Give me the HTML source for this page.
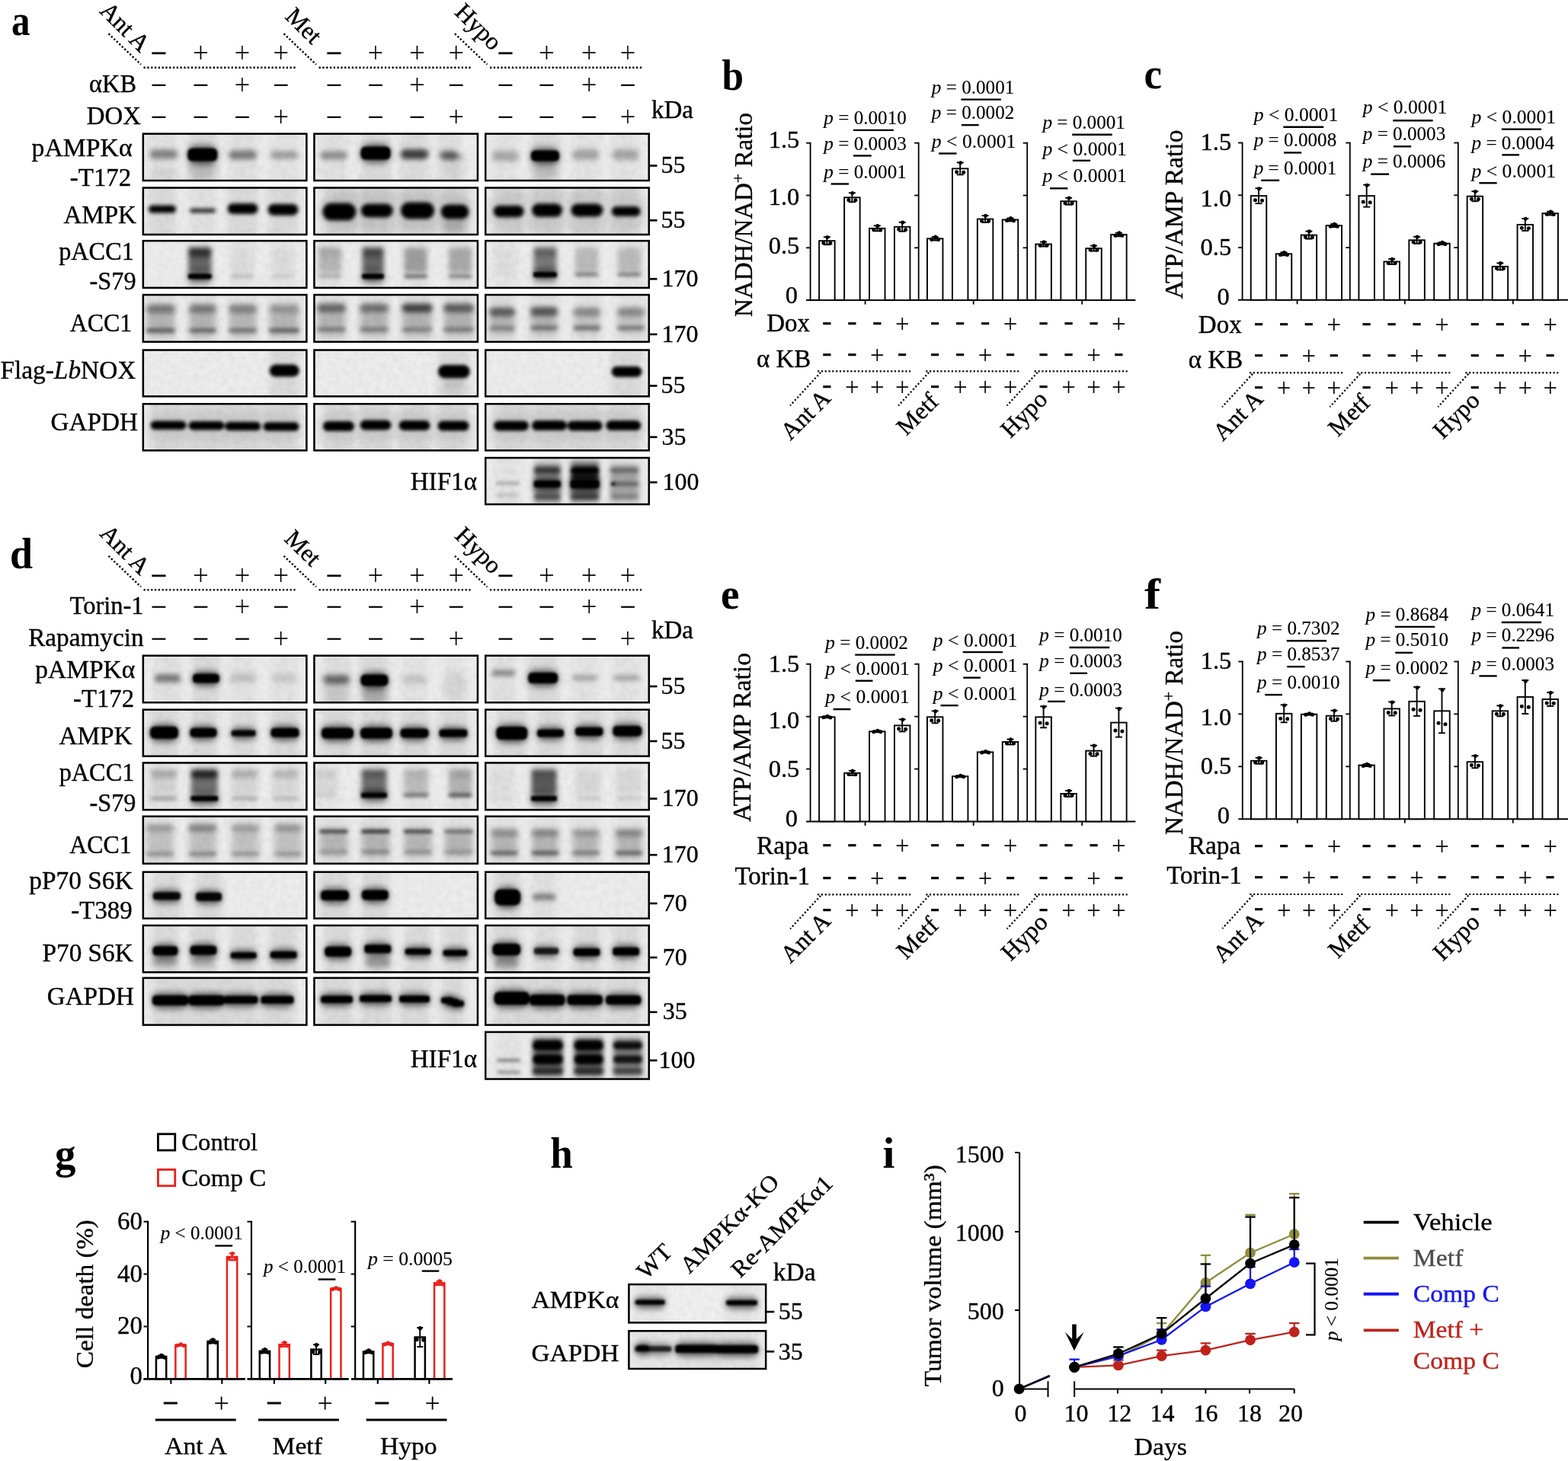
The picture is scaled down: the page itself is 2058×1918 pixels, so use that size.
<!DOCTYPE html>
<html lang="en"><head><meta charset="utf-8"><title>Figure</title>
<style>html,body{margin:0;padding:0;background:#fff}svg{display:block}text{font-family:'Liberation Serif','DejaVu Serif',serif}</style>
</head><body>
<svg width="2058" height="1918" viewBox="0 0 2058 1918">
<defs><clipPath id="c1"><rect x="186.6" y="174.4" width="217" height="63.9"/></clipPath><filter id="c1b5" filterUnits="userSpaceOnUse" x="166.6" y="154.4" width="257" height="103.9"><feGaussianBlur stdDeviation="5"/></filter><filter id="c1b4" filterUnits="userSpaceOnUse" x="166.6" y="154.4" width="257" height="103.9"><feGaussianBlur stdDeviation="4"/></filter><filter id="c1b3_2" filterUnits="userSpaceOnUse" x="166.6" y="154.4" width="257" height="103.9"><feGaussianBlur stdDeviation="3.2"/></filter><filter id="c1b1_7" filterUnits="userSpaceOnUse" x="166.6" y="154.4" width="257" height="103.9"><feGaussianBlur stdDeviation="1.7"/></filter><clipPath id="c2"><rect x="411.2" y="174.4" width="217" height="63.9"/></clipPath><filter id="c2b5" filterUnits="userSpaceOnUse" x="391.2" y="154.4" width="257" height="103.9"><feGaussianBlur stdDeviation="5"/></filter><filter id="c2b4" filterUnits="userSpaceOnUse" x="391.2" y="154.4" width="257" height="103.9"><feGaussianBlur stdDeviation="4"/></filter><filter id="c2b3_5" filterUnits="userSpaceOnUse" x="391.2" y="154.4" width="257" height="103.9"><feGaussianBlur stdDeviation="3.5"/></filter><filter id="c2b3_2" filterUnits="userSpaceOnUse" x="391.2" y="154.4" width="257" height="103.9"><feGaussianBlur stdDeviation="3.2"/></filter><filter id="c2b3" filterUnits="userSpaceOnUse" x="391.2" y="154.4" width="257" height="103.9"><feGaussianBlur stdDeviation="3"/></filter><filter id="c2b1_7" filterUnits="userSpaceOnUse" x="391.2" y="154.4" width="257" height="103.9"><feGaussianBlur stdDeviation="1.7"/></filter><clipPath id="c3"><rect x="636" y="174.4" width="217" height="63.9"/></clipPath><filter id="c3b5" filterUnits="userSpaceOnUse" x="616" y="154.4" width="257" height="103.9"><feGaussianBlur stdDeviation="5"/></filter><filter id="c3b4" filterUnits="userSpaceOnUse" x="616" y="154.4" width="257" height="103.9"><feGaussianBlur stdDeviation="4"/></filter><filter id="c3b3_5" filterUnits="userSpaceOnUse" x="616" y="154.4" width="257" height="103.9"><feGaussianBlur stdDeviation="3.5"/></filter><filter id="c3b1_7" filterUnits="userSpaceOnUse" x="616" y="154.4" width="257" height="103.9"><feGaussianBlur stdDeviation="1.7"/></filter><clipPath id="c4"><rect x="186.6" y="245.3" width="217" height="63.9"/></clipPath><filter id="c4b5" filterUnits="userSpaceOnUse" x="166.6" y="225.3" width="257" height="103.9"><feGaussianBlur stdDeviation="5"/></filter><filter id="c4b2_5" filterUnits="userSpaceOnUse" x="166.6" y="225.3" width="257" height="103.9"><feGaussianBlur stdDeviation="2.5"/></filter><clipPath id="c5"><rect x="411.2" y="245.3" width="217" height="63.9"/></clipPath><filter id="c5b6" filterUnits="userSpaceOnUse" x="391.2" y="225.3" width="257" height="103.9"><feGaussianBlur stdDeviation="6"/></filter><filter id="c5b5" filterUnits="userSpaceOnUse" x="391.2" y="225.3" width="257" height="103.9"><feGaussianBlur stdDeviation="5"/></filter><filter id="c5b2_5" filterUnits="userSpaceOnUse" x="391.2" y="225.3" width="257" height="103.9"><feGaussianBlur stdDeviation="2.5"/></filter><clipPath id="c6"><rect x="636" y="245.3" width="217" height="63.9"/></clipPath><filter id="c6b6" filterUnits="userSpaceOnUse" x="616" y="225.3" width="257" height="103.9"><feGaussianBlur stdDeviation="6"/></filter><filter id="c6b5" filterUnits="userSpaceOnUse" x="616" y="225.3" width="257" height="103.9"><feGaussianBlur stdDeviation="5"/></filter><filter id="c6b2_5" filterUnits="userSpaceOnUse" x="616" y="225.3" width="257" height="103.9"><feGaussianBlur stdDeviation="2.5"/></filter><clipPath id="c7"><rect x="186.6" y="314.9" width="217" height="64.2"/></clipPath><filter id="c7b5" filterUnits="userSpaceOnUse" x="166.6" y="294.9" width="257" height="104.2"><feGaussianBlur stdDeviation="5"/></filter><filter id="c7b4" filterUnits="userSpaceOnUse" x="166.6" y="294.9" width="257" height="104.2"><feGaussianBlur stdDeviation="4"/></filter><filter id="c7b3" filterUnits="userSpaceOnUse" x="166.6" y="294.9" width="257" height="104.2"><feGaussianBlur stdDeviation="3"/></filter><filter id="c7b2_4" filterUnits="userSpaceOnUse" x="166.6" y="294.9" width="257" height="104.2"><feGaussianBlur stdDeviation="2.4"/></filter><filter id="c7b1_7" filterUnits="userSpaceOnUse" x="166.6" y="294.9" width="257" height="104.2"><feGaussianBlur stdDeviation="1.7"/></filter><clipPath id="c8"><rect x="411.2" y="314.9" width="217" height="64.2"/></clipPath><filter id="c8b5" filterUnits="userSpaceOnUse" x="391.2" y="294.9" width="257" height="104.2"><feGaussianBlur stdDeviation="5"/></filter><filter id="c8b4" filterUnits="userSpaceOnUse" x="391.2" y="294.9" width="257" height="104.2"><feGaussianBlur stdDeviation="4"/></filter><filter id="c8b3" filterUnits="userSpaceOnUse" x="391.2" y="294.9" width="257" height="104.2"><feGaussianBlur stdDeviation="3"/></filter><filter id="c8b2_4" filterUnits="userSpaceOnUse" x="391.2" y="294.9" width="257" height="104.2"><feGaussianBlur stdDeviation="2.4"/></filter><filter id="c8b1_7" filterUnits="userSpaceOnUse" x="391.2" y="294.9" width="257" height="104.2"><feGaussianBlur stdDeviation="1.7"/></filter><clipPath id="c9"><rect x="636" y="314.9" width="217" height="64.2"/></clipPath><filter id="c9b5" filterUnits="userSpaceOnUse" x="616" y="294.9" width="257" height="104.2"><feGaussianBlur stdDeviation="5"/></filter><filter id="c9b4" filterUnits="userSpaceOnUse" x="616" y="294.9" width="257" height="104.2"><feGaussianBlur stdDeviation="4"/></filter><filter id="c9b3" filterUnits="userSpaceOnUse" x="616" y="294.9" width="257" height="104.2"><feGaussianBlur stdDeviation="3"/></filter><filter id="c9b2_4" filterUnits="userSpaceOnUse" x="616" y="294.9" width="257" height="104.2"><feGaussianBlur stdDeviation="2.4"/></filter><filter id="c9b1_7" filterUnits="userSpaceOnUse" x="616" y="294.9" width="257" height="104.2"><feGaussianBlur stdDeviation="1.7"/></filter><clipPath id="c10"><rect x="186.6" y="385.8" width="217" height="64.2"/></clipPath><filter id="c10b5" filterUnits="userSpaceOnUse" x="166.6" y="365.8" width="257" height="104.2"><feGaussianBlur stdDeviation="5"/></filter><filter id="c10b4" filterUnits="userSpaceOnUse" x="166.6" y="365.8" width="257" height="104.2"><feGaussianBlur stdDeviation="4"/></filter><filter id="c10b3_2" filterUnits="userSpaceOnUse" x="166.6" y="365.8" width="257" height="104.2"><feGaussianBlur stdDeviation="3.2"/></filter><filter id="c10b2_6" filterUnits="userSpaceOnUse" x="166.6" y="365.8" width="257" height="104.2"><feGaussianBlur stdDeviation="2.6"/></filter><clipPath id="c11"><rect x="411.2" y="385.8" width="217" height="64.2"/></clipPath><filter id="c11b5" filterUnits="userSpaceOnUse" x="391.2" y="365.8" width="257" height="104.2"><feGaussianBlur stdDeviation="5"/></filter><filter id="c11b4" filterUnits="userSpaceOnUse" x="391.2" y="365.8" width="257" height="104.2"><feGaussianBlur stdDeviation="4"/></filter><filter id="c11b3_2" filterUnits="userSpaceOnUse" x="391.2" y="365.8" width="257" height="104.2"><feGaussianBlur stdDeviation="3.2"/></filter><filter id="c11b2_6" filterUnits="userSpaceOnUse" x="391.2" y="365.8" width="257" height="104.2"><feGaussianBlur stdDeviation="2.6"/></filter><clipPath id="c12"><rect x="636" y="385.8" width="217" height="64.2"/></clipPath><filter id="c12b5" filterUnits="userSpaceOnUse" x="616" y="365.8" width="257" height="104.2"><feGaussianBlur stdDeviation="5"/></filter><filter id="c12b4" filterUnits="userSpaceOnUse" x="616" y="365.8" width="257" height="104.2"><feGaussianBlur stdDeviation="4"/></filter><filter id="c12b3_2" filterUnits="userSpaceOnUse" x="616" y="365.8" width="257" height="104.2"><feGaussianBlur stdDeviation="3.2"/></filter><filter id="c12b2_6" filterUnits="userSpaceOnUse" x="616" y="365.8" width="257" height="104.2"><feGaussianBlur stdDeviation="2.6"/></filter><clipPath id="c13"><rect x="186.6" y="458.3" width="217" height="63.3"/></clipPath><filter id="c13b5" filterUnits="userSpaceOnUse" x="166.6" y="438.3" width="257" height="103.3"><feGaussianBlur stdDeviation="5"/></filter><filter id="c13b2_2" filterUnits="userSpaceOnUse" x="166.6" y="438.3" width="257" height="103.3"><feGaussianBlur stdDeviation="2.2"/></filter><clipPath id="c14"><rect x="411.2" y="458.3" width="217" height="63.3"/></clipPath><filter id="c14b5" filterUnits="userSpaceOnUse" x="391.2" y="438.3" width="257" height="103.3"><feGaussianBlur stdDeviation="5"/></filter><filter id="c14b2_2" filterUnits="userSpaceOnUse" x="391.2" y="438.3" width="257" height="103.3"><feGaussianBlur stdDeviation="2.2"/></filter><clipPath id="c15"><rect x="636" y="458.3" width="217" height="63.3"/></clipPath><filter id="c15b5" filterUnits="userSpaceOnUse" x="616" y="438.3" width="257" height="103.3"><feGaussianBlur stdDeviation="5"/></filter><filter id="c15b2_2" filterUnits="userSpaceOnUse" x="616" y="438.3" width="257" height="103.3"><feGaussianBlur stdDeviation="2.2"/></filter><clipPath id="c16"><rect x="186.6" y="529" width="217" height="63.6"/></clipPath><filter id="c16b6" filterUnits="userSpaceOnUse" x="166.6" y="509" width="257" height="103.6"><feGaussianBlur stdDeviation="6"/></filter><filter id="c16b5" filterUnits="userSpaceOnUse" x="166.6" y="509" width="257" height="103.6"><feGaussianBlur stdDeviation="5"/></filter><filter id="c16b2_3" filterUnits="userSpaceOnUse" x="166.6" y="509" width="257" height="103.6"><feGaussianBlur stdDeviation="2.3"/></filter><clipPath id="c17"><rect x="411.2" y="529" width="217" height="63.6"/></clipPath><filter id="c17b6" filterUnits="userSpaceOnUse" x="391.2" y="509" width="257" height="103.6"><feGaussianBlur stdDeviation="6"/></filter><filter id="c17b5" filterUnits="userSpaceOnUse" x="391.2" y="509" width="257" height="103.6"><feGaussianBlur stdDeviation="5"/></filter><filter id="c17b2_3" filterUnits="userSpaceOnUse" x="391.2" y="509" width="257" height="103.6"><feGaussianBlur stdDeviation="2.3"/></filter><clipPath id="c18"><rect x="636" y="529" width="217" height="63.6"/></clipPath><filter id="c18b6" filterUnits="userSpaceOnUse" x="616" y="509" width="257" height="103.6"><feGaussianBlur stdDeviation="6"/></filter><filter id="c18b5" filterUnits="userSpaceOnUse" x="616" y="509" width="257" height="103.6"><feGaussianBlur stdDeviation="5"/></filter><filter id="c18b2_3" filterUnits="userSpaceOnUse" x="616" y="509" width="257" height="103.6"><feGaussianBlur stdDeviation="2.3"/></filter><clipPath id="c19"><rect x="636" y="599.8" width="217" height="63.5"/></clipPath><filter id="c19b5" filterUnits="userSpaceOnUse" x="616" y="579.8" width="257" height="103.5"><feGaussianBlur stdDeviation="5"/></filter><filter id="c19b4" filterUnits="userSpaceOnUse" x="616" y="579.8" width="257" height="103.5"><feGaussianBlur stdDeviation="4"/></filter><filter id="c19b3" filterUnits="userSpaceOnUse" x="616" y="579.8" width="257" height="103.5"><feGaussianBlur stdDeviation="3"/></filter><filter id="c19b2_8" filterUnits="userSpaceOnUse" x="616" y="579.8" width="257" height="103.5"><feGaussianBlur stdDeviation="2.8"/></filter><filter id="c19b2_5" filterUnits="userSpaceOnUse" x="616" y="579.8" width="257" height="103.5"><feGaussianBlur stdDeviation="2.5"/></filter><filter id="c19b2_2" filterUnits="userSpaceOnUse" x="616" y="579.8" width="257" height="103.5"><feGaussianBlur stdDeviation="2.2"/></filter><filter id="c19b1_8" filterUnits="userSpaceOnUse" x="616" y="579.8" width="257" height="103.5"><feGaussianBlur stdDeviation="1.8"/></filter><filter id="c19b1_7" filterUnits="userSpaceOnUse" x="616" y="579.8" width="257" height="103.5"><feGaussianBlur stdDeviation="1.7"/></filter><clipPath id="c20"><rect x="186.6" y="859.5" width="217" height="64"/></clipPath><filter id="c20b5" filterUnits="userSpaceOnUse" x="166.6" y="839.5" width="257" height="104"><feGaussianBlur stdDeviation="5"/></filter><filter id="c20b4" filterUnits="userSpaceOnUse" x="166.6" y="839.5" width="257" height="104"><feGaussianBlur stdDeviation="4"/></filter><filter id="c20b3_5" filterUnits="userSpaceOnUse" x="166.6" y="839.5" width="257" height="104"><feGaussianBlur stdDeviation="3.5"/></filter><filter id="c20b3_3" filterUnits="userSpaceOnUse" x="166.6" y="839.5" width="257" height="104"><feGaussianBlur stdDeviation="3.3"/></filter><filter id="c20b1_7" filterUnits="userSpaceOnUse" x="166.6" y="839.5" width="257" height="104"><feGaussianBlur stdDeviation="1.7"/></filter><clipPath id="c21"><rect x="411.2" y="859.5" width="217" height="64"/></clipPath><filter id="c21b5" filterUnits="userSpaceOnUse" x="391.2" y="839.5" width="257" height="104"><feGaussianBlur stdDeviation="5"/></filter><filter id="c21b4" filterUnits="userSpaceOnUse" x="391.2" y="839.5" width="257" height="104"><feGaussianBlur stdDeviation="4"/></filter><filter id="c21b3_5" filterUnits="userSpaceOnUse" x="391.2" y="839.5" width="257" height="104"><feGaussianBlur stdDeviation="3.5"/></filter><filter id="c21b1_7" filterUnits="userSpaceOnUse" x="391.2" y="839.5" width="257" height="104"><feGaussianBlur stdDeviation="1.7"/></filter><clipPath id="c22"><rect x="636" y="859.5" width="217" height="64"/></clipPath><filter id="c22b5" filterUnits="userSpaceOnUse" x="616" y="839.5" width="257" height="104"><feGaussianBlur stdDeviation="5"/></filter><filter id="c22b4" filterUnits="userSpaceOnUse" x="616" y="839.5" width="257" height="104"><feGaussianBlur stdDeviation="4"/></filter><filter id="c22b3" filterUnits="userSpaceOnUse" x="616" y="839.5" width="257" height="104"><feGaussianBlur stdDeviation="3"/></filter><filter id="c22b1_7" filterUnits="userSpaceOnUse" x="616" y="839.5" width="257" height="104"><feGaussianBlur stdDeviation="1.7"/></filter><clipPath id="c23"><rect x="186.6" y="930.4" width="217" height="63.6"/></clipPath><filter id="c23b5" filterUnits="userSpaceOnUse" x="166.6" y="910.4" width="257" height="103.6"><feGaussianBlur stdDeviation="5"/></filter><filter id="c23b4" filterUnits="userSpaceOnUse" x="166.6" y="910.4" width="257" height="103.6"><feGaussianBlur stdDeviation="4"/></filter><filter id="c23b1_7" filterUnits="userSpaceOnUse" x="166.6" y="910.4" width="257" height="103.6"><feGaussianBlur stdDeviation="1.7"/></filter><clipPath id="c24"><rect x="411.2" y="930.4" width="217" height="63.6"/></clipPath><filter id="c24b5" filterUnits="userSpaceOnUse" x="391.2" y="910.4" width="257" height="103.6"><feGaussianBlur stdDeviation="5"/></filter><filter id="c24b4" filterUnits="userSpaceOnUse" x="391.2" y="910.4" width="257" height="103.6"><feGaussianBlur stdDeviation="4"/></filter><filter id="c24b1_7" filterUnits="userSpaceOnUse" x="391.2" y="910.4" width="257" height="103.6"><feGaussianBlur stdDeviation="1.7"/></filter><clipPath id="c25"><rect x="636" y="930.4" width="217" height="63.6"/></clipPath><filter id="c25b5" filterUnits="userSpaceOnUse" x="616" y="910.4" width="257" height="103.6"><feGaussianBlur stdDeviation="5"/></filter><filter id="c25b4" filterUnits="userSpaceOnUse" x="616" y="910.4" width="257" height="103.6"><feGaussianBlur stdDeviation="4"/></filter><filter id="c25b1_7" filterUnits="userSpaceOnUse" x="616" y="910.4" width="257" height="103.6"><feGaussianBlur stdDeviation="1.7"/></filter><clipPath id="c26"><rect x="186.6" y="1000.2" width="217" height="64.2"/></clipPath><filter id="c26b5" filterUnits="userSpaceOnUse" x="166.6" y="980.2" width="257" height="104.2"><feGaussianBlur stdDeviation="5"/></filter><filter id="c26b4" filterUnits="userSpaceOnUse" x="166.6" y="980.2" width="257" height="104.2"><feGaussianBlur stdDeviation="4"/></filter><filter id="c26b3" filterUnits="userSpaceOnUse" x="166.6" y="980.2" width="257" height="104.2"><feGaussianBlur stdDeviation="3"/></filter><filter id="c26b2_4" filterUnits="userSpaceOnUse" x="166.6" y="980.2" width="257" height="104.2"><feGaussianBlur stdDeviation="2.4"/></filter><filter id="c26b1_7" filterUnits="userSpaceOnUse" x="166.6" y="980.2" width="257" height="104.2"><feGaussianBlur stdDeviation="1.7"/></filter><clipPath id="c27"><rect x="411.2" y="1000.2" width="217" height="64.2"/></clipPath><filter id="c27b5" filterUnits="userSpaceOnUse" x="391.2" y="980.2" width="257" height="104.2"><feGaussianBlur stdDeviation="5"/></filter><filter id="c27b4" filterUnits="userSpaceOnUse" x="391.2" y="980.2" width="257" height="104.2"><feGaussianBlur stdDeviation="4"/></filter><filter id="c27b3" filterUnits="userSpaceOnUse" x="391.2" y="980.2" width="257" height="104.2"><feGaussianBlur stdDeviation="3"/></filter><filter id="c27b2_4" filterUnits="userSpaceOnUse" x="391.2" y="980.2" width="257" height="104.2"><feGaussianBlur stdDeviation="2.4"/></filter><filter id="c27b1_7" filterUnits="userSpaceOnUse" x="391.2" y="980.2" width="257" height="104.2"><feGaussianBlur stdDeviation="1.7"/></filter><clipPath id="c28"><rect x="636" y="1000.2" width="217" height="64.2"/></clipPath><filter id="c28b5" filterUnits="userSpaceOnUse" x="616" y="980.2" width="257" height="104.2"><feGaussianBlur stdDeviation="5"/></filter><filter id="c28b4" filterUnits="userSpaceOnUse" x="616" y="980.2" width="257" height="104.2"><feGaussianBlur stdDeviation="4"/></filter><filter id="c28b3" filterUnits="userSpaceOnUse" x="616" y="980.2" width="257" height="104.2"><feGaussianBlur stdDeviation="3"/></filter><filter id="c28b2_4" filterUnits="userSpaceOnUse" x="616" y="980.2" width="257" height="104.2"><feGaussianBlur stdDeviation="2.4"/></filter><filter id="c28b1_7" filterUnits="userSpaceOnUse" x="616" y="980.2" width="257" height="104.2"><feGaussianBlur stdDeviation="1.7"/></filter><clipPath id="c29"><rect x="186.6" y="1070.5" width="217" height="64.5"/></clipPath><filter id="c29b5" filterUnits="userSpaceOnUse" x="166.6" y="1050.5" width="257" height="104.5"><feGaussianBlur stdDeviation="5"/></filter><filter id="c29b4" filterUnits="userSpaceOnUse" x="166.6" y="1050.5" width="257" height="104.5"><feGaussianBlur stdDeviation="4"/></filter><filter id="c29b3" filterUnits="userSpaceOnUse" x="166.6" y="1050.5" width="257" height="104.5"><feGaussianBlur stdDeviation="3"/></filter><filter id="c29b2_5" filterUnits="userSpaceOnUse" x="166.6" y="1050.5" width="257" height="104.5"><feGaussianBlur stdDeviation="2.5"/></filter><clipPath id="c30"><rect x="411.2" y="1070.5" width="217" height="64.5"/></clipPath><filter id="c30b5" filterUnits="userSpaceOnUse" x="391.2" y="1050.5" width="257" height="104.5"><feGaussianBlur stdDeviation="5"/></filter><filter id="c30b4" filterUnits="userSpaceOnUse" x="391.2" y="1050.5" width="257" height="104.5"><feGaussianBlur stdDeviation="4"/></filter><filter id="c30b2_5" filterUnits="userSpaceOnUse" x="391.2" y="1050.5" width="257" height="104.5"><feGaussianBlur stdDeviation="2.5"/></filter><filter id="c30b2_2" filterUnits="userSpaceOnUse" x="391.2" y="1050.5" width="257" height="104.5"><feGaussianBlur stdDeviation="2.2"/></filter><clipPath id="c31"><rect x="636" y="1070.5" width="217" height="64.5"/></clipPath><filter id="c31b5" filterUnits="userSpaceOnUse" x="616" y="1050.5" width="257" height="104.5"><feGaussianBlur stdDeviation="5"/></filter><filter id="c31b4" filterUnits="userSpaceOnUse" x="616" y="1050.5" width="257" height="104.5"><feGaussianBlur stdDeviation="4"/></filter><filter id="c31b3" filterUnits="userSpaceOnUse" x="616" y="1050.5" width="257" height="104.5"><feGaussianBlur stdDeviation="3"/></filter><filter id="c31b2_5" filterUnits="userSpaceOnUse" x="616" y="1050.5" width="257" height="104.5"><feGaussianBlur stdDeviation="2.5"/></filter><clipPath id="c32"><rect x="186.6" y="1143.5" width="217" height="63.5"/></clipPath><filter id="c32b5" filterUnits="userSpaceOnUse" x="166.6" y="1123.5" width="257" height="103.5"><feGaussianBlur stdDeviation="5"/></filter><filter id="c32b4" filterUnits="userSpaceOnUse" x="166.6" y="1123.5" width="257" height="103.5"><feGaussianBlur stdDeviation="4"/></filter><filter id="c32b1_7" filterUnits="userSpaceOnUse" x="166.6" y="1123.5" width="257" height="103.5"><feGaussianBlur stdDeviation="1.7"/></filter><clipPath id="c33"><rect x="411.2" y="1143.5" width="217" height="63.5"/></clipPath><filter id="c33b5" filterUnits="userSpaceOnUse" x="391.2" y="1123.5" width="257" height="103.5"><feGaussianBlur stdDeviation="5"/></filter><filter id="c33b4" filterUnits="userSpaceOnUse" x="391.2" y="1123.5" width="257" height="103.5"><feGaussianBlur stdDeviation="4"/></filter><filter id="c33b1_7" filterUnits="userSpaceOnUse" x="391.2" y="1123.5" width="257" height="103.5"><feGaussianBlur stdDeviation="1.7"/></filter><clipPath id="c34"><rect x="636" y="1143.5" width="217" height="63.5"/></clipPath><filter id="c34b5" filterUnits="userSpaceOnUse" x="616" y="1123.5" width="257" height="103.5"><feGaussianBlur stdDeviation="5"/></filter><filter id="c34b4" filterUnits="userSpaceOnUse" x="616" y="1123.5" width="257" height="103.5"><feGaussianBlur stdDeviation="4"/></filter><filter id="c34b3" filterUnits="userSpaceOnUse" x="616" y="1123.5" width="257" height="103.5"><feGaussianBlur stdDeviation="3"/></filter><filter id="c34b1_7" filterUnits="userSpaceOnUse" x="616" y="1123.5" width="257" height="103.5"><feGaussianBlur stdDeviation="1.7"/></filter><clipPath id="c35"><rect x="186.6" y="1213.7" width="217" height="63.9"/></clipPath><filter id="c35b5" filterUnits="userSpaceOnUse" x="166.6" y="1193.7" width="257" height="103.9"><feGaussianBlur stdDeviation="5"/></filter><filter id="c35b4" filterUnits="userSpaceOnUse" x="166.6" y="1193.7" width="257" height="103.9"><feGaussianBlur stdDeviation="4"/></filter><filter id="c35b3_5" filterUnits="userSpaceOnUse" x="166.6" y="1193.7" width="257" height="103.9"><feGaussianBlur stdDeviation="3.5"/></filter><filter id="c35b1_7" filterUnits="userSpaceOnUse" x="166.6" y="1193.7" width="257" height="103.9"><feGaussianBlur stdDeviation="1.7"/></filter><clipPath id="c36"><rect x="411.2" y="1213.7" width="217" height="63.9"/></clipPath><filter id="c36b5" filterUnits="userSpaceOnUse" x="391.2" y="1193.7" width="257" height="103.9"><feGaussianBlur stdDeviation="5"/></filter><filter id="c36b4" filterUnits="userSpaceOnUse" x="391.2" y="1193.7" width="257" height="103.9"><feGaussianBlur stdDeviation="4"/></filter><filter id="c36b3_5" filterUnits="userSpaceOnUse" x="391.2" y="1193.7" width="257" height="103.9"><feGaussianBlur stdDeviation="3.5"/></filter><filter id="c36b1_7" filterUnits="userSpaceOnUse" x="391.2" y="1193.7" width="257" height="103.9"><feGaussianBlur stdDeviation="1.7"/></filter><clipPath id="c37"><rect x="636" y="1213.7" width="217" height="63.9"/></clipPath><filter id="c37b5" filterUnits="userSpaceOnUse" x="616" y="1193.7" width="257" height="103.9"><feGaussianBlur stdDeviation="5"/></filter><filter id="c37b4" filterUnits="userSpaceOnUse" x="616" y="1193.7" width="257" height="103.9"><feGaussianBlur stdDeviation="4"/></filter><filter id="c37b3_5" filterUnits="userSpaceOnUse" x="616" y="1193.7" width="257" height="103.9"><feGaussianBlur stdDeviation="3.5"/></filter><filter id="c37b1_7" filterUnits="userSpaceOnUse" x="616" y="1193.7" width="257" height="103.9"><feGaussianBlur stdDeviation="1.7"/></filter><clipPath id="c38"><rect x="186.6" y="1282.6" width="217" height="64.2"/></clipPath><filter id="c38b5" filterUnits="userSpaceOnUse" x="166.6" y="1262.6" width="257" height="104.2"><feGaussianBlur stdDeviation="5"/></filter><filter id="c38b4" filterUnits="userSpaceOnUse" x="166.6" y="1262.6" width="257" height="104.2"><feGaussianBlur stdDeviation="4"/></filter><filter id="c38b1_7" filterUnits="userSpaceOnUse" x="166.6" y="1262.6" width="257" height="104.2"><feGaussianBlur stdDeviation="1.7"/></filter><clipPath id="c39"><rect x="411.2" y="1282.6" width="217" height="64.2"/></clipPath><filter id="c39b5" filterUnits="userSpaceOnUse" x="391.2" y="1262.6" width="257" height="104.2"><feGaussianBlur stdDeviation="5"/></filter><filter id="c39b4" filterUnits="userSpaceOnUse" x="391.2" y="1262.6" width="257" height="104.2"><feGaussianBlur stdDeviation="4"/></filter><filter id="c39b1_7" filterUnits="userSpaceOnUse" x="391.2" y="1262.6" width="257" height="104.2"><feGaussianBlur stdDeviation="1.7"/></filter><clipPath id="c40"><rect x="636" y="1282.6" width="217" height="64.2"/></clipPath><filter id="c40b5" filterUnits="userSpaceOnUse" x="616" y="1262.6" width="257" height="104.2"><feGaussianBlur stdDeviation="5"/></filter><filter id="c40b4" filterUnits="userSpaceOnUse" x="616" y="1262.6" width="257" height="104.2"><feGaussianBlur stdDeviation="4"/></filter><filter id="c40b1_7" filterUnits="userSpaceOnUse" x="616" y="1262.6" width="257" height="104.2"><feGaussianBlur stdDeviation="1.7"/></filter><clipPath id="c41"><rect x="636" y="1353.6" width="217" height="64.2"/></clipPath><filter id="c41b5" filterUnits="userSpaceOnUse" x="616" y="1333.6" width="257" height="104.2"><feGaussianBlur stdDeviation="5"/></filter><filter id="c41b3" filterUnits="userSpaceOnUse" x="616" y="1333.6" width="257" height="104.2"><feGaussianBlur stdDeviation="3"/></filter><filter id="c41b2_5" filterUnits="userSpaceOnUse" x="616" y="1333.6" width="257" height="104.2"><feGaussianBlur stdDeviation="2.5"/></filter><filter id="c41b2" filterUnits="userSpaceOnUse" x="616" y="1333.6" width="257" height="104.2"><feGaussianBlur stdDeviation="2"/></filter><clipPath id="c42"><rect x="824.16" y="1684.91" width="182.26" height="52.7"/></clipPath><filter id="c42b5" filterUnits="userSpaceOnUse" x="804.16" y="1664.91" width="222.26" height="92.7"><feGaussianBlur stdDeviation="5"/></filter><filter id="c42b4" filterUnits="userSpaceOnUse" x="804.16" y="1664.91" width="222.26" height="92.7"><feGaussianBlur stdDeviation="4"/></filter><filter id="c42b1_7" filterUnits="userSpaceOnUse" x="804.16" y="1664.91" width="222.26" height="92.7"><feGaussianBlur stdDeviation="1.7"/></filter><clipPath id="c43"><rect x="824.16" y="1746.03" width="182.26" height="52.15"/></clipPath><filter id="c43b5" filterUnits="userSpaceOnUse" x="804.16" y="1726.03" width="222.26" height="92.15"><feGaussianBlur stdDeviation="5"/></filter><filter id="c43b4" filterUnits="userSpaceOnUse" x="804.16" y="1726.03" width="222.26" height="92.15"><feGaussianBlur stdDeviation="4"/></filter><filter id="c43b1_7" filterUnits="userSpaceOnUse" x="804.16" y="1726.03" width="222.26" height="92.15"><feGaussianBlur stdDeviation="1.7"/></filter><filter id="nz" x="0" y="0" width="100%" height="100%"><feTurbulence type="fractalNoise" baseFrequency="0.13" numOctaves="2" seed="3"/><feColorMatrix type="matrix" values="0 0 0 0 0  0 0 0 0 0  0 0 0 0 0  0.07 0 0 0 -0.02"/></filter></defs>
<rect width="2058" height="1918" fill="#fff"/>
<text x="15" y="45.5" font-size="57" font-weight="bold" textLength="24.5" lengthAdjust="spacingAndGlyphs">a</text>
<text x="208.5" y="82.1" font-size="37" text-anchor="middle" stroke="#000" stroke-width="0.9">−</text>
<text x="263.4" y="82.1" font-size="37" text-anchor="middle" stroke="#fff" stroke-width="0.15">+</text>
<text x="318" y="82.1" font-size="37" text-anchor="middle" stroke="#fff" stroke-width="0.15">+</text>
<text x="368.7" y="82.1" font-size="37" text-anchor="middle" stroke="#fff" stroke-width="0.15">+</text>
<text x="208.5" y="124.4" font-size="37" text-anchor="middle" stroke="#000" stroke-width="0.5">−</text>
<text x="263.4" y="124.4" font-size="37" text-anchor="middle" stroke="#000" stroke-width="0.5">−</text>
<text x="318" y="124.4" font-size="37" text-anchor="middle" stroke="#fff" stroke-width="0.15">+</text>
<text x="368.7" y="124.4" font-size="37" text-anchor="middle" stroke="#000" stroke-width="0.5">−</text>
<text x="208.5" y="166" font-size="37" text-anchor="middle" stroke="#000" stroke-width="0.5">−</text>
<text x="263.4" y="166" font-size="37" text-anchor="middle" stroke="#000" stroke-width="0.5">−</text>
<text x="318" y="166" font-size="37" text-anchor="middle" stroke="#000" stroke-width="0.5">−</text>
<text x="368.7" y="166" font-size="37" text-anchor="middle" stroke="#fff" stroke-width="0.15">+</text>
<text x="438.4" y="82.1" font-size="37" text-anchor="middle" stroke="#000" stroke-width="0.9">−</text>
<text x="493" y="82.1" font-size="37" text-anchor="middle" stroke="#fff" stroke-width="0.15">+</text>
<text x="547.5" y="82.1" font-size="37" text-anchor="middle" stroke="#fff" stroke-width="0.15">+</text>
<text x="598.6" y="82.1" font-size="37" text-anchor="middle" stroke="#fff" stroke-width="0.15">+</text>
<text x="438.4" y="124.4" font-size="37" text-anchor="middle" stroke="#000" stroke-width="0.5">−</text>
<text x="493" y="124.4" font-size="37" text-anchor="middle" stroke="#000" stroke-width="0.5">−</text>
<text x="547.5" y="124.4" font-size="37" text-anchor="middle" stroke="#fff" stroke-width="0.15">+</text>
<text x="598.6" y="124.4" font-size="37" text-anchor="middle" stroke="#000" stroke-width="0.5">−</text>
<text x="438.4" y="166" font-size="37" text-anchor="middle" stroke="#000" stroke-width="0.5">−</text>
<text x="493" y="166" font-size="37" text-anchor="middle" stroke="#000" stroke-width="0.5">−</text>
<text x="547.5" y="166" font-size="37" text-anchor="middle" stroke="#000" stroke-width="0.5">−</text>
<text x="598.6" y="166" font-size="37" text-anchor="middle" stroke="#fff" stroke-width="0.15">+</text>
<text x="663.4" y="82.1" font-size="37" text-anchor="middle" stroke="#000" stroke-width="0.9">−</text>
<text x="717.5" y="82.1" font-size="37" text-anchor="middle" stroke="#fff" stroke-width="0.15">+</text>
<text x="773.2" y="82.1" font-size="37" text-anchor="middle" stroke="#fff" stroke-width="0.15">+</text>
<text x="824" y="82.1" font-size="37" text-anchor="middle" stroke="#fff" stroke-width="0.15">+</text>
<text x="663.4" y="124.4" font-size="37" text-anchor="middle" stroke="#000" stroke-width="0.5">−</text>
<text x="717.5" y="124.4" font-size="37" text-anchor="middle" stroke="#000" stroke-width="0.5">−</text>
<text x="773.2" y="124.4" font-size="37" text-anchor="middle" stroke="#fff" stroke-width="0.15">+</text>
<text x="824" y="124.4" font-size="37" text-anchor="middle" stroke="#000" stroke-width="0.5">−</text>
<text x="663.4" y="166" font-size="37" text-anchor="middle" stroke="#000" stroke-width="0.5">−</text>
<text x="717.5" y="166" font-size="37" text-anchor="middle" stroke="#000" stroke-width="0.5">−</text>
<text x="773.2" y="166" font-size="37" text-anchor="middle" stroke="#000" stroke-width="0.5">−</text>
<text x="824" y="166" font-size="37" text-anchor="middle" stroke="#fff" stroke-width="0.15">+</text>
<line x1="188.5" y1="88.7" x2="389.5" y2="88.7" stroke="#000" stroke-width="2.4" stroke-dasharray="2.3 2.5"/>
<line x1="142.5" y1="44.2" x2="185" y2="84.7" stroke="#000" stroke-width="2.4" stroke-dasharray="2.3 2.5"/>
<line x1="418.5" y1="88.7" x2="619.5" y2="88.7" stroke="#000" stroke-width="2.4" stroke-dasharray="2.3 2.5"/>
<line x1="372.5" y1="44.2" x2="415" y2="84.7" stroke="#000" stroke-width="2.4" stroke-dasharray="2.3 2.5"/>
<line x1="643" y1="88.7" x2="844" y2="88.7" stroke="#000" stroke-width="2.4" stroke-dasharray="2.3 2.5"/>
<line x1="597" y1="44.2" x2="639.5" y2="84.7" stroke="#000" stroke-width="2.4" stroke-dasharray="2.3 2.5"/>
<text x="129.5" y="15.5" font-size="32" stroke="#000" stroke-width="0.35" transform="rotate(45 129.5 15.5)">Ant A</text>
<text x="373" y="23" font-size="32" stroke="#000" stroke-width="0.35" transform="rotate(45 373 23)">Met</text>
<text x="595.5" y="17.5" font-size="32" stroke="#000" stroke-width="0.35" transform="rotate(45 595.5 17.5)">Hypo</text>
<text x="179" y="120.9" font-size="33" stroke="#000" stroke-width="0.35" text-anchor="end" textLength="62" lengthAdjust="spacingAndGlyphs">αKB</text>
<text x="185" y="163.2" font-size="33" stroke="#000" stroke-width="0.35" text-anchor="end" textLength="71.2" lengthAdjust="spacingAndGlyphs">DOX</text>
<text x="855" y="154.8" font-size="33" stroke="#000" stroke-width="0.35">kDa</text>
<g clip-path="url(#c1)">
<rect x="186.6" y="174.4" width="217" height="63.9" fill="#ededed"/>
<rect x="186.6" y="174.4" width="217" height="63.9" filter="url(#nz)"/>
<g filter="url(#c1b5)">
<rect x="196.3" y="164.4" width="37" height="83.9" rx="4" fill="#000" fill-opacity="0.05"/>
<rect x="246.3" y="164.4" width="39" height="83.9" rx="4" fill="#000" fill-opacity="0.08"/>
<rect x="300.2" y="164.4" width="37" height="83.9" rx="4" fill="#000" fill-opacity="0.05"/>
<rect x="354.5" y="164.4" width="37" height="83.9" rx="4" fill="#000" fill-opacity="0.04"/>
<rect x="247.8" y="207" width="36" height="30" rx="15" fill="#000" fill-opacity="0.14"/>
</g>
<g filter="url(#c1b4)">
<rect x="245.8" y="191" width="40" height="25" rx="12.5" fill="#000" fill-opacity="0.6"/>
<rect x="197" y="221" width="34" height="14" rx="7" fill="#000" fill-opacity="0.06"/>
</g>
<g filter="url(#c1b3_2)">
<rect x="196.3" y="196.5" width="37" height="12" rx="6" fill="#000" fill-opacity="0.42"/>
<rect x="300.2" y="197.5" width="37" height="12" rx="6" fill="#000" fill-opacity="0.45"/>
<rect x="354.5" y="198" width="37" height="11" rx="5.5" fill="#000" fill-opacity="0.3"/>
</g>
<g filter="url(#c1b1_7)">
<rect x="246.3" y="194.5" width="39" height="17" rx="6.3" fill="#000" fill-opacity="1"/>
</g>
</g>
<rect x="187.85" y="175.65" width="214.5" height="61.4" fill="none" stroke="#000" stroke-width="2.5"/>
<g clip-path="url(#c2)">
<rect x="411.2" y="174.4" width="217" height="63.9" fill="#ededed"/>
<rect x="411.2" y="174.4" width="217" height="63.9" filter="url(#nz)"/>
<g filter="url(#c2b5)">
<rect x="420" y="164.4" width="36" height="83.9" rx="4" fill="#000" fill-opacity="0.05"/>
<rect x="473.5" y="164.4" width="39" height="83.9" rx="4" fill="#000" fill-opacity="0.08"/>
<rect x="525.5" y="164.4" width="37" height="83.9" rx="4" fill="#000" fill-opacity="0.07"/>
<rect x="574" y="164.4" width="30" height="83.9" rx="4" fill="#000" fill-opacity="0.06"/>
<rect x="583" y="208" width="30" height="28" rx="14" fill="#000" fill-opacity="0.06"/>
</g>
<g filter="url(#c2b4)">
<rect x="473" y="189" width="40" height="25" rx="12.5" fill="#000" fill-opacity="0.6"/>
</g>
<g filter="url(#c2b3_5)">
<rect x="577" y="198.5" width="24" height="11" rx="5.5" fill="#000" fill-opacity="0.6"/>
<rect x="584" y="202" width="26" height="8" rx="4" fill="#000" fill-opacity="0.2"/>
</g>
<g filter="url(#c2b3_2)">
<rect x="420" y="198.5" width="36" height="11" rx="5.5" fill="#000" fill-opacity="0.36"/>
</g>
<g filter="url(#c2b3)">
<rect x="525.5" y="196" width="37" height="13" rx="6.5" fill="#000" fill-opacity="0.72"/>
</g>
<g filter="url(#c2b1_7)">
<rect x="473.5" y="192.5" width="39" height="17" rx="6.3" fill="#000" fill-opacity="1"/>
</g>
</g>
<rect x="412.45" y="175.65" width="214.5" height="61.4" fill="none" stroke="#000" stroke-width="2.5"/>
<g clip-path="url(#c3)">
<rect x="636" y="174.4" width="217" height="63.9" fill="#ededed"/>
<rect x="636" y="174.4" width="217" height="63.9" filter="url(#nz)"/>
<g filter="url(#c3b5)">
<rect x="645.9" y="164.4" width="35" height="83.9" rx="4" fill="#000" fill-opacity="0.04"/>
<rect x="697" y="164.4" width="37" height="83.9" rx="4" fill="#000" fill-opacity="0.08"/>
<rect x="751" y="164.4" width="36" height="83.9" rx="4" fill="#000" fill-opacity="0.04"/>
<rect x="803" y="164.4" width="36" height="83.9" rx="4" fill="#000" fill-opacity="0.04"/>
<rect x="698.5" y="208" width="34" height="28" rx="14" fill="#000" fill-opacity="0.14"/>
</g>
<g filter="url(#c3b4)">
<rect x="696.5" y="193.9" width="38" height="22" rx="11" fill="#000" fill-opacity="0.6"/>
</g>
<g filter="url(#c3b3_5)">
<rect x="645.9" y="198.3" width="35" height="13" rx="6.5" fill="#000" fill-opacity="0.28"/>
<rect x="751" y="196" width="36" height="14" rx="7" fill="#000" fill-opacity="0.28"/>
<rect x="803" y="196" width="36" height="14" rx="7" fill="#000" fill-opacity="0.28"/>
</g>
<g filter="url(#c3b1_7)">
<rect x="697" y="197.4" width="37" height="14" rx="5.19" fill="#000" fill-opacity="1"/>
</g>
</g>
<rect x="637.25" y="175.65" width="214.5" height="61.4" fill="none" stroke="#000" stroke-width="2.5"/>
<g clip-path="url(#c4)">
<rect x="186.6" y="245.3" width="217" height="63.9" fill="#ededed"/>
<rect x="186.6" y="245.3" width="217" height="63.9" filter="url(#nz)"/>
<g filter="url(#c4b5)">
<rect x="195" y="235.3" width="36" height="83.9" rx="4" fill="#000" fill-opacity="0.08"/>
<rect x="249" y="235.3" width="34" height="83.9" rx="4" fill="#000" fill-opacity="0.05"/>
<rect x="298.6" y="235.3" width="40" height="83.9" rx="4" fill="#000" fill-opacity="0.08"/>
<rect x="351.5" y="235.3" width="40" height="83.9" rx="4" fill="#000" fill-opacity="0.08"/>
</g>
<g filter="url(#c4b2_5)">
<rect x="195" y="269.6" width="36" height="10" rx="5" fill="#000" fill-opacity="1"/>
<rect x="249" y="273.6" width="34" height="6" rx="3" fill="#000" fill-opacity="0.8"/>
<rect x="298.6" y="267" width="40" height="14" rx="7" fill="#000" fill-opacity="1"/>
<rect x="351.5" y="267.8" width="40" height="15" rx="7.5" fill="#000" fill-opacity="1"/>
</g>
</g>
<rect x="187.85" y="246.55" width="214.5" height="61.4" fill="none" stroke="#000" stroke-width="2.5"/>
<g clip-path="url(#c5)">
<rect x="411.2" y="245.3" width="217" height="63.9" fill="#ededed"/>
<rect x="411.2" y="245.3" width="217" height="63.9" filter="url(#nz)"/>
<g filter="url(#c5b6)">
<rect x="420" y="249.5" width="200" height="55" rx="27.5" fill="#000" fill-opacity="0.1"/>
</g>
<g filter="url(#c5b5)">
<rect x="423.4" y="235.3" width="44" height="83.9" rx="4" fill="#000" fill-opacity="0.08"/>
<rect x="473.7" y="235.3" width="42" height="83.9" rx="4" fill="#000" fill-opacity="0.08"/>
<rect x="526" y="235.3" width="44" height="83.9" rx="4" fill="#000" fill-opacity="0.08"/>
<rect x="578.5" y="235.3" width="37" height="83.9" rx="4" fill="#000" fill-opacity="0.08"/>
<rect x="582" y="286" width="30" height="20" rx="10" fill="#000" fill-opacity="0.15"/>
</g>
<g filter="url(#c5b2_5)">
<rect x="423.4" y="266.5" width="44" height="23" rx="11.5" fill="#000" fill-opacity="1"/>
<rect x="473.7" y="267.4" width="42" height="18" rx="9" fill="#000" fill-opacity="1"/>
<rect x="526" y="265.4" width="44" height="22" rx="11" fill="#000" fill-opacity="1"/>
<rect x="578.5" y="268.5" width="37" height="19" rx="9.5" fill="#000" fill-opacity="1"/>
</g>
</g>
<rect x="412.45" y="246.55" width="214.5" height="61.4" fill="none" stroke="#000" stroke-width="2.5"/>
<g clip-path="url(#c6)">
<rect x="636" y="245.3" width="217" height="63.9" fill="#ededed"/>
<rect x="636" y="245.3" width="217" height="63.9" filter="url(#nz)"/>
<g filter="url(#c6b6)">
<rect x="640" y="249.5" width="210" height="55" rx="27.5" fill="#000" fill-opacity="0.08"/>
</g>
<g filter="url(#c6b5)">
<rect x="647.6" y="235.3" width="40" height="83.9" rx="4" fill="#000" fill-opacity="0.08"/>
<rect x="698" y="235.3" width="40" height="83.9" rx="4" fill="#000" fill-opacity="0.08"/>
<rect x="749.4" y="235.3" width="42" height="83.9" rx="4" fill="#000" fill-opacity="0.08"/>
<rect x="802.7" y="235.3" width="38" height="83.9" rx="4" fill="#000" fill-opacity="0.08"/>
</g>
<g filter="url(#c6b2_5)">
<rect x="647.6" y="269.75" width="40" height="15.5" rx="7.75" fill="#000" fill-opacity="1"/>
<rect x="698" y="267.25" width="40" height="17.5" rx="8.75" fill="#000" fill-opacity="1"/>
<rect x="749.4" y="267.5" width="42" height="17" rx="8.5" fill="#000" fill-opacity="1"/>
<rect x="802.7" y="271" width="38" height="13" rx="6.5" fill="#000" fill-opacity="1"/>
</g>
</g>
<rect x="637.25" y="246.55" width="214.5" height="61.4" fill="none" stroke="#000" stroke-width="2.5"/>
<g clip-path="url(#c7)">
<rect x="186.6" y="314.9" width="217" height="64.2" fill="#ededed"/>
<rect x="186.6" y="314.9" width="217" height="64.2" filter="url(#nz)"/>
<g filter="url(#c7b5)">
<rect x="246.8" y="304.9" width="31" height="84.2" rx="4" fill="#000" fill-opacity="0.06"/>
<rect x="302.5" y="304.9" width="31" height="84.2" rx="4" fill="#000" fill-opacity="0.03"/>
<rect x="355.5" y="304.9" width="31" height="84.2" rx="4" fill="#000" fill-opacity="0.03"/>
</g>
<g filter="url(#c7b4)">
<rect x="246.3" y="355.7" width="32" height="15" rx="7.5" fill="#000" fill-opacity="0.6"/>
</g>
<g filter="url(#c7b3)">
<rect x="247.3" y="325" width="30" height="33" rx="3" fill="#000" fill-opacity="0.55"/>
<rect x="247.3" y="325" width="30" height="12" rx="3" fill="#000" fill-opacity="0.55"/>
<rect x="303" y="325" width="30" height="33" rx="3" fill="#000" fill-opacity="0.04"/>
<rect x="356" y="325" width="30" height="33" rx="3" fill="#000" fill-opacity="0.04"/>
</g>
<g filter="url(#c7b2_4)">
<rect x="302.5" y="360.2" width="31" height="5" rx="2.5" fill="#000" fill-opacity="0.18"/>
<rect x="355.5" y="360.2" width="31" height="5" rx="2.5" fill="#000" fill-opacity="0.13"/>
</g>
<g filter="url(#c7b1_7)">
<rect x="246.8" y="359.2" width="31" height="7" rx="2.59" fill="#000" fill-opacity="1"/>
</g>
</g>
<rect x="187.85" y="316.15" width="214.5" height="61.7" fill="none" stroke="#000" stroke-width="2.5"/>
<g clip-path="url(#c8)">
<rect x="411.2" y="314.9" width="217" height="64.2" fill="#ededed"/>
<rect x="411.2" y="314.9" width="217" height="64.2" filter="url(#nz)"/>
<g filter="url(#c8b5)">
<rect x="417.5" y="304.9" width="31" height="84.2" rx="4" fill="#000" fill-opacity="0.04"/>
<rect x="475" y="304.9" width="29" height="84.2" rx="4" fill="#000" fill-opacity="0.06"/>
<rect x="530" y="304.9" width="31" height="84.2" rx="4" fill="#000" fill-opacity="0.04"/>
<rect x="588.5" y="304.9" width="31" height="84.2" rx="4" fill="#000" fill-opacity="0.04"/>
</g>
<g filter="url(#c8b4)">
<rect x="474.5" y="355.7" width="30" height="15" rx="7.5" fill="#000" fill-opacity="0.6"/>
</g>
<g filter="url(#c8b3)">
<rect x="418" y="325" width="30" height="33" rx="3" fill="#000" fill-opacity="0.2"/>
<rect x="418" y="325" width="30" height="12" rx="3" fill="#000" fill-opacity="0.08"/>
<rect x="475.5" y="325" width="28" height="33" rx="3" fill="#000" fill-opacity="0.55"/>
<rect x="475.5" y="325" width="28" height="12" rx="3" fill="#000" fill-opacity="0.3"/>
<rect x="530.5" y="325" width="30" height="33" rx="3" fill="#000" fill-opacity="0.3"/>
<rect x="589" y="325" width="30" height="33" rx="3" fill="#000" fill-opacity="0.26"/>
</g>
<g filter="url(#c8b2_4)">
<rect x="417.5" y="360.2" width="31" height="5" rx="2.5" fill="#000" fill-opacity="0.25"/>
<rect x="530" y="360.2" width="31" height="5" rx="2.5" fill="#000" fill-opacity="0.55"/>
<rect x="588.5" y="360.2" width="31" height="5" rx="2.5" fill="#000" fill-opacity="0.45"/>
</g>
<g filter="url(#c8b1_7)">
<rect x="475" y="359.2" width="29" height="7" rx="2.59" fill="#000" fill-opacity="1"/>
</g>
</g>
<rect x="412.45" y="316.15" width="214.5" height="61.7" fill="none" stroke="#000" stroke-width="2.5"/>
<g clip-path="url(#c9)">
<rect x="636" y="314.9" width="217" height="64.2" fill="#ededed"/>
<rect x="636" y="314.9" width="217" height="64.2" filter="url(#nz)"/>
<g filter="url(#c9b5)">
<rect x="647.5" y="304.9" width="31" height="84.2" rx="4" fill="#000" fill-opacity="0.03"/>
<rect x="700" y="304.9" width="31" height="84.2" rx="4" fill="#000" fill-opacity="0.06"/>
<rect x="754.5" y="304.9" width="31" height="84.2" rx="4" fill="#000" fill-opacity="0.04"/>
<rect x="810.5" y="304.9" width="31" height="84.2" rx="4" fill="#000" fill-opacity="0.04"/>
</g>
<g filter="url(#c9b4)">
<rect x="699.5" y="353.6" width="32" height="15" rx="7.5" fill="#000" fill-opacity="0.6"/>
</g>
<g filter="url(#c9b3)">
<rect x="648" y="325" width="30" height="33" rx="3" fill="#000" fill-opacity="0.03"/>
<rect x="700.5" y="325" width="30" height="33" rx="3" fill="#000" fill-opacity="0.45"/>
<rect x="700.5" y="325" width="30" height="12" rx="3" fill="#000" fill-opacity="0.2"/>
<rect x="755" y="325" width="30" height="33" rx="3" fill="#000" fill-opacity="0.18"/>
<rect x="811" y="325" width="30" height="33" rx="3" fill="#000" fill-opacity="0.18"/>
</g>
<g filter="url(#c9b2_4)">
<rect x="647.5" y="358.1" width="31" height="5" rx="2.5" fill="#000" fill-opacity="0.04"/>
<rect x="754.5" y="358.1" width="31" height="5" rx="2.5" fill="#000" fill-opacity="0.45"/>
<rect x="810.5" y="358.1" width="31" height="5" rx="2.5" fill="#000" fill-opacity="0.45"/>
</g>
<g filter="url(#c9b1_7)">
<rect x="700" y="357.1" width="31" height="7" rx="2.59" fill="#000" fill-opacity="1"/>
</g>
</g>
<rect x="637.25" y="316.15" width="214.5" height="61.7" fill="none" stroke="#000" stroke-width="2.5"/>
<g clip-path="url(#c10)">
<rect x="186.6" y="385.8" width="217" height="64.2" fill="#ededed"/>
<rect x="186.6" y="385.8" width="217" height="64.2" filter="url(#nz)"/>
<g filter="url(#c10b5)">
<rect x="192" y="375.8" width="38" height="84.2" rx="4" fill="#000" fill-opacity="0.05"/>
<rect x="248" y="375.8" width="36" height="84.2" rx="4" fill="#000" fill-opacity="0.05"/>
<rect x="300.2" y="375.8" width="37" height="84.2" rx="4" fill="#000" fill-opacity="0.04"/>
<rect x="353" y="375.8" width="40" height="84.2" rx="4" fill="#000" fill-opacity="0.04"/>
</g>
<g filter="url(#c10b4)">
<rect x="193" y="399.6" width="36" height="42.2" rx="3" fill="#000" fill-opacity="0.2"/>
<rect x="249" y="399.6" width="34" height="42.2" rx="3" fill="#000" fill-opacity="0.2"/>
<rect x="301.2" y="399.6" width="35" height="42.2" rx="3" fill="#000" fill-opacity="0.2"/>
<rect x="354" y="399.6" width="38" height="42.2" rx="3" fill="#000" fill-opacity="0.2"/>
</g>
<g filter="url(#c10b3_2)">
<rect x="192" y="400.1" width="38" height="11" rx="5.5" fill="#000" fill-opacity="0.35"/>
<rect x="248" y="400.1" width="36" height="11" rx="5.5" fill="#000" fill-opacity="0.35"/>
<rect x="300.2" y="400.1" width="37" height="11" rx="5.5" fill="#000" fill-opacity="0.3"/>
<rect x="353" y="400.1" width="40" height="11" rx="5.5" fill="#000" fill-opacity="0.2"/>
</g>
<g filter="url(#c10b2_6)">
<rect x="192" y="431.05" width="38" height="5.5" rx="2.75" fill="#000" fill-opacity="0.5"/>
<rect x="248" y="431.05" width="36" height="5.5" rx="2.75" fill="#000" fill-opacity="0.45"/>
<rect x="300.2" y="431.05" width="37" height="5.5" rx="2.75" fill="#000" fill-opacity="0.4"/>
<rect x="353" y="431.05" width="40" height="5.5" rx="2.75" fill="#000" fill-opacity="0.5"/>
</g>
</g>
<rect x="187.85" y="387.05" width="214.5" height="61.7" fill="none" stroke="#000" stroke-width="2.5"/>
<g clip-path="url(#c11)">
<rect x="411.2" y="385.8" width="217" height="64.2" fill="#ededed"/>
<rect x="411.2" y="385.8" width="217" height="64.2" filter="url(#nz)"/>
<g filter="url(#c11b5)">
<rect x="416" y="375.8" width="38" height="84.2" rx="4" fill="#000" fill-opacity="0.05"/>
<rect x="472" y="375.8" width="38" height="84.2" rx="4" fill="#000" fill-opacity="0.05"/>
<rect x="527.5" y="375.8" width="40" height="84.2" rx="4" fill="#000" fill-opacity="0.06"/>
<rect x="582" y="375.8" width="40" height="84.2" rx="4" fill="#000" fill-opacity="0.06"/>
</g>
<g filter="url(#c11b4)">
<rect x="417" y="398.5" width="36" height="42" rx="3" fill="#000" fill-opacity="0.2"/>
<rect x="473" y="398.5" width="36" height="42" rx="3" fill="#000" fill-opacity="0.2"/>
<rect x="528.5" y="398.5" width="38" height="42" rx="3" fill="#000" fill-opacity="0.2"/>
<rect x="583" y="398.5" width="38" height="42" rx="3" fill="#000" fill-opacity="0.2"/>
</g>
<g filter="url(#c11b3_2)">
<rect x="416" y="399" width="38" height="11" rx="5.5" fill="#000" fill-opacity="0.45"/>
<rect x="472" y="399" width="38" height="11" rx="5.5" fill="#000" fill-opacity="0.4"/>
<rect x="527.5" y="399" width="40" height="11" rx="5.5" fill="#000" fill-opacity="0.65"/>
<rect x="582" y="399" width="40" height="11" rx="5.5" fill="#000" fill-opacity="0.5"/>
</g>
<g filter="url(#c11b2_6)">
<rect x="416" y="429.75" width="38" height="5.5" rx="2.75" fill="#000" fill-opacity="0.35"/>
<rect x="472" y="429.75" width="38" height="5.5" rx="2.75" fill="#000" fill-opacity="0.35"/>
<rect x="527.5" y="429.75" width="40" height="5.5" rx="2.75" fill="#000" fill-opacity="0.3"/>
<rect x="582" y="429.75" width="40" height="5.5" rx="2.75" fill="#000" fill-opacity="0.35"/>
</g>
</g>
<rect x="412.45" y="387.05" width="214.5" height="61.7" fill="none" stroke="#000" stroke-width="2.5"/>
<g clip-path="url(#c12)">
<rect x="636" y="385.8" width="217" height="64.2" fill="#ededed"/>
<rect x="636" y="385.8" width="217" height="64.2" filter="url(#nz)"/>
<g filter="url(#c12b5)">
<rect x="642" y="375.8" width="34" height="84.2" rx="4" fill="#000" fill-opacity="0.06"/>
<rect x="696" y="375.8" width="36" height="84.2" rx="4" fill="#000" fill-opacity="0.06"/>
<rect x="752.4" y="375.8" width="36" height="84.2" rx="4" fill="#000" fill-opacity="0.04"/>
<rect x="810" y="375.8" width="36" height="84.2" rx="4" fill="#000" fill-opacity="0.04"/>
</g>
<g filter="url(#c12b4)">
<rect x="643" y="403.5" width="32" height="35.5" rx="3" fill="#000" fill-opacity="0.2"/>
<rect x="697" y="403" width="34" height="35.6" rx="3" fill="#000" fill-opacity="0.2"/>
<rect x="753.4" y="403.5" width="34" height="35.1" rx="3" fill="#000" fill-opacity="0.15"/>
<rect x="811" y="403.5" width="34" height="35.1" rx="3" fill="#000" fill-opacity="0.15"/>
</g>
<g filter="url(#c12b3_2)">
<rect x="642" y="404" width="34" height="11" rx="5.5" fill="#000" fill-opacity="0.5"/>
<rect x="696" y="403.5" width="36" height="11" rx="5.5" fill="#000" fill-opacity="0.55"/>
<rect x="752.4" y="404" width="36" height="11" rx="5.5" fill="#000" fill-opacity="0.3"/>
<rect x="810" y="404" width="36" height="11" rx="5.5" fill="#000" fill-opacity="0.3"/>
</g>
<g filter="url(#c12b2_6)">
<rect x="642" y="428.25" width="34" height="5.5" rx="2.75" fill="#000" fill-opacity="0.3"/>
<rect x="696" y="427.85" width="36" height="5.5" rx="2.75" fill="#000" fill-opacity="0.4"/>
<rect x="752.4" y="427.85" width="36" height="5.5" rx="2.75" fill="#000" fill-opacity="0.45"/>
<rect x="810" y="427.85" width="36" height="5.5" rx="2.75" fill="#000" fill-opacity="0.4"/>
</g>
</g>
<rect x="637.25" y="387.05" width="214.5" height="61.7" fill="none" stroke="#000" stroke-width="2.5"/>
<g clip-path="url(#c13)">
<rect x="186.6" y="458.3" width="217" height="63.3" fill="#ededed"/>
<rect x="186.6" y="458.3" width="217" height="63.3" filter="url(#nz)"/>
<g filter="url(#c13b5)">
<rect x="353.7" y="448.3" width="39" height="83.3" rx="4" fill="#000" fill-opacity="0.08"/>
</g>
<g filter="url(#c13b2_2)">
<rect x="353.7" y="478.6" width="39" height="16" rx="8" fill="#000" fill-opacity="1"/>
</g>
</g>
<rect x="187.85" y="459.55" width="214.5" height="60.8" fill="none" stroke="#000" stroke-width="2.5"/>
<g clip-path="url(#c14)">
<rect x="411.2" y="458.3" width="217" height="63.3" fill="#ededed"/>
<rect x="411.2" y="458.3" width="217" height="63.3" filter="url(#nz)"/>
<g filter="url(#c14b5)">
<rect x="574.8" y="448.3" width="42" height="83.3" rx="4" fill="#000" fill-opacity="0.08"/>
<rect x="581" y="494" width="28" height="22" rx="11" fill="#000" fill-opacity="0.1"/>
</g>
<g filter="url(#c14b2_2)">
<rect x="574.8" y="478.95" width="42" height="17.5" rx="8.75" fill="#000" fill-opacity="1"/>
</g>
</g>
<rect x="412.45" y="459.55" width="214.5" height="60.8" fill="none" stroke="#000" stroke-width="2.5"/>
<g clip-path="url(#c15)">
<rect x="636" y="458.3" width="217" height="63.3" fill="#ededed"/>
<rect x="636" y="458.3" width="217" height="63.3" filter="url(#nz)"/>
<g filter="url(#c15b5)">
<rect x="802.5" y="448.3" width="40" height="83.3" rx="4" fill="#000" fill-opacity="0.08"/>
</g>
<g filter="url(#c15b2_2)">
<rect x="802.5" y="480.9" width="40" height="14" rx="7" fill="#000" fill-opacity="1"/>
</g>
</g>
<rect x="637.25" y="459.55" width="214.5" height="60.8" fill="none" stroke="#000" stroke-width="2.5"/>
<g clip-path="url(#c16)">
<rect x="186.6" y="529" width="217" height="63.6" fill="#ededed"/>
<rect x="186.6" y="529" width="217" height="63.6" filter="url(#nz)"/>
<g filter="url(#c16b6)">
<rect x="192.6" y="540" width="205" height="40" rx="20" fill="#000" fill-opacity="0.07"/>
</g>
<g filter="url(#c16b5)">
<rect x="197.5" y="519" width="47" height="83.6" rx="4" fill="#000" fill-opacity="0.08"/>
<rect x="247.5" y="519" width="47" height="83.6" rx="4" fill="#000" fill-opacity="0.08"/>
<rect x="295.2" y="519" width="47" height="83.6" rx="4" fill="#000" fill-opacity="0.08"/>
<rect x="345.5" y="519" width="47" height="83.6" rx="4" fill="#000" fill-opacity="0.08"/>
</g>
<g filter="url(#c16b2_3)">
<rect x="197.5" y="552.55" width="47" height="11.5" rx="5.75" fill="#000" fill-opacity="1"/>
<rect x="247.5" y="553.05" width="47" height="11.5" rx="5.75" fill="#000" fill-opacity="1"/>
<rect x="295.2" y="553.85" width="47" height="11.5" rx="5.75" fill="#000" fill-opacity="1"/>
<rect x="345.5" y="554.35" width="47" height="11.5" rx="5.75" fill="#000" fill-opacity="1"/>
</g>
</g>
<rect x="187.85" y="530.25" width="214.5" height="61.1" fill="none" stroke="#000" stroke-width="2.5"/>
<g clip-path="url(#c17)">
<rect x="411.2" y="529" width="217" height="63.6" fill="#ededed"/>
<rect x="411.2" y="529" width="217" height="63.6" filter="url(#nz)"/>
<g filter="url(#c17b6)">
<rect x="417.2" y="540" width="205" height="40" rx="20" fill="#000" fill-opacity="0.07"/>
</g>
<g filter="url(#c17b5)">
<rect x="423.9" y="519" width="41" height="83.6" rx="4" fill="#000" fill-opacity="0.08"/>
<rect x="472.5" y="519" width="41" height="83.6" rx="4" fill="#000" fill-opacity="0.08"/>
<rect x="523.5" y="519" width="41" height="83.6" rx="4" fill="#000" fill-opacity="0.08"/>
<rect x="574.5" y="519" width="41" height="83.6" rx="4" fill="#000" fill-opacity="0.08"/>
</g>
<g filter="url(#c17b2_3)">
<rect x="423.9" y="553.1" width="41" height="13" rx="6.5" fill="#000" fill-opacity="1"/>
<rect x="472.5" y="551.5" width="41" height="13" rx="6.5" fill="#000" fill-opacity="1"/>
<rect x="523.5" y="552" width="41" height="13" rx="6.5" fill="#000" fill-opacity="1"/>
<rect x="574.5" y="552.6" width="41" height="13" rx="6.5" fill="#000" fill-opacity="1"/>
</g>
</g>
<rect x="412.45" y="530.25" width="214.5" height="61.1" fill="none" stroke="#000" stroke-width="2.5"/>
<g clip-path="url(#c18)">
<rect x="636" y="529" width="217" height="63.6" fill="#ededed"/>
<rect x="636" y="529" width="217" height="63.6" filter="url(#nz)"/>
<g filter="url(#c18b6)">
<rect x="642" y="540" width="205" height="40" rx="20" fill="#000" fill-opacity="0.07"/>
</g>
<g filter="url(#c18b5)">
<rect x="648" y="519" width="46" height="83.6" rx="4" fill="#000" fill-opacity="0.08"/>
<rect x="698" y="519" width="46" height="83.6" rx="4" fill="#000" fill-opacity="0.08"/>
<rect x="744.6" y="519" width="46" height="83.6" rx="4" fill="#000" fill-opacity="0.08"/>
<rect x="795.3" y="519" width="46" height="83.6" rx="4" fill="#000" fill-opacity="0.08"/>
</g>
<g filter="url(#c18b2_3)">
<rect x="648" y="552.4" width="46" height="13" rx="6.5" fill="#000" fill-opacity="1"/>
<rect x="698" y="552.1" width="46" height="13" rx="6.5" fill="#000" fill-opacity="1"/>
<rect x="744.6" y="552.4" width="46" height="13" rx="6.5" fill="#000" fill-opacity="1"/>
<rect x="795.3" y="552.1" width="46" height="13" rx="6.5" fill="#000" fill-opacity="1"/>
</g>
</g>
<rect x="637.25" y="530.25" width="214.5" height="61.1" fill="none" stroke="#000" stroke-width="2.5"/>
<g clip-path="url(#c19)">
<rect x="636" y="599.8" width="217" height="63.5" fill="#ededed"/>
<rect x="636" y="599.8" width="217" height="63.5" filter="url(#nz)"/>
<g filter="url(#c19b5)">
<rect x="650.5" y="589.8" width="31" height="83.5" rx="4" fill="#000" fill-opacity="0.04"/>
<rect x="700.8" y="589.8" width="35" height="83.5" rx="4" fill="#000" fill-opacity="0.08"/>
<rect x="748.6" y="589.8" width="38" height="83.5" rx="4" fill="#000" fill-opacity="0.08"/>
<rect x="800.7" y="589.8" width="38" height="83.5" rx="4" fill="#000" fill-opacity="0.04"/>
<rect x="802" y="589.8" width="6" height="83.5" rx="4" fill="#000" fill-opacity="0.04"/>
</g>
<g filter="url(#c19b4)">
<rect x="700.3" y="627.4" width="36" height="17" rx="8.5" fill="#000" fill-opacity="0.6"/>
<rect x="748.1" y="626.6" width="39" height="19" rx="9.5" fill="#000" fill-opacity="0.6"/>
</g>
<g filter="url(#c19b3)">
<rect x="700.8" y="609" width="35" height="50" rx="3" fill="#000" fill-opacity="0.4"/>
<rect x="748.6" y="606" width="38" height="52" rx="3" fill="#000" fill-opacity="0.5"/>
<rect x="800.7" y="610" width="38" height="48" rx="3" fill="#000" fill-opacity="0.28"/>
</g>
<g filter="url(#c19b2_8)">
<rect x="701.3" y="648.5" width="34" height="7" rx="3.5" fill="#000" fill-opacity="0.4"/>
<rect x="749.6" y="648.5" width="36" height="7" rx="3.5" fill="#000" fill-opacity="0.45"/>
<rect x="801.7" y="649" width="36" height="6" rx="3" fill="#000" fill-opacity="0.2"/>
</g>
<g filter="url(#c19b2_5)">
<rect x="650.5" y="647.5" width="31" height="5" rx="2.5" fill="#000" fill-opacity="0.16"/>
<rect x="701.3" y="613.5" width="34" height="8" rx="4" fill="#000" fill-opacity="0.6"/>
<rect x="749.6" y="622" width="36" height="10" rx="5" fill="#000" fill-opacity="0.8"/>
<rect x="801.2" y="614.5" width="37" height="6" rx="3" fill="#000" fill-opacity="0.4"/>
<rect x="801.2" y="632.7" width="37" height="5" rx="2.5" fill="#000" fill-opacity="0.45"/>
</g>
<g filter="url(#c19b2_2)">
<rect x="650.5" y="632.4" width="31" height="4" rx="2" fill="#000" fill-opacity="0.28"/>
<rect x="749.1" y="612.5" width="37" height="11" rx="5.5" fill="#000" fill-opacity="1"/>
</g>
<g filter="url(#c19b1_8)">
<rect x="802" y="632.7" width="6" height="5" rx="2.5" fill="#000" fill-opacity="0.6"/>
</g>
<g filter="url(#c19b1_7)">
<rect x="700.8" y="630.9" width="35" height="9" rx="3.33" fill="#000" fill-opacity="1"/>
<rect x="748.6" y="630.1" width="38" height="11" rx="4.07" fill="#000" fill-opacity="1"/>
</g>
</g>
<rect x="637.25" y="601.05" width="214.5" height="61" fill="none" stroke="#000" stroke-width="2.5"/>
<text x="173.6" y="205" font-size="33" stroke="#000" stroke-width="0.35" text-anchor="end" textLength="132" lengthAdjust="spacingAndGlyphs">pAMPKα</text>
<text x="172.3" y="244" font-size="33" stroke="#000" stroke-width="0.35" text-anchor="end" textLength="80.5" lengthAdjust="spacingAndGlyphs">-T172</text>
<text x="179" y="292.8" font-size="33" stroke="#000" stroke-width="0.35" text-anchor="end" textLength="95.6" lengthAdjust="spacingAndGlyphs">AMPK</text>
<text x="175.8" y="341" font-size="33" stroke="#000" stroke-width="0.35" text-anchor="end" textLength="98.6" lengthAdjust="spacingAndGlyphs">pACC1</text>
<text x="178.6" y="380.4" font-size="33" stroke="#000" stroke-width="0.35" text-anchor="end" textLength="61" lengthAdjust="spacingAndGlyphs">-S79</text>
<text x="173.3" y="435" font-size="33" stroke="#000" stroke-width="0.35" text-anchor="end" textLength="81.5" lengthAdjust="spacingAndGlyphs">ACC1</text>
<text x="181" y="565.3" font-size="33" stroke="#000" stroke-width="0.35" text-anchor="end" textLength="114.5" lengthAdjust="spacingAndGlyphs">GAPDH</text>
<text x="178.4" y="497.3" font-size="33" stroke="#000" stroke-width="0.35" text-anchor="end" textLength="178" lengthAdjust="spacingAndGlyphs">Flag-<tspan font-style="italic">Lb</tspan>NOX</text>
<text x="626" y="643" font-size="33" stroke="#000" stroke-width="0.35" text-anchor="end" textLength="87.3" lengthAdjust="spacingAndGlyphs">HIF1α</text>
<line x1="852.5" y1="217.5" x2="862.5" y2="217.5" stroke="#000" stroke-width="2.6"/>
<text x="867.5" y="227.2" font-size="32" stroke="#000" stroke-width="0.35">55</text>
<line x1="852.5" y1="289.3" x2="862.5" y2="289.3" stroke="#000" stroke-width="2.6"/>
<text x="867.5" y="299" font-size="32" stroke="#000" stroke-width="0.35">55</text>
<line x1="852.5" y1="366.2" x2="862.5" y2="366.2" stroke="#000" stroke-width="2.6"/>
<text x="868.5" y="375.9" font-size="32" stroke="#000" stroke-width="0.35">170</text>
<line x1="852.5" y1="438.9" x2="862.5" y2="438.9" stroke="#000" stroke-width="2.6"/>
<text x="868.5" y="448.6" font-size="32" stroke="#000" stroke-width="0.35">170</text>
<line x1="852.5" y1="506.5" x2="862.5" y2="506.5" stroke="#000" stroke-width="2.6"/>
<text x="867.5" y="516.2" font-size="32" stroke="#000" stroke-width="0.35">55</text>
<line x1="852.5" y1="573.8" x2="862.5" y2="573.8" stroke="#000" stroke-width="2.6"/>
<text x="868.5" y="583.5" font-size="32" stroke="#000" stroke-width="0.35">35</text>
<line x1="852.5" y1="633.2" x2="862.5" y2="633.2" stroke="#000" stroke-width="2.6"/>
<text x="869.5" y="642.9" font-size="32" stroke="#000" stroke-width="0.35">100</text>
<text x="13" y="745.5" font-size="57" font-weight="bold" textLength="30" lengthAdjust="spacingAndGlyphs">d</text>
<text x="208.5" y="767.8" font-size="37" text-anchor="middle" stroke="#000" stroke-width="0.9">−</text>
<text x="263.4" y="767.8" font-size="37" text-anchor="middle" stroke="#fff" stroke-width="0.15">+</text>
<text x="318" y="767.8" font-size="37" text-anchor="middle" stroke="#fff" stroke-width="0.15">+</text>
<text x="368.7" y="767.8" font-size="37" text-anchor="middle" stroke="#fff" stroke-width="0.15">+</text>
<text x="208.5" y="808.9" font-size="37" text-anchor="middle" stroke="#000" stroke-width="0.5">−</text>
<text x="263.4" y="808.9" font-size="37" text-anchor="middle" stroke="#000" stroke-width="0.5">−</text>
<text x="318" y="808.9" font-size="37" text-anchor="middle" stroke="#fff" stroke-width="0.15">+</text>
<text x="368.7" y="808.9" font-size="37" text-anchor="middle" stroke="#000" stroke-width="0.5">−</text>
<text x="208.5" y="850.9" font-size="37" text-anchor="middle" stroke="#000" stroke-width="0.5">−</text>
<text x="263.4" y="850.9" font-size="37" text-anchor="middle" stroke="#000" stroke-width="0.5">−</text>
<text x="318" y="850.9" font-size="37" text-anchor="middle" stroke="#000" stroke-width="0.5">−</text>
<text x="368.7" y="850.9" font-size="37" text-anchor="middle" stroke="#fff" stroke-width="0.15">+</text>
<text x="438.4" y="767.8" font-size="37" text-anchor="middle" stroke="#000" stroke-width="0.9">−</text>
<text x="493" y="767.8" font-size="37" text-anchor="middle" stroke="#fff" stroke-width="0.15">+</text>
<text x="547.5" y="767.8" font-size="37" text-anchor="middle" stroke="#fff" stroke-width="0.15">+</text>
<text x="598.6" y="767.8" font-size="37" text-anchor="middle" stroke="#fff" stroke-width="0.15">+</text>
<text x="438.4" y="808.9" font-size="37" text-anchor="middle" stroke="#000" stroke-width="0.5">−</text>
<text x="493" y="808.9" font-size="37" text-anchor="middle" stroke="#000" stroke-width="0.5">−</text>
<text x="547.5" y="808.9" font-size="37" text-anchor="middle" stroke="#fff" stroke-width="0.15">+</text>
<text x="598.6" y="808.9" font-size="37" text-anchor="middle" stroke="#000" stroke-width="0.5">−</text>
<text x="438.4" y="850.9" font-size="37" text-anchor="middle" stroke="#000" stroke-width="0.5">−</text>
<text x="493" y="850.9" font-size="37" text-anchor="middle" stroke="#000" stroke-width="0.5">−</text>
<text x="547.5" y="850.9" font-size="37" text-anchor="middle" stroke="#000" stroke-width="0.5">−</text>
<text x="598.6" y="850.9" font-size="37" text-anchor="middle" stroke="#fff" stroke-width="0.15">+</text>
<text x="663.4" y="767.8" font-size="37" text-anchor="middle" stroke="#000" stroke-width="0.9">−</text>
<text x="717.5" y="767.8" font-size="37" text-anchor="middle" stroke="#fff" stroke-width="0.15">+</text>
<text x="773.2" y="767.8" font-size="37" text-anchor="middle" stroke="#fff" stroke-width="0.15">+</text>
<text x="824" y="767.8" font-size="37" text-anchor="middle" stroke="#fff" stroke-width="0.15">+</text>
<text x="663.4" y="808.9" font-size="37" text-anchor="middle" stroke="#000" stroke-width="0.5">−</text>
<text x="717.5" y="808.9" font-size="37" text-anchor="middle" stroke="#000" stroke-width="0.5">−</text>
<text x="773.2" y="808.9" font-size="37" text-anchor="middle" stroke="#fff" stroke-width="0.15">+</text>
<text x="824" y="808.9" font-size="37" text-anchor="middle" stroke="#000" stroke-width="0.5">−</text>
<text x="663.4" y="850.9" font-size="37" text-anchor="middle" stroke="#000" stroke-width="0.5">−</text>
<text x="717.5" y="850.9" font-size="37" text-anchor="middle" stroke="#000" stroke-width="0.5">−</text>
<text x="773.2" y="850.9" font-size="37" text-anchor="middle" stroke="#000" stroke-width="0.5">−</text>
<text x="824" y="850.9" font-size="37" text-anchor="middle" stroke="#fff" stroke-width="0.15">+</text>
<line x1="188.5" y1="774.4" x2="389.5" y2="774.4" stroke="#000" stroke-width="2.4" stroke-dasharray="2.3 2.5"/>
<line x1="142.5" y1="729.9" x2="185" y2="770.4" stroke="#000" stroke-width="2.4" stroke-dasharray="2.3 2.5"/>
<line x1="418.5" y1="774.4" x2="619.5" y2="774.4" stroke="#000" stroke-width="2.4" stroke-dasharray="2.3 2.5"/>
<line x1="372.5" y1="729.9" x2="415" y2="770.4" stroke="#000" stroke-width="2.4" stroke-dasharray="2.3 2.5"/>
<line x1="643" y1="774.4" x2="844" y2="774.4" stroke="#000" stroke-width="2.4" stroke-dasharray="2.3 2.5"/>
<line x1="597" y1="729.9" x2="639.5" y2="770.4" stroke="#000" stroke-width="2.4" stroke-dasharray="2.3 2.5"/>
<text x="129.5" y="701.7" font-size="32" stroke="#000" stroke-width="0.35" transform="rotate(45 129.5 701.7)">Ant A</text>
<text x="372" y="708.7" font-size="32" stroke="#000" stroke-width="0.35" transform="rotate(45 372 708.7)">Met</text>
<text x="595.5" y="704.7" font-size="32" stroke="#000" stroke-width="0.35" transform="rotate(45 595.5 704.7)">Hypo</text>
<text x="188.6" y="805.7" font-size="33" stroke="#000" stroke-width="0.35" text-anchor="end" textLength="97" lengthAdjust="spacingAndGlyphs">Torin-1</text>
<text x="188.6" y="848" font-size="33" stroke="#000" stroke-width="0.35" text-anchor="end" textLength="151.4" lengthAdjust="spacingAndGlyphs">Rapamycin</text>
<text x="855" y="838.2" font-size="33" stroke="#000" stroke-width="0.35">kDa</text>
<g clip-path="url(#c20)">
<rect x="186.6" y="859.5" width="217" height="64" fill="#ededed"/>
<rect x="186.6" y="859.5" width="217" height="64" filter="url(#nz)"/>
<g filter="url(#c20b5)">
<rect x="202.5" y="849.5" width="35" height="84" rx="4" fill="#000" fill-opacity="0.05"/>
<rect x="252.9" y="849.5" width="35" height="84" rx="4" fill="#000" fill-opacity="0.08"/>
<rect x="301.7" y="849.5" width="34" height="84" rx="4" fill="#000" fill-opacity="0.04"/>
<rect x="356" y="849.5" width="34" height="84" rx="4" fill="#000" fill-opacity="0.04"/>
</g>
<g filter="url(#c20b4)">
<rect x="252.4" y="881.1" width="36" height="20" rx="10" fill="#000" fill-opacity="0.6"/>
</g>
<g filter="url(#c20b3_5)">
<rect x="301.7" y="884.5" width="34" height="11" rx="5.5" fill="#000" fill-opacity="0.17"/>
<rect x="356" y="884.5" width="34" height="11" rx="5.5" fill="#000" fill-opacity="0.13"/>
</g>
<g filter="url(#c20b3_3)">
<rect x="202.5" y="885.1" width="35" height="11" rx="5.5" fill="#000" fill-opacity="0.45"/>
</g>
<g filter="url(#c20b1_7)">
<rect x="252.9" y="884.6" width="35" height="12" rx="4.44" fill="#000" fill-opacity="1"/>
</g>
</g>
<rect x="187.85" y="860.75" width="214.5" height="61.5" fill="none" stroke="#000" stroke-width="2.5"/>
<g clip-path="url(#c21)">
<rect x="411.2" y="859.5" width="217" height="64" fill="#ededed"/>
<rect x="411.2" y="859.5" width="217" height="64" filter="url(#nz)"/>
<g filter="url(#c21b5)">
<rect x="423.7" y="849.5" width="36" height="84" rx="4" fill="#000" fill-opacity="0.06"/>
<rect x="473.5" y="849.5" width="36" height="84" rx="4" fill="#000" fill-opacity="0.08"/>
<rect x="527.5" y="849.5" width="33" height="84" rx="4" fill="#000" fill-opacity="0.04"/>
<rect x="582" y="849.5" width="30" height="84" rx="4" fill="#000" fill-opacity="0.03"/>
</g>
<g filter="url(#c21b4)">
<rect x="473" y="882" width="37" height="23" rx="11.5" fill="#000" fill-opacity="0.6"/>
<rect x="582" y="880" width="30" height="40" rx="15" fill="#000" fill-opacity="0.07"/>
<rect x="424.7" y="895" width="34" height="30" rx="15" fill="#000" fill-opacity="0.1"/>
<rect x="474.5" y="899" width="34" height="26" rx="13" fill="#000" fill-opacity="0.22"/>
</g>
<g filter="url(#c21b3_5)">
<rect x="423.7" y="886" width="36" height="12" rx="6" fill="#000" fill-opacity="0.55"/>
<rect x="527.5" y="886.5" width="33" height="11" rx="5.5" fill="#000" fill-opacity="0.15"/>
</g>
<g filter="url(#c21b1_7)">
<rect x="473.5" y="885.5" width="36" height="15" rx="5.56" fill="#000" fill-opacity="1"/>
</g>
</g>
<rect x="412.45" y="860.75" width="214.5" height="61.5" fill="none" stroke="#000" stroke-width="2.5"/>
<g clip-path="url(#c22)">
<rect x="636" y="859.5" width="217" height="64" fill="#ededed"/>
<rect x="636" y="859.5" width="217" height="64" filter="url(#nz)"/>
<g filter="url(#c22b5)">
<rect x="645.1" y="849.5" width="31" height="84" rx="4" fill="#000" fill-opacity="0.05"/>
<rect x="693.2" y="849.5" width="39" height="84" rx="4" fill="#000" fill-opacity="0.08"/>
<rect x="751.1" y="849.5" width="33" height="84" rx="4" fill="#000" fill-opacity="0.04"/>
<rect x="805" y="849.5" width="35" height="84" rx="4" fill="#000" fill-opacity="0.04"/>
</g>
<g filter="url(#c22b4)">
<rect x="692.7" y="879.4" width="40" height="22" rx="11" fill="#000" fill-opacity="0.6"/>
</g>
<g filter="url(#c22b3)">
<rect x="645.1" y="879.9" width="31" height="7" rx="3.5" fill="#000" fill-opacity="0.45"/>
<rect x="751.1" y="886.5" width="33" height="7" rx="3.5" fill="#000" fill-opacity="0.3"/>
<rect x="805" y="886.5" width="35" height="7" rx="3.5" fill="#000" fill-opacity="0.3"/>
</g>
<g filter="url(#c22b1_7)">
<rect x="693.2" y="882.9" width="39" height="14" rx="5.19" fill="#000" fill-opacity="1"/>
</g>
</g>
<rect x="637.25" y="860.75" width="214.5" height="61.5" fill="none" stroke="#000" stroke-width="2.5"/>
<g clip-path="url(#c23)">
<rect x="186.6" y="930.4" width="217" height="63.6" fill="#ededed"/>
<rect x="186.6" y="930.4" width="217" height="63.6" filter="url(#nz)"/>
<g filter="url(#c23b5)">
<rect x="197" y="920.4" width="37" height="83.6" rx="4" fill="#000" fill-opacity="0.08"/>
<rect x="249.5" y="920.4" width="35" height="83.6" rx="4" fill="#000" fill-opacity="0.08"/>
<rect x="303.7" y="920.4" width="32" height="83.6" rx="4" fill="#000" fill-opacity="0.07"/>
<rect x="355.5" y="920.4" width="37" height="83.6" rx="4" fill="#000" fill-opacity="0.08"/>
</g>
<g filter="url(#c23b4)">
<rect x="196.5" y="950.2" width="38" height="24" rx="12" fill="#000" fill-opacity="0.6"/>
<rect x="249" y="952.2" width="36" height="20" rx="10" fill="#000" fill-opacity="0.6"/>
<rect x="303.2" y="955" width="33" height="16" rx="8" fill="#000" fill-opacity="0.57"/>
<rect x="355" y="952.2" width="38" height="20" rx="10" fill="#000" fill-opacity="0.6"/>
</g>
<g filter="url(#c23b1_7)">
<rect x="197" y="953.7" width="37" height="16" rx="5.93" fill="#000" fill-opacity="1"/>
<rect x="249.5" y="955.7" width="35" height="12" rx="4.44" fill="#000" fill-opacity="1"/>
<rect x="303.7" y="958.5" width="32" height="8" rx="2.96" fill="#000" fill-opacity="0.95"/>
<rect x="355.5" y="955.7" width="37" height="12" rx="4.44" fill="#000" fill-opacity="1"/>
</g>
</g>
<rect x="187.85" y="931.65" width="214.5" height="61.1" fill="none" stroke="#000" stroke-width="2.5"/>
<g clip-path="url(#c24)">
<rect x="411.2" y="930.4" width="217" height="63.6" fill="#ededed"/>
<rect x="411.2" y="930.4" width="217" height="63.6" filter="url(#nz)"/>
<g filter="url(#c24b5)">
<rect x="422" y="920.4" width="42" height="83.6" rx="4" fill="#000" fill-opacity="0.08"/>
<rect x="473" y="920.4" width="42" height="83.6" rx="4" fill="#000" fill-opacity="0.08"/>
<rect x="525.5" y="920.4" width="37" height="83.6" rx="4" fill="#000" fill-opacity="0.08"/>
<rect x="576.5" y="920.4" width="37" height="83.6" rx="4" fill="#000" fill-opacity="0.08"/>
</g>
<g filter="url(#c24b4)">
<rect x="421.5" y="951.9" width="43" height="22" rx="11" fill="#000" fill-opacity="0.6"/>
<rect x="472.5" y="951.9" width="43" height="22" rx="11" fill="#000" fill-opacity="0.6"/>
<rect x="525" y="952.9" width="38" height="20" rx="10" fill="#000" fill-opacity="0.6"/>
<rect x="576" y="953.9" width="38" height="18" rx="9" fill="#000" fill-opacity="0.6"/>
</g>
<g filter="url(#c24b1_7)">
<rect x="422" y="955.4" width="42" height="14" rx="5.19" fill="#000" fill-opacity="1"/>
<rect x="473" y="955.4" width="42" height="14" rx="5.19" fill="#000" fill-opacity="1"/>
<rect x="525.5" y="956.4" width="37" height="12" rx="4.44" fill="#000" fill-opacity="1"/>
<rect x="576.5" y="957.4" width="37" height="10" rx="3.7" fill="#000" fill-opacity="1"/>
</g>
</g>
<rect x="412.45" y="931.65" width="214.5" height="61.1" fill="none" stroke="#000" stroke-width="2.5"/>
<g clip-path="url(#c25)">
<rect x="636" y="930.4" width="217" height="63.6" fill="#ededed"/>
<rect x="636" y="930.4" width="217" height="63.6" filter="url(#nz)"/>
<g filter="url(#c25b5)">
<rect x="651.3" y="920.4" width="41" height="83.6" rx="4" fill="#000" fill-opacity="0.08"/>
<rect x="705" y="920.4" width="35" height="83.6" rx="4" fill="#000" fill-opacity="0.08"/>
<rect x="754.9" y="920.4" width="36.6" height="83.6" rx="4" fill="#000" fill-opacity="0.08"/>
<rect x="804.4" y="920.4" width="38" height="83.6" rx="4" fill="#000" fill-opacity="0.08"/>
</g>
<g filter="url(#c25b4)">
<rect x="650.8" y="950.5" width="42" height="25" rx="12.5" fill="#000" fill-opacity="0.6"/>
<rect x="704.5" y="954" width="36" height="18" rx="9" fill="#000" fill-opacity="0.6"/>
<rect x="754.4" y="951.15" width="37.6" height="19.3" rx="9.65" fill="#000" fill-opacity="0.6"/>
<rect x="803.9" y="949.45" width="39" height="21.5" rx="10.75" fill="#000" fill-opacity="0.6"/>
</g>
<g filter="url(#c25b1_7)">
<rect x="651.3" y="954" width="41" height="17" rx="6.3" fill="#000" fill-opacity="1"/>
<rect x="705" y="957.5" width="35" height="10" rx="3.7" fill="#000" fill-opacity="1"/>
<rect x="754.9" y="954.65" width="36.6" height="11.3" rx="4.19" fill="#000" fill-opacity="1"/>
<rect x="804.4" y="952.95" width="38" height="13.5" rx="5" fill="#000" fill-opacity="1"/>
</g>
</g>
<rect x="637.25" y="931.65" width="214.5" height="61.1" fill="none" stroke="#000" stroke-width="2.5"/>
<g clip-path="url(#c26)">
<rect x="186.6" y="1000.2" width="217" height="64.2" fill="#ededed"/>
<rect x="186.6" y="1000.2" width="217" height="64.2" filter="url(#nz)"/>
<g filter="url(#c26b5)">
<rect x="197.3" y="990.2" width="35" height="84.2" rx="4" fill="#000" fill-opacity="0.04"/>
<rect x="250.3" y="990.2" width="36" height="84.2" rx="4" fill="#000" fill-opacity="0.06"/>
<rect x="303.5" y="990.2" width="35" height="84.2" rx="4" fill="#000" fill-opacity="0.04"/>
<rect x="357.5" y="990.2" width="35" height="84.2" rx="4" fill="#000" fill-opacity="0.04"/>
</g>
<g filter="url(#c26b4)">
<rect x="249.8" y="1041.3" width="37" height="15" rx="7.5" fill="#000" fill-opacity="0.6"/>
</g>
<g filter="url(#c26b3)">
<rect x="197.8" y="1010" width="34" height="33" rx="3" fill="#000" fill-opacity="0.07"/>
<rect x="197.8" y="1010.5" width="34" height="11" rx="3" fill="#000" fill-opacity="0.2"/>
<rect x="250.8" y="1010" width="35" height="33" rx="3" fill="#000" fill-opacity="0.5"/>
<rect x="250.8" y="1010.5" width="35" height="11" rx="3" fill="#000" fill-opacity="0.7"/>
<rect x="304" y="1010" width="34" height="33" rx="3" fill="#000" fill-opacity="0.06"/>
<rect x="304" y="1010.5" width="34" height="11" rx="3" fill="#000" fill-opacity="0.18"/>
<rect x="358" y="1010" width="34" height="33" rx="3" fill="#000" fill-opacity="0.05"/>
<rect x="358" y="1010.5" width="34" height="11" rx="3" fill="#000" fill-opacity="0.15"/>
</g>
<g filter="url(#c26b2_4)">
<rect x="197.3" y="1045.8" width="35" height="5" rx="2.5" fill="#000" fill-opacity="0.32"/>
<rect x="303.5" y="1045.8" width="35" height="5" rx="2.5" fill="#000" fill-opacity="0.25"/>
<rect x="357.5" y="1045.8" width="35" height="5" rx="2.5" fill="#000" fill-opacity="0.2"/>
</g>
<g filter="url(#c26b1_7)">
<rect x="250.3" y="1044.8" width="36" height="7" rx="2.59" fill="#000" fill-opacity="1"/>
</g>
</g>
<rect x="187.85" y="1001.45" width="214.5" height="61.7" fill="none" stroke="#000" stroke-width="2.5"/>
<g clip-path="url(#c27)">
<rect x="411.2" y="1000.2" width="217" height="64.2" fill="#ededed"/>
<rect x="411.2" y="1000.2" width="217" height="64.2" filter="url(#nz)"/>
<g filter="url(#c27b5)">
<rect x="412.5" y="990.2" width="31" height="84.2" rx="4" fill="#000" fill-opacity="0.03"/>
<rect x="474" y="990.2" width="34" height="84.2" rx="4" fill="#000" fill-opacity="0.06"/>
<rect x="529.5" y="990.2" width="33" height="84.2" rx="4" fill="#000" fill-opacity="0.04"/>
<rect x="588.5" y="990.2" width="31" height="84.2" rx="4" fill="#000" fill-opacity="0.05"/>
</g>
<g filter="url(#c27b4)">
<rect x="473.5" y="1037" width="35" height="15" rx="7.5" fill="#000" fill-opacity="0.6"/>
</g>
<g filter="url(#c27b3)">
<rect x="413" y="1010" width="30" height="33" rx="3" fill="#000" fill-opacity="0.05"/>
<rect x="413" y="1010.5" width="30" height="11" rx="3" fill="#000" fill-opacity="0.05"/>
<rect x="474.5" y="1010" width="33" height="33" rx="3" fill="#000" fill-opacity="0.5"/>
<rect x="474.5" y="1010.5" width="33" height="11" rx="3" fill="#000" fill-opacity="0.2"/>
<rect x="530" y="1010" width="32" height="33" rx="3" fill="#000" fill-opacity="0.17"/>
<rect x="530" y="1010.5" width="32" height="11" rx="3" fill="#000" fill-opacity="0.06"/>
<rect x="589" y="1010" width="30" height="33" rx="3" fill="#000" fill-opacity="0.2"/>
<rect x="589" y="1010.5" width="30" height="11" rx="3" fill="#000" fill-opacity="0.1"/>
</g>
<g filter="url(#c27b2_4)">
<rect x="412.5" y="1041.5" width="31" height="5" rx="2.5" fill="#000" fill-opacity="0.1"/>
<rect x="529.5" y="1041.5" width="33" height="5" rx="2.5" fill="#000" fill-opacity="0.5"/>
<rect x="588.5" y="1041.5" width="31" height="5" rx="2.5" fill="#000" fill-opacity="0.65"/>
</g>
<g filter="url(#c27b1_7)">
<rect x="474" y="1040.5" width="34" height="7" rx="2.59" fill="#000" fill-opacity="1"/>
</g>
</g>
<rect x="412.45" y="1001.45" width="214.5" height="61.7" fill="none" stroke="#000" stroke-width="2.5"/>
<g clip-path="url(#c28)">
<rect x="636" y="1000.2" width="217" height="64.2" fill="#ededed"/>
<rect x="636" y="1000.2" width="217" height="64.2" filter="url(#nz)"/>
<g filter="url(#c28b5)">
<rect x="643.5" y="990.2" width="31" height="84.2" rx="4" fill="#000" fill-opacity="0.03"/>
<rect x="697" y="990.2" width="34" height="84.2" rx="4" fill="#000" fill-opacity="0.06"/>
<rect x="755.5" y="990.2" width="33" height="84.2" rx="4" fill="#000" fill-opacity="0.03"/>
<rect x="808.5" y="990.2" width="33" height="84.2" rx="4" fill="#000" fill-opacity="0.03"/>
</g>
<g filter="url(#c28b4)">
<rect x="696.5" y="1041.3" width="35" height="15" rx="7.5" fill="#000" fill-opacity="0.6"/>
</g>
<g filter="url(#c28b3)">
<rect x="644" y="1010" width="30" height="33" rx="3" fill="#000" fill-opacity="0.03"/>
<rect x="697.5" y="1010" width="33" height="33" rx="3" fill="#000" fill-opacity="0.6"/>
<rect x="697.5" y="1010.5" width="33" height="11" rx="3" fill="#000" fill-opacity="0.1"/>
<rect x="756" y="1010" width="32" height="33" rx="3" fill="#000" fill-opacity="0.06"/>
<rect x="809" y="1010" width="32" height="33" rx="3" fill="#000" fill-opacity="0.06"/>
</g>
<g filter="url(#c28b2_4)">
<rect x="643.5" y="1045.8" width="31" height="5" rx="2.5" fill="#000" fill-opacity="0.05"/>
<rect x="755.5" y="1045.8" width="33" height="5" rx="2.5" fill="#000" fill-opacity="0.13"/>
<rect x="808.5" y="1045.8" width="33" height="5" rx="2.5" fill="#000" fill-opacity="0.13"/>
</g>
<g filter="url(#c28b1_7)">
<rect x="697" y="1044.8" width="34" height="7" rx="2.59" fill="#000" fill-opacity="1"/>
</g>
</g>
<rect x="637.25" y="1001.45" width="214.5" height="61.7" fill="none" stroke="#000" stroke-width="2.5"/>
<g clip-path="url(#c29)">
<rect x="186.6" y="1070.5" width="217" height="64.5" fill="#ededed"/>
<rect x="186.6" y="1070.5" width="217" height="64.5" filter="url(#nz)"/>
<g filter="url(#c29b5)">
<rect x="191.5" y="1060.5" width="37" height="84.5" rx="4" fill="#000" fill-opacity="0.04"/>
<rect x="247.5" y="1060.5" width="37" height="84.5" rx="4" fill="#000" fill-opacity="0.05"/>
<rect x="303.5" y="1060.5" width="37" height="84.5" rx="4" fill="#000" fill-opacity="0.04"/>
<rect x="359.5" y="1060.5" width="37" height="84.5" rx="4" fill="#000" fill-opacity="0.04"/>
</g>
<g filter="url(#c29b4)">
<rect x="192.5" y="1082" width="35" height="46" rx="3" fill="#000" fill-opacity="0.15"/>
<rect x="248.5" y="1082" width="35" height="46" rx="3" fill="#000" fill-opacity="0.15"/>
<rect x="304.5" y="1082" width="35" height="46" rx="3" fill="#000" fill-opacity="0.15"/>
<rect x="360.5" y="1082" width="35" height="46" rx="3" fill="#000" fill-opacity="0.15"/>
</g>
<g filter="url(#c29b3)">
<rect x="191.5" y="1082.5" width="37" height="9" rx="4.5" fill="#000" fill-opacity="0.22"/>
<rect x="247.5" y="1082.5" width="37" height="9" rx="4.5" fill="#000" fill-opacity="0.35"/>
<rect x="303.5" y="1082.5" width="37" height="9" rx="4.5" fill="#000" fill-opacity="0.22"/>
<rect x="359.5" y="1082.5" width="37" height="9" rx="4.5" fill="#000" fill-opacity="0.25"/>
</g>
<g filter="url(#c29b2_5)">
<rect x="191.5" y="1118.5" width="37" height="5" rx="2.5" fill="#000" fill-opacity="0.28"/>
<rect x="247.5" y="1118.5" width="37" height="5" rx="2.5" fill="#000" fill-opacity="0.32"/>
<rect x="303.5" y="1118.5" width="37" height="5" rx="2.5" fill="#000" fill-opacity="0.25"/>
<rect x="359.5" y="1118.5" width="37" height="5" rx="2.5" fill="#000" fill-opacity="0.25"/>
</g>
</g>
<rect x="187.85" y="1071.75" width="214.5" height="62" fill="none" stroke="#000" stroke-width="2.5"/>
<g clip-path="url(#c30)">
<rect x="411.2" y="1070.5" width="217" height="64.5" fill="#ededed"/>
<rect x="411.2" y="1070.5" width="217" height="64.5" filter="url(#nz)"/>
<g filter="url(#c30b5)">
<rect x="419" y="1060.5" width="38" height="84.5" rx="4" fill="#000" fill-opacity="0.04"/>
<rect x="474" y="1060.5" width="38" height="84.5" rx="4" fill="#000" fill-opacity="0.05"/>
<rect x="529.6" y="1060.5" width="38" height="84.5" rx="4" fill="#000" fill-opacity="0.04"/>
<rect x="583" y="1060.5" width="38" height="84.5" rx="4" fill="#000" fill-opacity="0.04"/>
</g>
<g filter="url(#c30b4)">
<rect x="420" y="1086.6" width="36" height="38.8" rx="3" fill="#000" fill-opacity="0.2"/>
<rect x="475" y="1086.6" width="36" height="38.8" rx="3" fill="#000" fill-opacity="0.2"/>
<rect x="530.6" y="1086.6" width="36" height="38.8" rx="3" fill="#000" fill-opacity="0.2"/>
<rect x="584" y="1086.6" width="36" height="38.8" rx="3" fill="#000" fill-opacity="0.2"/>
</g>
<g filter="url(#c30b2_5)">
<rect x="419" y="1115.9" width="38" height="5" rx="2.5" fill="#000" fill-opacity="0.2"/>
<rect x="474" y="1115.9" width="38" height="5" rx="2.5" fill="#000" fill-opacity="0.28"/>
<rect x="529.6" y="1115.9" width="38" height="5" rx="2.5" fill="#000" fill-opacity="0.22"/>
<rect x="583" y="1115.9" width="38" height="5" rx="2.5" fill="#000" fill-opacity="0.22"/>
</g>
<g filter="url(#c30b2_2)">
<rect x="419" y="1089.1" width="38" height="5" rx="2.5" fill="#000" fill-opacity="0.6"/>
<rect x="474" y="1089.1" width="38" height="5" rx="2.5" fill="#000" fill-opacity="0.7"/>
<rect x="529.6" y="1089.1" width="38" height="5" rx="2.5" fill="#000" fill-opacity="0.6"/>
<rect x="583" y="1089.1" width="38" height="5" rx="2.5" fill="#000" fill-opacity="0.4"/>
</g>
</g>
<rect x="412.45" y="1071.75" width="214.5" height="62" fill="none" stroke="#000" stroke-width="2.5"/>
<g clip-path="url(#c31)">
<rect x="636" y="1070.5" width="217" height="64.5" fill="#ededed"/>
<rect x="636" y="1070.5" width="217" height="64.5" filter="url(#nz)"/>
<g filter="url(#c31b5)">
<rect x="644" y="1060.5" width="36" height="84.5" rx="4" fill="#000" fill-opacity="0.04"/>
<rect x="697.5" y="1060.5" width="36" height="84.5" rx="4" fill="#000" fill-opacity="0.04"/>
<rect x="751" y="1060.5" width="36" height="84.5" rx="4" fill="#000" fill-opacity="0.04"/>
<rect x="807.4" y="1060.5" width="36" height="84.5" rx="4" fill="#000" fill-opacity="0.04"/>
</g>
<g filter="url(#c31b4)">
<rect x="645" y="1088.5" width="34" height="38.2" rx="3" fill="#000" fill-opacity="0.2"/>
<rect x="698.5" y="1088.5" width="34" height="38.2" rx="3" fill="#000" fill-opacity="0.2"/>
<rect x="752" y="1088.5" width="34" height="38.2" rx="3" fill="#000" fill-opacity="0.2"/>
<rect x="808.4" y="1088.5" width="34" height="38.2" rx="3" fill="#000" fill-opacity="0.2"/>
</g>
<g filter="url(#c31b3)">
<rect x="644" y="1089" width="36" height="9" rx="4.5" fill="#000" fill-opacity="0.25"/>
<rect x="697.5" y="1089" width="36" height="9" rx="4.5" fill="#000" fill-opacity="0.3"/>
<rect x="751" y="1089" width="36" height="9" rx="4.5" fill="#000" fill-opacity="0.2"/>
<rect x="807.4" y="1089" width="36" height="9" rx="4.5" fill="#000" fill-opacity="0.3"/>
</g>
<g filter="url(#c31b2_5)">
<rect x="644" y="1117.2" width="36" height="5" rx="2.5" fill="#000" fill-opacity="0.5"/>
<rect x="697.5" y="1117.2" width="36" height="5" rx="2.5" fill="#000" fill-opacity="0.55"/>
<rect x="751" y="1117.2" width="36" height="5" rx="2.5" fill="#000" fill-opacity="0.35"/>
<rect x="807.4" y="1117.2" width="36" height="5" rx="2.5" fill="#000" fill-opacity="0.5"/>
</g>
</g>
<rect x="637.25" y="1071.75" width="214.5" height="62" fill="none" stroke="#000" stroke-width="2.5"/>
<g clip-path="url(#c32)">
<rect x="186.6" y="1143.5" width="217" height="63.5" fill="#ededed"/>
<rect x="186.6" y="1143.5" width="217" height="63.5" filter="url(#nz)"/>
<g filter="url(#c32b5)">
<rect x="200.8" y="1133.5" width="36" height="83.5" rx="4" fill="#000" fill-opacity="0.08"/>
<rect x="257" y="1133.5" width="34" height="83.5" rx="4" fill="#000" fill-opacity="0.08"/>
</g>
<g filter="url(#c32b4)">
<rect x="200.3" y="1167.8" width="37" height="18" rx="9" fill="#000" fill-opacity="0.57"/>
<rect x="256.5" y="1168.3" width="35" height="19" rx="9.5" fill="#000" fill-opacity="0.57"/>
</g>
<g filter="url(#c32b1_7)">
<rect x="200.8" y="1171.3" width="36" height="10" rx="3.7" fill="#000" fill-opacity="0.95"/>
<rect x="257" y="1171.8" width="34" height="11" rx="4.07" fill="#000" fill-opacity="0.95"/>
</g>
</g>
<rect x="187.85" y="1144.75" width="214.5" height="61" fill="none" stroke="#000" stroke-width="2.5"/>
<g clip-path="url(#c33)">
<rect x="411.2" y="1143.5" width="217" height="63.5" fill="#ededed"/>
<rect x="411.2" y="1143.5" width="217" height="63.5" filter="url(#nz)"/>
<g filter="url(#c33b5)">
<rect x="421" y="1133.5" width="37" height="83.5" rx="4" fill="#000" fill-opacity="0.08"/>
<rect x="474.8" y="1133.5" width="35" height="83.5" rx="4" fill="#000" fill-opacity="0.08"/>
</g>
<g filter="url(#c33b4)">
<rect x="420.5" y="1165.6" width="38" height="21" rx="10.5" fill="#000" fill-opacity="0.6"/>
<rect x="474.3" y="1164.9" width="36" height="21" rx="10.5" fill="#000" fill-opacity="0.6"/>
</g>
<g filter="url(#c33b1_7)">
<rect x="421" y="1169.1" width="37" height="13" rx="4.81" fill="#000" fill-opacity="1"/>
<rect x="474.8" y="1168.4" width="35" height="13" rx="4.81" fill="#000" fill-opacity="1"/>
</g>
</g>
<rect x="412.45" y="1144.75" width="214.5" height="61" fill="none" stroke="#000" stroke-width="2.5"/>
<g clip-path="url(#c34)">
<rect x="636" y="1143.5" width="217" height="63.5" fill="#ededed"/>
<rect x="636" y="1143.5" width="217" height="63.5" filter="url(#nz)"/>
<g filter="url(#c34b5)">
<rect x="649.2" y="1133.5" width="34" height="83.5" rx="4" fill="#000" fill-opacity="0.08"/>
<rect x="698.5" y="1133.5" width="31" height="83.5" rx="4" fill="#000" fill-opacity="0.05"/>
</g>
<g filter="url(#c34b4)">
<rect x="648.7" y="1164" width="35" height="29" rx="14.5" fill="#000" fill-opacity="0.6"/>
</g>
<g filter="url(#c34b3)">
<rect x="698.5" y="1173.25" width="31" height="8.5" rx="4.25" fill="#000" fill-opacity="0.45"/>
</g>
<g filter="url(#c34b1_7)">
<rect x="649.2" y="1167.5" width="34" height="21" rx="7.78" fill="#000" fill-opacity="1"/>
</g>
</g>
<rect x="637.25" y="1144.75" width="214.5" height="61" fill="none" stroke="#000" stroke-width="2.5"/>
<g clip-path="url(#c35)">
<rect x="186.6" y="1213.7" width="217" height="63.9" fill="#ededed"/>
<rect x="186.6" y="1213.7" width="217" height="63.9" filter="url(#nz)"/>
<g filter="url(#c35b5)">
<rect x="200.5" y="1203.7" width="33" height="83.9" rx="4" fill="#000" fill-opacity="0.08"/>
<rect x="249.5" y="1203.7" width="35" height="83.9" rx="4" fill="#000" fill-opacity="0.08"/>
<rect x="302.7" y="1203.7" width="34" height="83.9" rx="4" fill="#000" fill-opacity="0.07"/>
<rect x="354.7" y="1203.7" width="35" height="83.9" rx="4" fill="#000" fill-opacity="0.08"/>
</g>
<g filter="url(#c35b4)">
<rect x="200" y="1238.7" width="34" height="20" rx="10" fill="#000" fill-opacity="0.6"/>
<rect x="249" y="1238" width="36" height="20" rx="10" fill="#000" fill-opacity="0.6"/>
<rect x="302.2" y="1246.7" width="35" height="16" rx="8" fill="#000" fill-opacity="0.6"/>
<rect x="354.2" y="1245.5" width="36" height="17" rx="8.5" fill="#000" fill-opacity="0.6"/>
</g>
<g filter="url(#c35b3_5)">
<rect x="200" y="1255" width="33" height="14" rx="7" fill="#000" fill-opacity="0.25"/>
<rect x="250" y="1255" width="33" height="14" rx="7" fill="#000" fill-opacity="0.2"/>
</g>
<g filter="url(#c35b1_7)">
<rect x="200.5" y="1242.2" width="33" height="12" rx="4.44" fill="#000" fill-opacity="1"/>
<rect x="249.5" y="1241.5" width="35" height="12" rx="4.44" fill="#000" fill-opacity="1"/>
<rect x="302.7" y="1250.2" width="34" height="8" rx="2.96" fill="#000" fill-opacity="1"/>
<rect x="354.7" y="1249" width="35" height="9" rx="3.33" fill="#000" fill-opacity="1"/>
</g>
</g>
<rect x="187.85" y="1214.95" width="214.5" height="61.4" fill="none" stroke="#000" stroke-width="2.5"/>
<g clip-path="url(#c36)">
<rect x="411.2" y="1213.7" width="217" height="63.9" fill="#ededed"/>
<rect x="411.2" y="1213.7" width="217" height="63.9" filter="url(#nz)"/>
<g filter="url(#c36b5)">
<rect x="426.2" y="1203.7" width="35" height="83.9" rx="4" fill="#000" fill-opacity="0.08"/>
<rect x="478.3" y="1203.7" width="35" height="83.9" rx="4" fill="#000" fill-opacity="0.08"/>
<rect x="531.6" y="1203.7" width="34" height="83.9" rx="4" fill="#000" fill-opacity="0.07"/>
<rect x="581.5" y="1203.7" width="32" height="83.9" rx="4" fill="#000" fill-opacity="0.07"/>
</g>
<g filter="url(#c36b4)">
<rect x="425.7" y="1239.3" width="36" height="21" rx="10.5" fill="#000" fill-opacity="0.6"/>
<rect x="477.8" y="1236.8" width="36" height="19" rx="9.5" fill="#000" fill-opacity="0.6"/>
<rect x="531.1" y="1241.8" width="35" height="16" rx="8" fill="#000" fill-opacity="0.6"/>
<rect x="581" y="1243.5" width="33" height="16" rx="8" fill="#000" fill-opacity="0.6"/>
</g>
<g filter="url(#c36b3_5)">
<rect x="479.3" y="1256" width="33" height="14" rx="7" fill="#000" fill-opacity="0.3"/>
</g>
<g filter="url(#c36b1_7)">
<rect x="426.2" y="1242.8" width="35" height="13" rx="4.81" fill="#000" fill-opacity="1"/>
<rect x="478.3" y="1240.3" width="35" height="11" rx="4.07" fill="#000" fill-opacity="1"/>
<rect x="531.6" y="1245.3" width="34" height="8" rx="2.96" fill="#000" fill-opacity="1"/>
<rect x="581.5" y="1247" width="32" height="8" rx="2.96" fill="#000" fill-opacity="1"/>
</g>
</g>
<rect x="412.45" y="1214.95" width="214.5" height="61.4" fill="none" stroke="#000" stroke-width="2.5"/>
<g clip-path="url(#c37)">
<rect x="636" y="1213.7" width="217" height="63.9" fill="#ededed"/>
<rect x="636" y="1213.7" width="217" height="63.9" filter="url(#nz)"/>
<g filter="url(#c37b5)">
<rect x="646.5" y="1203.7" width="36.6" height="83.9" rx="4" fill="#000" fill-opacity="0.08"/>
<rect x="700.8" y="1203.7" width="32.4" height="83.9" rx="4" fill="#000" fill-opacity="0.06"/>
<rect x="752.5" y="1203.7" width="35" height="83.9" rx="4" fill="#000" fill-opacity="0.08"/>
<rect x="804.2" y="1203.7" width="35" height="83.9" rx="4" fill="#000" fill-opacity="0.08"/>
</g>
<g filter="url(#c37b4)">
<rect x="646" y="1235.25" width="37.6" height="23.5" rx="11.75" fill="#000" fill-opacity="0.6"/>
<rect x="700.3" y="1240.75" width="33.4" height="16.5" rx="8.25" fill="#000" fill-opacity="0.48"/>
<rect x="752" y="1241.4" width="36" height="18" rx="9" fill="#000" fill-opacity="0.6"/>
<rect x="803.7" y="1240.15" width="36" height="18.7" rx="9.35" fill="#000" fill-opacity="0.6"/>
</g>
<g filter="url(#c37b3_5)">
<rect x="648.3" y="1257" width="33" height="14" rx="7" fill="#000" fill-opacity="0.3"/>
</g>
<g filter="url(#c37b1_7)">
<rect x="646.5" y="1238.75" width="36.6" height="15.5" rx="5.74" fill="#000" fill-opacity="1"/>
<rect x="700.8" y="1244.25" width="32.4" height="8.5" rx="3.15" fill="#000" fill-opacity="0.8"/>
<rect x="752.5" y="1244.9" width="35" height="10" rx="3.7" fill="#000" fill-opacity="1"/>
<rect x="804.2" y="1243.65" width="35" height="10.7" rx="3.96" fill="#000" fill-opacity="1"/>
</g>
</g>
<rect x="637.25" y="1214.95" width="214.5" height="61.4" fill="none" stroke="#000" stroke-width="2.5"/>
<g clip-path="url(#c38)">
<rect x="186.6" y="1282.6" width="217" height="64.2" fill="#ededed"/>
<rect x="186.6" y="1282.6" width="217" height="64.2" filter="url(#nz)"/>
<g filter="url(#c38b5)">
<rect x="199.85" y="1272.6" width="47.5" height="84.2" rx="4" fill="#000" fill-opacity="0.08"/>
<rect x="247.25" y="1272.6" width="47.5" height="84.2" rx="4" fill="#000" fill-opacity="0.08"/>
<rect x="293.5" y="1272.6" width="45" height="84.2" rx="4" fill="#000" fill-opacity="0.08"/>
<rect x="342.5" y="1272.6" width="43" height="84.2" rx="4" fill="#000" fill-opacity="0.08"/>
</g>
<g filter="url(#c38b4)">
<rect x="199.35" y="1303.2" width="48.5" height="21" rx="10.5" fill="#000" fill-opacity="0.6"/>
<rect x="246.75" y="1303.2" width="48.5" height="21" rx="10.5" fill="#000" fill-opacity="0.6"/>
<rect x="293" y="1303.9" width="46" height="18" rx="9" fill="#000" fill-opacity="0.6"/>
<rect x="342" y="1304.1" width="44" height="18" rx="9" fill="#000" fill-opacity="0.6"/>
</g>
<g filter="url(#c38b1_7)">
<rect x="199.85" y="1306.7" width="47.5" height="13" rx="4.81" fill="#000" fill-opacity="1"/>
<rect x="247.25" y="1306.7" width="47.5" height="13" rx="4.81" fill="#000" fill-opacity="1"/>
<rect x="293.5" y="1307.4" width="45" height="10" rx="3.7" fill="#000" fill-opacity="1"/>
<rect x="342.5" y="1307.6" width="43" height="10" rx="3.7" fill="#000" fill-opacity="1"/>
</g>
</g>
<rect x="187.85" y="1283.85" width="214.5" height="61.7" fill="none" stroke="#000" stroke-width="2.5"/>
<g clip-path="url(#c39)">
<rect x="411.2" y="1282.6" width="217" height="64.2" fill="#ededed"/>
<rect x="411.2" y="1282.6" width="217" height="64.2" filter="url(#nz)"/>
<g filter="url(#c39b5)">
<rect x="421" y="1272.6" width="42" height="84.2" rx="4" fill="#000" fill-opacity="0.08"/>
<rect x="472" y="1272.6" width="42" height="84.2" rx="4" fill="#000" fill-opacity="0.08"/>
<rect x="524" y="1272.6" width="40" height="84.2" rx="4" fill="#000" fill-opacity="0.08"/>
<rect x="579" y="1272.6" width="16" height="84.2" rx="4" fill="#000" fill-opacity="0.07"/>
<rect x="593" y="1272.6" width="16" height="84.2" rx="4" fill="#000" fill-opacity="0.07"/>
</g>
<g filter="url(#c39b4)">
<rect x="420.5" y="1303.75" width="43" height="17.5" rx="8.75" fill="#000" fill-opacity="0.6"/>
<rect x="471.5" y="1303" width="43" height="17" rx="8.5" fill="#000" fill-opacity="0.6"/>
<rect x="523.5" y="1303.5" width="41" height="17" rx="8.5" fill="#000" fill-opacity="0.6"/>
<rect x="578.5" y="1305.7" width="17" height="16" rx="8" fill="#000" fill-opacity="0.6"/>
<rect x="585.5" y="1307.7" width="17" height="16" rx="8" fill="#000" fill-opacity="0.6"/>
<rect x="592.5" y="1309.9" width="17" height="16" rx="8" fill="#000" fill-opacity="0.6"/>
</g>
<g filter="url(#c39b1_7)">
<rect x="421" y="1307.25" width="42" height="9.5" rx="3.52" fill="#000" fill-opacity="1"/>
<rect x="472" y="1306.5" width="42" height="9" rx="3.33" fill="#000" fill-opacity="1"/>
<rect x="524" y="1307" width="40" height="9" rx="3.33" fill="#000" fill-opacity="1"/>
<rect x="579" y="1309.2" width="16" height="8" rx="2.96" fill="#000" fill-opacity="1"/>
<rect x="586" y="1311.2" width="16" height="8" rx="2.96" fill="#000" fill-opacity="1"/>
<rect x="593" y="1313.4" width="16" height="8" rx="2.96" fill="#000" fill-opacity="1"/>
</g>
</g>
<rect x="412.45" y="1283.85" width="214.5" height="61.7" fill="none" stroke="#000" stroke-width="2.5"/>
<g clip-path="url(#c40)">
<rect x="636" y="1282.6" width="217" height="64.2" fill="#ededed"/>
<rect x="636" y="1282.6" width="217" height="64.2" filter="url(#nz)"/>
<g filter="url(#c40b5)">
<rect x="648.55" y="1272.6" width="46.5" height="84.2" rx="4" fill="#000" fill-opacity="0.08"/>
<rect x="695.05" y="1272.6" width="46.5" height="84.2" rx="4" fill="#000" fill-opacity="0.08"/>
<rect x="744.35" y="1272.6" width="46.5" height="84.2" rx="4" fill="#000" fill-opacity="0.08"/>
<rect x="795.05" y="1272.6" width="46.5" height="84.2" rx="4" fill="#000" fill-opacity="0.08"/>
</g>
<g filter="url(#c40b4)">
<rect x="648.05" y="1298.6" width="47.5" height="25" rx="12.5" fill="#000" fill-opacity="0.6"/>
<rect x="694.55" y="1302.2" width="47.5" height="22" rx="11" fill="#000" fill-opacity="0.6"/>
<rect x="743.85" y="1302.7" width="47.5" height="21" rx="10.5" fill="#000" fill-opacity="0.6"/>
<rect x="794.55" y="1303.2" width="47.5" height="20" rx="10" fill="#000" fill-opacity="0.6"/>
</g>
<g filter="url(#c40b1_7)">
<rect x="648.55" y="1302.1" width="46.5" height="17" rx="6.3" fill="#000" fill-opacity="1"/>
<rect x="695.05" y="1305.7" width="46.5" height="14" rx="5.19" fill="#000" fill-opacity="1"/>
<rect x="744.35" y="1306.2" width="46.5" height="13" rx="4.81" fill="#000" fill-opacity="1"/>
<rect x="795.05" y="1306.7" width="46.5" height="12" rx="4.44" fill="#000" fill-opacity="1"/>
</g>
</g>
<rect x="637.25" y="1283.85" width="214.5" height="61.7" fill="none" stroke="#000" stroke-width="2.5"/>
<g clip-path="url(#c41)">
<rect x="636" y="1353.6" width="217" height="64.2" fill="#ededed"/>
<rect x="636" y="1353.6" width="217" height="64.2" filter="url(#nz)"/>
<g filter="url(#c41b5)">
<rect x="652.1" y="1343.6" width="31" height="84.2" rx="4" fill="#000" fill-opacity="0.04"/>
<rect x="699.3" y="1343.6" width="39.4" height="84.2" rx="4" fill="#000" fill-opacity="0.08"/>
<rect x="753.7" y="1343.6" width="38" height="84.2" rx="4" fill="#000" fill-opacity="0.08"/>
<rect x="805" y="1343.6" width="38" height="84.2" rx="4" fill="#000" fill-opacity="0.08"/>
</g>
<g filter="url(#c41b3)">
<rect x="699.3" y="1363" width="39.4" height="50" rx="3" fill="#000" fill-opacity="0.6"/>
<rect x="753.7" y="1363" width="38" height="50" rx="3" fill="#000" fill-opacity="0.6"/>
<rect x="805" y="1363" width="38" height="50" rx="3" fill="#000" fill-opacity="0.45"/>
</g>
<g filter="url(#c41b2_5)">
<rect x="699.3" y="1403" width="39.4" height="6" rx="3" fill="#000" fill-opacity="0.6"/>
<rect x="753.7" y="1403" width="38" height="6" rx="3" fill="#000" fill-opacity="0.6"/>
<rect x="805" y="1403" width="38" height="6" rx="3" fill="#000" fill-opacity="0.5"/>
</g>
<g filter="url(#c41b2)">
<rect x="652.1" y="1390" width="31" height="4" rx="2" fill="#000" fill-opacity="0.45"/>
<rect x="652.1" y="1405.6" width="31" height="4" rx="2" fill="#000" fill-opacity="0.35"/>
<rect x="699.3" y="1365.9" width="39.4" height="13" rx="6.5" fill="#000" fill-opacity="1"/>
<rect x="699.3" y="1384.2" width="39.4" height="13" rx="6.5" fill="#000" fill-opacity="1"/>
<rect x="753.7" y="1365.9" width="38" height="13" rx="6.5" fill="#000" fill-opacity="1"/>
<rect x="753.7" y="1384.2" width="38" height="13" rx="6.5" fill="#000" fill-opacity="1"/>
<rect x="805" y="1367.4" width="38" height="10" rx="5" fill="#000" fill-opacity="0.9"/>
<rect x="805" y="1385.7" width="38" height="10" rx="5" fill="#000" fill-opacity="0.85"/>
</g>
</g>
<rect x="637.25" y="1354.85" width="214.5" height="61.7" fill="none" stroke="#000" stroke-width="2.5"/>
<text x="177.3" y="889.6" font-size="33" stroke="#000" stroke-width="0.35" text-anchor="end" textLength="131" lengthAdjust="spacingAndGlyphs">pAMPKα</text>
<text x="176" y="928.2" font-size="33" stroke="#000" stroke-width="0.35" text-anchor="end" textLength="80" lengthAdjust="spacingAndGlyphs">-T172</text>
<text x="173.5" y="977" font-size="33" stroke="#000" stroke-width="0.35" text-anchor="end" textLength="96" lengthAdjust="spacingAndGlyphs">AMPK</text>
<text x="176.3" y="1025.2" font-size="33" stroke="#000" stroke-width="0.35" text-anchor="end" textLength="98.6" lengthAdjust="spacingAndGlyphs">pACC1</text>
<text x="178.5" y="1064.6" font-size="33" stroke="#000" stroke-width="0.35" text-anchor="end" textLength="61" lengthAdjust="spacingAndGlyphs">-S79</text>
<text x="172.7" y="1120.3" font-size="33" stroke="#000" stroke-width="0.35" text-anchor="end" textLength="81.5" lengthAdjust="spacingAndGlyphs">ACC1</text>
<text x="174.6" y="1166.6" font-size="33" stroke="#000" stroke-width="0.35" text-anchor="end" textLength="136.3" lengthAdjust="spacingAndGlyphs">pP70 S6K</text>
<text x="173.8" y="1205.9" font-size="33" stroke="#000" stroke-width="0.35" text-anchor="end" textLength="80.5" lengthAdjust="spacingAndGlyphs">-T389</text>
<text x="174.8" y="1261.8" font-size="33" stroke="#000" stroke-width="0.35" text-anchor="end" textLength="119.3" lengthAdjust="spacingAndGlyphs">P70 S6K</text>
<text x="176" y="1318.6" font-size="33" stroke="#000" stroke-width="0.35" text-anchor="end" textLength="114.3" lengthAdjust="spacingAndGlyphs">GAPDH</text>
<text x="626" y="1401" font-size="33" stroke="#000" stroke-width="0.35" text-anchor="end" textLength="87.3" lengthAdjust="spacingAndGlyphs">HIF1α</text>
<line x1="852.5" y1="901.1" x2="862.5" y2="901.1" stroke="#000" stroke-width="2.6"/>
<text x="867.5" y="910.8" font-size="32" stroke="#000" stroke-width="0.35">55</text>
<line x1="852.5" y1="973" x2="862.5" y2="973" stroke="#000" stroke-width="2.6"/>
<text x="867.5" y="982.7" font-size="32" stroke="#000" stroke-width="0.35">55</text>
<line x1="852.5" y1="1048.5" x2="862.5" y2="1048.5" stroke="#000" stroke-width="2.6"/>
<text x="868.7" y="1058.2" font-size="32" stroke="#000" stroke-width="0.35">170</text>
<line x1="852.5" y1="1122.3" x2="862.5" y2="1122.3" stroke="#000" stroke-width="2.6"/>
<text x="868.7" y="1132" font-size="32" stroke="#000" stroke-width="0.35">170</text>
<line x1="852.5" y1="1186" x2="862.5" y2="1186" stroke="#000" stroke-width="2.6"/>
<text x="869.8" y="1195.7" font-size="32" stroke="#000" stroke-width="0.35">70</text>
<line x1="852.5" y1="1257" x2="862.5" y2="1257" stroke="#000" stroke-width="2.6"/>
<text x="869.8" y="1266.7" font-size="32" stroke="#000" stroke-width="0.35">70</text>
<line x1="852.5" y1="1328.7" x2="862.5" y2="1328.7" stroke="#000" stroke-width="2.6"/>
<text x="869.8" y="1338.4" font-size="32" stroke="#000" stroke-width="0.35">35</text>
<line x1="852.5" y1="1392.1" x2="862.5" y2="1392.1" stroke="#000" stroke-width="2.6"/>
<text x="864.5" y="1401.8" font-size="32" stroke="#000" stroke-width="0.35">100</text>
<text x="947.5" y="117.5" font-size="57" font-weight="bold" textLength="28.5" lengthAdjust="spacingAndGlyphs">b</text>
<line x1="1058.1" y1="394.1" x2="1490.4" y2="394.1" stroke="#000" stroke-width="2"/>
<line x1="1063.6" y1="186.8" x2="1063.6" y2="394.1" stroke="#000" stroke-width="1.8"/>
<line x1="1058.1" y1="325.3" x2="1063.6" y2="325.3" stroke="#000" stroke-width="1.8"/>
<line x1="1058.1" y1="256.5" x2="1063.6" y2="256.5" stroke="#000" stroke-width="1.8"/>
<line x1="1058.1" y1="187.7" x2="1063.6" y2="187.7" stroke="#000" stroke-width="1.8"/>
<line x1="1135.6" y1="394.1" x2="1135.6" y2="399.6" stroke="#000" stroke-width="1.8"/>
<rect x="1075.15" y="316.16" width="20.5" height="77.94" fill="#fff" stroke="#000" stroke-width="1.9"/>
<line x1="1085.4" y1="311.16" x2="1085.4" y2="321.16" stroke="#000" stroke-width="1.9"/>
<line x1="1080.9" y1="311.16" x2="1089.9" y2="311.16" stroke="#000" stroke-width="1.9"/>
<line x1="1080.9" y1="321.16" x2="1089.9" y2="321.16" stroke="#000" stroke-width="1.9"/>
<circle cx="1080.9" cy="318.91" r="2.5" fill="#000"/>
<circle cx="1085.9" cy="311.41" r="2.5" fill="#000"/>
<circle cx="1089.9" cy="319.16" r="2.5" fill="#000"/>
<rect x="1108.15" y="259.26" width="20.5" height="134.84" fill="#fff" stroke="#000" stroke-width="1.9"/>
<line x1="1118.4" y1="253.26" x2="1118.4" y2="265.26" stroke="#000" stroke-width="1.9"/>
<line x1="1113.9" y1="253.26" x2="1122.9" y2="253.26" stroke="#000" stroke-width="1.9"/>
<line x1="1113.9" y1="265.26" x2="1122.9" y2="265.26" stroke="#000" stroke-width="1.9"/>
<circle cx="1113.9" cy="262.56" r="2.5" fill="#000"/>
<circle cx="1118.9" cy="253.56" r="2.5" fill="#000"/>
<circle cx="1122.9" cy="262.86" r="2.5" fill="#000"/>
<rect x="1141.05" y="299.82" width="20.5" height="94.28" fill="#fff" stroke="#000" stroke-width="1.9"/>
<line x1="1151.3" y1="296.32" x2="1151.3" y2="303.32" stroke="#000" stroke-width="1.9"/>
<line x1="1146.8" y1="296.32" x2="1155.8" y2="296.32" stroke="#000" stroke-width="1.9"/>
<line x1="1146.8" y1="303.32" x2="1155.8" y2="303.32" stroke="#000" stroke-width="1.9"/>
<circle cx="1146.8" cy="301.74" r="2.5" fill="#000"/>
<circle cx="1151.8" cy="296.49" r="2.5" fill="#000"/>
<circle cx="1155.8" cy="301.92" r="2.5" fill="#000"/>
<rect x="1173.95" y="297.78" width="20.5" height="96.32" fill="#fff" stroke="#000" stroke-width="1.9"/>
<line x1="1184.2" y1="291.78" x2="1184.2" y2="303.78" stroke="#000" stroke-width="1.9"/>
<line x1="1179.7" y1="291.78" x2="1188.7" y2="291.78" stroke="#000" stroke-width="1.9"/>
<line x1="1179.7" y1="303.78" x2="1188.7" y2="303.78" stroke="#000" stroke-width="1.9"/>
<circle cx="1179.7" cy="301.08" r="2.5" fill="#000"/>
<circle cx="1184.7" cy="292.08" r="2.5" fill="#000"/>
<circle cx="1188.7" cy="301.38" r="2.5" fill="#000"/>
<line x1="1205.7" y1="186.8" x2="1205.7" y2="394.1" stroke="#000" stroke-width="1.8"/>
<line x1="1200.2" y1="325.3" x2="1205.7" y2="325.3" stroke="#000" stroke-width="1.8"/>
<line x1="1200.2" y1="256.5" x2="1205.7" y2="256.5" stroke="#000" stroke-width="1.8"/>
<line x1="1200.2" y1="187.7" x2="1205.7" y2="187.7" stroke="#000" stroke-width="1.8"/>
<line x1="1277.7" y1="394.1" x2="1277.7" y2="399.6" stroke="#000" stroke-width="1.8"/>
<rect x="1216.95" y="313.24" width="20.5" height="80.86" fill="#fff" stroke="#000" stroke-width="1.9"/>
<line x1="1227.2" y1="310.94" x2="1227.2" y2="315.54" stroke="#000" stroke-width="1.9"/>
<line x1="1222.7" y1="310.94" x2="1231.7" y2="310.94" stroke="#000" stroke-width="1.9"/>
<line x1="1222.7" y1="315.54" x2="1231.7" y2="315.54" stroke="#000" stroke-width="1.9"/>
<circle cx="1222.7" cy="314.5" r="2.5" fill="#000"/>
<circle cx="1227.7" cy="311.05" r="2.5" fill="#000"/>
<circle cx="1231.7" cy="314.62" r="2.5" fill="#000"/>
<rect x="1249.95" y="221.34" width="20.5" height="172.76" fill="#fff" stroke="#000" stroke-width="1.9"/>
<line x1="1260.2" y1="213.34" x2="1260.2" y2="229.34" stroke="#000" stroke-width="1.9"/>
<line x1="1255.7" y1="213.34" x2="1264.7" y2="213.34" stroke="#000" stroke-width="1.9"/>
<line x1="1255.7" y1="229.34" x2="1264.7" y2="229.34" stroke="#000" stroke-width="1.9"/>
<circle cx="1255.7" cy="225.74" r="2.5" fill="#000"/>
<circle cx="1260.7" cy="213.74" r="2.5" fill="#000"/>
<circle cx="1264.7" cy="226.14" r="2.5" fill="#000"/>
<rect x="1282.85" y="287.56" width="20.5" height="106.54" fill="#fff" stroke="#000" stroke-width="1.9"/>
<line x1="1293.1" y1="283.06" x2="1293.1" y2="292.06" stroke="#000" stroke-width="1.9"/>
<line x1="1288.6" y1="283.06" x2="1297.6" y2="283.06" stroke="#000" stroke-width="1.9"/>
<line x1="1288.6" y1="292.06" x2="1297.6" y2="292.06" stroke="#000" stroke-width="1.9"/>
<circle cx="1288.6" cy="290.04" r="2.5" fill="#000"/>
<circle cx="1293.6" cy="283.29" r="2.5" fill="#000"/>
<circle cx="1297.6" cy="290.26" r="2.5" fill="#000"/>
<rect x="1315.75" y="288.44" width="20.5" height="105.66" fill="#fff" stroke="#000" stroke-width="1.9"/>
<line x1="1326" y1="286.44" x2="1326" y2="290.44" stroke="#000" stroke-width="1.9"/>
<line x1="1321.5" y1="286.44" x2="1330.5" y2="286.44" stroke="#000" stroke-width="1.9"/>
<line x1="1321.5" y1="290.44" x2="1330.5" y2="290.44" stroke="#000" stroke-width="1.9"/>
<circle cx="1321.5" cy="289.54" r="2.5" fill="#000"/>
<circle cx="1326.5" cy="286.54" r="2.5" fill="#000"/>
<circle cx="1330.5" cy="289.64" r="2.5" fill="#000"/>
<line x1="1348.2" y1="186.8" x2="1348.2" y2="394.1" stroke="#000" stroke-width="1.8"/>
<line x1="1342.7" y1="325.3" x2="1348.2" y2="325.3" stroke="#000" stroke-width="1.8"/>
<line x1="1342.7" y1="256.5" x2="1348.2" y2="256.5" stroke="#000" stroke-width="1.8"/>
<line x1="1342.7" y1="187.7" x2="1348.2" y2="187.7" stroke="#000" stroke-width="1.8"/>
<line x1="1420.2" y1="394.1" x2="1420.2" y2="399.6" stroke="#000" stroke-width="1.8"/>
<rect x="1359.35" y="320.53" width="20.5" height="73.57" fill="#fff" stroke="#000" stroke-width="1.9"/>
<line x1="1369.6" y1="317.53" x2="1369.6" y2="323.53" stroke="#000" stroke-width="1.9"/>
<line x1="1365.1" y1="317.53" x2="1374.1" y2="317.53" stroke="#000" stroke-width="1.9"/>
<line x1="1365.1" y1="323.53" x2="1374.1" y2="323.53" stroke="#000" stroke-width="1.9"/>
<circle cx="1365.1" cy="322.18" r="2.5" fill="#000"/>
<circle cx="1370.1" cy="317.68" r="2.5" fill="#000"/>
<circle cx="1374.1" cy="322.33" r="2.5" fill="#000"/>
<rect x="1392.35" y="264.22" width="20.5" height="129.88" fill="#fff" stroke="#000" stroke-width="1.9"/>
<line x1="1402.6" y1="259.72" x2="1402.6" y2="268.72" stroke="#000" stroke-width="1.9"/>
<line x1="1398.1" y1="259.72" x2="1407.1" y2="259.72" stroke="#000" stroke-width="1.9"/>
<line x1="1398.1" y1="268.72" x2="1407.1" y2="268.72" stroke="#000" stroke-width="1.9"/>
<circle cx="1398.1" cy="266.7" r="2.5" fill="#000"/>
<circle cx="1403.1" cy="259.95" r="2.5" fill="#000"/>
<circle cx="1407.1" cy="266.92" r="2.5" fill="#000"/>
<rect x="1425.25" y="326.08" width="20.5" height="68.02" fill="#fff" stroke="#000" stroke-width="1.9"/>
<line x1="1435.5" y1="322.58" x2="1435.5" y2="329.58" stroke="#000" stroke-width="1.9"/>
<line x1="1431" y1="322.58" x2="1440" y2="322.58" stroke="#000" stroke-width="1.9"/>
<line x1="1431" y1="329.58" x2="1440" y2="329.58" stroke="#000" stroke-width="1.9"/>
<circle cx="1431" cy="328" r="2.5" fill="#000"/>
<circle cx="1436" cy="322.75" r="2.5" fill="#000"/>
<circle cx="1440" cy="328.18" r="2.5" fill="#000"/>
<rect x="1458.15" y="307.99" width="20.5" height="86.11" fill="#fff" stroke="#000" stroke-width="1.9"/>
<line x1="1468.4" y1="305.69" x2="1468.4" y2="310.29" stroke="#000" stroke-width="1.9"/>
<line x1="1463.9" y1="305.69" x2="1472.9" y2="305.69" stroke="#000" stroke-width="1.9"/>
<line x1="1463.9" y1="310.29" x2="1472.9" y2="310.29" stroke="#000" stroke-width="1.9"/>
<circle cx="1463.9" cy="309.25" r="2.5" fill="#000"/>
<circle cx="1468.9" cy="305.8" r="2.5" fill="#000"/>
<circle cx="1472.9" cy="309.37" r="2.5" fill="#000"/>
<text x="1047" y="397.5" font-size="32.6" stroke="#000" stroke-width="0.35" text-anchor="end">0</text>
<text x="1049.4" y="332.7" font-size="32.6" stroke="#000" stroke-width="0.35" text-anchor="end">0.5</text>
<text x="1049.4" y="268.6" font-size="32.6" stroke="#000" stroke-width="0.35" text-anchor="end">1.0</text>
<text x="1049.4" y="194.4" font-size="32.6" stroke="#000" stroke-width="0.35" text-anchor="end">1.5</text>
<text x="987" y="282" font-size="33" stroke="#000" stroke-width="0.35" text-anchor="middle" transform="rotate(-90 987 282)" textLength="268" lengthAdjust="spacingAndGlyphs">NADH/NAD<tspan font-size="22" dy="-11">+</tspan><tspan dy="11"> Ratio</tspan></text>
<text x="1081.34" y="162.7" font-size="24.5" stroke="#000" stroke-width="0.12" textLength="108.5" lengthAdjust="spacingAndGlyphs"><tspan font-style="italic">p</tspan> = 0.0010</text>
<line x1="1119.85" y1="170.86" x2="1172.95" y2="170.86" stroke="#000" stroke-width="2.4"/>
<text x="1081.34" y="196.54" font-size="24.5" stroke="#000" stroke-width="0.12" textLength="108.5" lengthAdjust="spacingAndGlyphs"><tspan font-style="italic">p</tspan> = 0.0003</text>
<line x1="1119.85" y1="204.42" x2="1143.77" y2="204.42" stroke="#000" stroke-width="2.4"/>
<text x="1081.34" y="233.59" font-size="24.5" stroke="#000" stroke-width="0.12" textLength="108.5" lengthAdjust="spacingAndGlyphs"><tspan font-style="italic">p</tspan> = 0.0001</text>
<line x1="1090.67" y1="241.47" x2="1114.01" y2="241.47" stroke="#000" stroke-width="2.4"/>
<text x="1222.84" y="122.73" font-size="24.5" stroke="#000" stroke-width="0.12" textLength="108.5" lengthAdjust="spacingAndGlyphs"><tspan font-style="italic">p</tspan> = 0.0001</text>
<line x1="1261.35" y1="130.6" x2="1313.86" y2="130.6" stroke="#000" stroke-width="2.4"/>
<text x="1222.84" y="156.28" font-size="24.5" stroke="#000" stroke-width="0.12" textLength="108.5" lengthAdjust="spacingAndGlyphs"><tspan font-style="italic">p</tspan> = 0.0002</text>
<line x1="1261.93" y1="164.15" x2="1284.69" y2="164.15" stroke="#000" stroke-width="2.4"/>
<text x="1222.84" y="194.2" font-size="24.5" stroke="#000" stroke-width="0.12" textLength="110.5" lengthAdjust="spacingAndGlyphs"><tspan font-style="italic">p</tspan> &lt; 0.0001</text>
<line x1="1232.17" y1="201.5" x2="1255.51" y2="201.5" stroke="#000" stroke-width="2.4"/>
<text x="1368.42" y="168.82" font-size="24.5" stroke="#000" stroke-width="0.12" textLength="108.5" lengthAdjust="spacingAndGlyphs"><tspan font-style="italic">p</tspan> = 0.0001</text>
<line x1="1407.22" y1="176.7" x2="1459.74" y2="176.7" stroke="#000" stroke-width="2.4"/>
<text x="1368.42" y="203.83" font-size="24.5" stroke="#000" stroke-width="0.12" textLength="110.5" lengthAdjust="spacingAndGlyphs"><tspan font-style="italic">p</tspan> &lt; 0.0001</text>
<line x1="1407.8" y1="210.83" x2="1431.14" y2="210.83" stroke="#000" stroke-width="2.4"/>
<text x="1368.42" y="238.84" font-size="24.5" stroke="#000" stroke-width="0.12" textLength="110.5" lengthAdjust="spacingAndGlyphs"><tspan font-style="italic">p</tspan> &lt; 0.0001</text>
<line x1="1378.05" y1="247.3" x2="1401.39" y2="247.3" stroke="#000" stroke-width="2.4"/>
<text x="1063" y="435.4" font-size="33" stroke="#000" stroke-width="0.35" text-anchor="end">Dox</text>
<text x="1064.4" y="482.1" font-size="33" stroke="#000" stroke-width="0.35" text-anchor="end">α KB</text>
<text x="1085.4" y="433.9" font-size="38" text-anchor="middle" stroke="#000" stroke-width="0.3">-</text>
<text x="1118.4" y="433.9" font-size="38" text-anchor="middle" stroke="#000" stroke-width="0.3">-</text>
<text x="1151.3" y="433.9" font-size="38" text-anchor="middle" stroke="#000" stroke-width="0.3">-</text>
<text x="1184.2" y="436.1" font-size="33" text-anchor="middle">+</text>
<text x="1085.4" y="475.1" font-size="38" text-anchor="middle" stroke="#000" stroke-width="0.3">-</text>
<text x="1118.4" y="475.1" font-size="38" text-anchor="middle" stroke="#000" stroke-width="0.3">-</text>
<text x="1151.3" y="477.3" font-size="33" text-anchor="middle">+</text>
<text x="1184.2" y="475.1" font-size="38" text-anchor="middle" stroke="#000" stroke-width="0.3">-</text>
<text x="1085.4" y="517.1" font-size="38" text-anchor="middle" stroke="#000" stroke-width="0.3">-</text>
<text x="1118.4" y="519.3" font-size="33" text-anchor="middle">+</text>
<text x="1151.3" y="519.3" font-size="33" text-anchor="middle">+</text>
<text x="1184.2" y="519.3" font-size="33" text-anchor="middle">+</text>
<line x1="1073.1" y1="487.4" x2="1195.1" y2="487.4" stroke="#000" stroke-width="2.2" stroke-dasharray="2.2 2.6"/>
<line x1="1077.1" y1="488.9" x2="1037.1" y2="532.4" stroke="#000" stroke-width="2.2" stroke-dasharray="2.2 2.6"/>
<text x="1227.2" y="433.9" font-size="38" text-anchor="middle" stroke="#000" stroke-width="0.3">-</text>
<text x="1260.2" y="433.9" font-size="38" text-anchor="middle" stroke="#000" stroke-width="0.3">-</text>
<text x="1293.1" y="433.9" font-size="38" text-anchor="middle" stroke="#000" stroke-width="0.3">-</text>
<text x="1326" y="436.1" font-size="33" text-anchor="middle">+</text>
<text x="1227.2" y="475.1" font-size="38" text-anchor="middle" stroke="#000" stroke-width="0.3">-</text>
<text x="1260.2" y="475.1" font-size="38" text-anchor="middle" stroke="#000" stroke-width="0.3">-</text>
<text x="1293.1" y="477.3" font-size="33" text-anchor="middle">+</text>
<text x="1326" y="475.1" font-size="38" text-anchor="middle" stroke="#000" stroke-width="0.3">-</text>
<text x="1227.2" y="517.1" font-size="38" text-anchor="middle" stroke="#000" stroke-width="0.3">-</text>
<text x="1260.2" y="519.3" font-size="33" text-anchor="middle">+</text>
<text x="1293.1" y="519.3" font-size="33" text-anchor="middle">+</text>
<text x="1326" y="519.3" font-size="33" text-anchor="middle">+</text>
<line x1="1215.2" y1="487.4" x2="1337.2" y2="487.4" stroke="#000" stroke-width="2.2" stroke-dasharray="2.2 2.6"/>
<line x1="1219.2" y1="488.9" x2="1179.2" y2="532.4" stroke="#000" stroke-width="2.2" stroke-dasharray="2.2 2.6"/>
<text x="1369.6" y="433.9" font-size="38" text-anchor="middle" stroke="#000" stroke-width="0.3">-</text>
<text x="1402.6" y="433.9" font-size="38" text-anchor="middle" stroke="#000" stroke-width="0.3">-</text>
<text x="1435.5" y="433.9" font-size="38" text-anchor="middle" stroke="#000" stroke-width="0.3">-</text>
<text x="1468.4" y="436.1" font-size="33" text-anchor="middle">+</text>
<text x="1369.6" y="475.1" font-size="38" text-anchor="middle" stroke="#000" stroke-width="0.3">-</text>
<text x="1402.6" y="475.1" font-size="38" text-anchor="middle" stroke="#000" stroke-width="0.3">-</text>
<text x="1435.5" y="477.3" font-size="33" text-anchor="middle">+</text>
<text x="1468.4" y="475.1" font-size="38" text-anchor="middle" stroke="#000" stroke-width="0.3">-</text>
<text x="1369.6" y="517.1" font-size="38" text-anchor="middle" stroke="#000" stroke-width="0.3">-</text>
<text x="1402.6" y="519.3" font-size="33" text-anchor="middle">+</text>
<text x="1435.5" y="519.3" font-size="33" text-anchor="middle">+</text>
<text x="1468.4" y="519.3" font-size="33" text-anchor="middle">+</text>
<line x1="1357.7" y1="487.4" x2="1479.7" y2="487.4" stroke="#000" stroke-width="2.2" stroke-dasharray="2.2 2.6"/>
<line x1="1361.7" y1="488.9" x2="1321.7" y2="532.4" stroke="#000" stroke-width="2.2" stroke-dasharray="2.2 2.6"/>
<text x="1092" y="524.5" font-size="32" stroke="#000" stroke-width="0.35" text-anchor="end" transform="rotate(-45 1092 524.5)">Ant A</text>
<text x="1233.6" y="529" font-size="32" stroke="#000" stroke-width="0.35" text-anchor="end" transform="rotate(-45 1233.6 529)">Metf</text>
<text x="1376.5" y="526" font-size="32" stroke="#000" stroke-width="0.35" text-anchor="end" transform="rotate(-45 1376.5 526)">Hypo</text>
<text x="1501.5" y="116" font-size="57" font-weight="bold" textLength="23.5" lengthAdjust="spacingAndGlyphs">c</text>
<line x1="1625.1" y1="393.8" x2="2058" y2="393.8" stroke="#000" stroke-width="2"/>
<line x1="1630.6" y1="186.6" x2="1630.6" y2="393.8" stroke="#000" stroke-width="1.8"/>
<line x1="1625.1" y1="325.03" x2="1630.6" y2="325.03" stroke="#000" stroke-width="1.8"/>
<line x1="1625.1" y1="256.27" x2="1630.6" y2="256.27" stroke="#000" stroke-width="1.8"/>
<line x1="1625.1" y1="187.5" x2="1630.6" y2="187.5" stroke="#000" stroke-width="1.8"/>
<line x1="1702.6" y1="393.8" x2="1702.6" y2="399.3" stroke="#000" stroke-width="1.8"/>
<rect x="1641.75" y="257.13" width="20.5" height="136.67" fill="#fff" stroke="#000" stroke-width="1.9"/>
<line x1="1652" y1="247.13" x2="1652" y2="267.13" stroke="#000" stroke-width="1.9"/>
<line x1="1647.5" y1="247.13" x2="1656.5" y2="247.13" stroke="#000" stroke-width="1.9"/>
<line x1="1647.5" y1="267.13" x2="1656.5" y2="267.13" stroke="#000" stroke-width="1.9"/>
<circle cx="1647.5" cy="262.63" r="2.5" fill="#000"/>
<circle cx="1652.5" cy="247.63" r="2.5" fill="#000"/>
<circle cx="1656.5" cy="263.13" r="2.5" fill="#000"/>
<rect x="1674.75" y="333.3" width="20.5" height="60.5" fill="#fff" stroke="#000" stroke-width="1.9"/>
<line x1="1685" y1="331.3" x2="1685" y2="335.3" stroke="#000" stroke-width="1.9"/>
<line x1="1680.5" y1="331.3" x2="1689.5" y2="331.3" stroke="#000" stroke-width="1.9"/>
<line x1="1680.5" y1="335.3" x2="1689.5" y2="335.3" stroke="#000" stroke-width="1.9"/>
<circle cx="1680.5" cy="334.4" r="2.5" fill="#000"/>
<circle cx="1685.5" cy="331.4" r="2.5" fill="#000"/>
<circle cx="1689.5" cy="334.5" r="2.5" fill="#000"/>
<rect x="1707.65" y="308.59" width="20.5" height="85.21" fill="#fff" stroke="#000" stroke-width="1.9"/>
<line x1="1717.9" y1="303.59" x2="1717.9" y2="313.59" stroke="#000" stroke-width="1.9"/>
<line x1="1713.4" y1="303.59" x2="1722.4" y2="303.59" stroke="#000" stroke-width="1.9"/>
<line x1="1713.4" y1="313.59" x2="1722.4" y2="313.59" stroke="#000" stroke-width="1.9"/>
<circle cx="1713.4" cy="311.34" r="2.5" fill="#000"/>
<circle cx="1718.4" cy="303.84" r="2.5" fill="#000"/>
<circle cx="1722.4" cy="311.59" r="2.5" fill="#000"/>
<rect x="1740.55" y="296.09" width="20.5" height="97.71" fill="#fff" stroke="#000" stroke-width="1.9"/>
<line x1="1750.8" y1="294.09" x2="1750.8" y2="298.09" stroke="#000" stroke-width="1.9"/>
<line x1="1746.3" y1="294.09" x2="1755.3" y2="294.09" stroke="#000" stroke-width="1.9"/>
<line x1="1746.3" y1="298.09" x2="1755.3" y2="298.09" stroke="#000" stroke-width="1.9"/>
<circle cx="1746.3" cy="297.19" r="2.5" fill="#000"/>
<circle cx="1751.3" cy="294.19" r="2.5" fill="#000"/>
<circle cx="1755.3" cy="297.29" r="2.5" fill="#000"/>
<line x1="1771.8" y1="186.6" x2="1771.8" y2="393.8" stroke="#000" stroke-width="1.8"/>
<line x1="1766.3" y1="325.03" x2="1771.8" y2="325.03" stroke="#000" stroke-width="1.8"/>
<line x1="1766.3" y1="256.27" x2="1771.8" y2="256.27" stroke="#000" stroke-width="1.8"/>
<line x1="1766.3" y1="187.5" x2="1771.8" y2="187.5" stroke="#000" stroke-width="1.8"/>
<line x1="1843.8" y1="393.8" x2="1843.8" y2="399.3" stroke="#000" stroke-width="1.8"/>
<rect x="1783.45" y="257.13" width="20.5" height="136.67" fill="#fff" stroke="#000" stroke-width="1.9"/>
<line x1="1793.7" y1="242.63" x2="1793.7" y2="271.63" stroke="#000" stroke-width="1.9"/>
<line x1="1789.2" y1="242.63" x2="1798.2" y2="242.63" stroke="#000" stroke-width="1.9"/>
<line x1="1789.2" y1="271.63" x2="1798.2" y2="271.63" stroke="#000" stroke-width="1.9"/>
<circle cx="1789.2" cy="265.1" r="2.5" fill="#000"/>
<circle cx="1794.2" cy="243.35" r="2.5" fill="#000"/>
<circle cx="1798.2" cy="265.83" r="2.5" fill="#000"/>
<rect x="1816.45" y="343.48" width="20.5" height="50.32" fill="#fff" stroke="#000" stroke-width="1.9"/>
<line x1="1826.7" y1="339.98" x2="1826.7" y2="346.98" stroke="#000" stroke-width="1.9"/>
<line x1="1822.2" y1="339.98" x2="1831.2" y2="339.98" stroke="#000" stroke-width="1.9"/>
<line x1="1822.2" y1="346.98" x2="1831.2" y2="346.98" stroke="#000" stroke-width="1.9"/>
<circle cx="1822.2" cy="345.4" r="2.5" fill="#000"/>
<circle cx="1827.2" cy="340.15" r="2.5" fill="#000"/>
<circle cx="1831.2" cy="345.58" r="2.5" fill="#000"/>
<rect x="1849.35" y="315.28" width="20.5" height="78.52" fill="#fff" stroke="#000" stroke-width="1.9"/>
<line x1="1859.6" y1="310.78" x2="1859.6" y2="319.78" stroke="#000" stroke-width="1.9"/>
<line x1="1855.1" y1="310.78" x2="1864.1" y2="310.78" stroke="#000" stroke-width="1.9"/>
<line x1="1855.1" y1="319.78" x2="1864.1" y2="319.78" stroke="#000" stroke-width="1.9"/>
<circle cx="1855.1" cy="317.75" r="2.5" fill="#000"/>
<circle cx="1860.1" cy="311" r="2.5" fill="#000"/>
<circle cx="1864.1" cy="317.98" r="2.5" fill="#000"/>
<rect x="1882.25" y="319.64" width="20.5" height="74.16" fill="#fff" stroke="#000" stroke-width="1.9"/>
<line x1="1892.5" y1="318.14" x2="1892.5" y2="321.14" stroke="#000" stroke-width="1.9"/>
<line x1="1888" y1="318.14" x2="1897" y2="318.14" stroke="#000" stroke-width="1.9"/>
<line x1="1888" y1="321.14" x2="1897" y2="321.14" stroke="#000" stroke-width="1.9"/>
<circle cx="1888" cy="320.46" r="2.5" fill="#000"/>
<circle cx="1893" cy="318.21" r="2.5" fill="#000"/>
<circle cx="1897" cy="320.54" r="2.5" fill="#000"/>
<line x1="1913.8" y1="186.6" x2="1913.8" y2="393.8" stroke="#000" stroke-width="1.8"/>
<line x1="1908.3" y1="325.03" x2="1913.8" y2="325.03" stroke="#000" stroke-width="1.8"/>
<line x1="1908.3" y1="256.27" x2="1913.8" y2="256.27" stroke="#000" stroke-width="1.8"/>
<line x1="1908.3" y1="187.5" x2="1913.8" y2="187.5" stroke="#000" stroke-width="1.8"/>
<line x1="1985.8" y1="393.8" x2="1985.8" y2="399.3" stroke="#000" stroke-width="1.8"/>
<rect x="1925.65" y="257.71" width="20.5" height="136.09" fill="#fff" stroke="#000" stroke-width="1.9"/>
<line x1="1935.9" y1="251.21" x2="1935.9" y2="264.21" stroke="#000" stroke-width="1.9"/>
<line x1="1931.4" y1="251.21" x2="1940.4" y2="251.21" stroke="#000" stroke-width="1.9"/>
<line x1="1931.4" y1="264.21" x2="1940.4" y2="264.21" stroke="#000" stroke-width="1.9"/>
<circle cx="1931.4" cy="261.28" r="2.5" fill="#000"/>
<circle cx="1936.4" cy="251.53" r="2.5" fill="#000"/>
<circle cx="1940.4" cy="261.61" r="2.5" fill="#000"/>
<rect x="1958.65" y="349.88" width="20.5" height="43.92" fill="#fff" stroke="#000" stroke-width="1.9"/>
<line x1="1968.9" y1="345.38" x2="1968.9" y2="354.38" stroke="#000" stroke-width="1.9"/>
<line x1="1964.4" y1="345.38" x2="1973.4" y2="345.38" stroke="#000" stroke-width="1.9"/>
<line x1="1964.4" y1="354.38" x2="1973.4" y2="354.38" stroke="#000" stroke-width="1.9"/>
<circle cx="1964.4" cy="352.35" r="2.5" fill="#000"/>
<circle cx="1969.4" cy="345.6" r="2.5" fill="#000"/>
<circle cx="1973.4" cy="352.58" r="2.5" fill="#000"/>
<rect x="1991.55" y="294.92" width="20.5" height="98.88" fill="#fff" stroke="#000" stroke-width="1.9"/>
<line x1="2001.8" y1="286.92" x2="2001.8" y2="302.92" stroke="#000" stroke-width="1.9"/>
<line x1="1997.3" y1="286.92" x2="2006.3" y2="286.92" stroke="#000" stroke-width="1.9"/>
<line x1="1997.3" y1="302.92" x2="2006.3" y2="302.92" stroke="#000" stroke-width="1.9"/>
<circle cx="1997.3" cy="299.32" r="2.5" fill="#000"/>
<circle cx="2002.3" cy="287.32" r="2.5" fill="#000"/>
<circle cx="2006.3" cy="299.72" r="2.5" fill="#000"/>
<rect x="2024.45" y="280.1" width="20.5" height="113.7" fill="#fff" stroke="#000" stroke-width="1.9"/>
<line x1="2034.7" y1="277.8" x2="2034.7" y2="282.4" stroke="#000" stroke-width="1.9"/>
<line x1="2030.2" y1="277.8" x2="2039.2" y2="277.8" stroke="#000" stroke-width="1.9"/>
<line x1="2030.2" y1="282.4" x2="2039.2" y2="282.4" stroke="#000" stroke-width="1.9"/>
<circle cx="2030.2" cy="281.36" r="2.5" fill="#000"/>
<circle cx="2035.2" cy="277.91" r="2.5" fill="#000"/>
<circle cx="2039.2" cy="281.48" r="2.5" fill="#000"/>
<text x="1613.8" y="399.5" font-size="32.6" stroke="#000" stroke-width="0.35" text-anchor="end">0</text>
<text x="1616.2" y="334.8" font-size="32.6" stroke="#000" stroke-width="0.35" text-anchor="end">0.5</text>
<text x="1616.2" y="270.8" font-size="32.6" stroke="#000" stroke-width="0.35" text-anchor="end">1.0</text>
<text x="1616.2" y="196.6" font-size="32.6" stroke="#000" stroke-width="0.35" text-anchor="end">1.5</text>
<text x="1552" y="281.5" font-size="33" stroke="#000" stroke-width="0.35" text-anchor="middle" transform="rotate(-90 1552 281.5)" textLength="222" lengthAdjust="spacingAndGlyphs">ATP/AMP Ratio</text>
<text x="1645.73" y="158.85" font-size="24.5" stroke="#000" stroke-width="0.12" textLength="110.5" lengthAdjust="spacingAndGlyphs"><tspan font-style="italic">p</tspan> &lt; 0.0001</text>
<line x1="1684.4" y1="166.7" x2="1737.31" y2="166.7" stroke="#000" stroke-width="2.4"/>
<text x="1645.73" y="192.29" font-size="24.5" stroke="#000" stroke-width="0.12" textLength="108.5" lengthAdjust="spacingAndGlyphs"><tspan font-style="italic">p</tspan> = 0.0008</text>
<line x1="1684.98" y1="200.43" x2="1708.24" y2="200.43" stroke="#000" stroke-width="2.4"/>
<text x="1645.73" y="228.63" font-size="24.5" stroke="#000" stroke-width="0.12" textLength="108.5" lengthAdjust="spacingAndGlyphs"><tspan font-style="italic">p</tspan> = 0.0001</text>
<line x1="1655.32" y1="236.78" x2="1679.16" y2="236.78" stroke="#000" stroke-width="2.4"/>
<text x="1788.77" y="148.68" font-size="24.5" stroke="#000" stroke-width="0.12" textLength="110.5" lengthAdjust="spacingAndGlyphs"><tspan font-style="italic">p</tspan> &lt; 0.0001</text>
<line x1="1828.32" y1="158.27" x2="1880.65" y2="158.27" stroke="#000" stroke-width="2.4"/>
<text x="1788.77" y="183.57" font-size="24.5" stroke="#000" stroke-width="0.12" textLength="108.5" lengthAdjust="spacingAndGlyphs"><tspan font-style="italic">p</tspan> = 0.0003</text>
<line x1="1828.9" y1="192.29" x2="1852.16" y2="192.29" stroke="#000" stroke-width="2.4"/>
<text x="1788.77" y="220.49" font-size="24.5" stroke="#000" stroke-width="0.12" textLength="108.5" lengthAdjust="spacingAndGlyphs"><tspan font-style="italic">p</tspan> = 0.0006</text>
<line x1="1799.24" y1="228.63" x2="1823.08" y2="228.63" stroke="#000" stroke-width="2.4"/>
<text x="1931.53" y="161.76" font-size="24.5" stroke="#000" stroke-width="0.12" textLength="110.5" lengthAdjust="spacingAndGlyphs"><tspan font-style="italic">p</tspan> &lt; 0.0001</text>
<line x1="1970.78" y1="169.61" x2="2023.12" y2="169.61" stroke="#000" stroke-width="2.4"/>
<text x="1931.53" y="195.78" font-size="24.5" stroke="#000" stroke-width="0.12" textLength="108.5" lengthAdjust="spacingAndGlyphs"><tspan font-style="italic">p</tspan> = 0.0004</text>
<line x1="1971.36" y1="203.34" x2="1994.04" y2="203.34" stroke="#000" stroke-width="2.4"/>
<text x="1931.53" y="233" font-size="24.5" stroke="#000" stroke-width="0.12" textLength="110.5" lengthAdjust="spacingAndGlyphs"><tspan font-style="italic">p</tspan> &lt; 0.0001</text>
<line x1="1941.42" y1="240.26" x2="1964.68" y2="240.26" stroke="#000" stroke-width="2.4"/>
<text x="1629.7" y="436.7" font-size="33" stroke="#000" stroke-width="0.35" text-anchor="end">Dox</text>
<text x="1631.2" y="483.2" font-size="33" stroke="#000" stroke-width="0.35" text-anchor="end">α KB</text>
<text x="1652" y="434.6" font-size="38" text-anchor="middle" stroke="#000" stroke-width="0.3">-</text>
<text x="1685" y="434.6" font-size="38" text-anchor="middle" stroke="#000" stroke-width="0.3">-</text>
<text x="1717.9" y="434.6" font-size="38" text-anchor="middle" stroke="#000" stroke-width="0.3">-</text>
<text x="1750.8" y="436.8" font-size="33" text-anchor="middle">+</text>
<text x="1652" y="476" font-size="38" text-anchor="middle" stroke="#000" stroke-width="0.3">-</text>
<text x="1685" y="476" font-size="38" text-anchor="middle" stroke="#000" stroke-width="0.3">-</text>
<text x="1717.9" y="478.2" font-size="33" text-anchor="middle">+</text>
<text x="1750.8" y="476" font-size="38" text-anchor="middle" stroke="#000" stroke-width="0.3">-</text>
<text x="1652" y="517.6" font-size="38" text-anchor="middle" stroke="#000" stroke-width="0.3">-</text>
<text x="1685" y="519.8" font-size="33" text-anchor="middle">+</text>
<text x="1717.9" y="519.8" font-size="33" text-anchor="middle">+</text>
<text x="1750.8" y="519.8" font-size="33" text-anchor="middle">+</text>
<line x1="1640.1" y1="489.3" x2="1762.1" y2="489.3" stroke="#000" stroke-width="2.2" stroke-dasharray="2.2 2.6"/>
<line x1="1644.1" y1="490.8" x2="1604.1" y2="534.3" stroke="#000" stroke-width="2.2" stroke-dasharray="2.2 2.6"/>
<text x="1793.7" y="434.6" font-size="38" text-anchor="middle" stroke="#000" stroke-width="0.3">-</text>
<text x="1826.7" y="434.6" font-size="38" text-anchor="middle" stroke="#000" stroke-width="0.3">-</text>
<text x="1859.6" y="434.6" font-size="38" text-anchor="middle" stroke="#000" stroke-width="0.3">-</text>
<text x="1892.5" y="436.8" font-size="33" text-anchor="middle">+</text>
<text x="1793.7" y="476" font-size="38" text-anchor="middle" stroke="#000" stroke-width="0.3">-</text>
<text x="1826.7" y="476" font-size="38" text-anchor="middle" stroke="#000" stroke-width="0.3">-</text>
<text x="1859.6" y="478.2" font-size="33" text-anchor="middle">+</text>
<text x="1892.5" y="476" font-size="38" text-anchor="middle" stroke="#000" stroke-width="0.3">-</text>
<text x="1793.7" y="517.6" font-size="38" text-anchor="middle" stroke="#000" stroke-width="0.3">-</text>
<text x="1826.7" y="519.8" font-size="33" text-anchor="middle">+</text>
<text x="1859.6" y="519.8" font-size="33" text-anchor="middle">+</text>
<text x="1892.5" y="519.8" font-size="33" text-anchor="middle">+</text>
<line x1="1781.3" y1="489.3" x2="1903.3" y2="489.3" stroke="#000" stroke-width="2.2" stroke-dasharray="2.2 2.6"/>
<line x1="1785.3" y1="490.8" x2="1745.3" y2="534.3" stroke="#000" stroke-width="2.2" stroke-dasharray="2.2 2.6"/>
<text x="1935.9" y="434.6" font-size="38" text-anchor="middle" stroke="#000" stroke-width="0.3">-</text>
<text x="1968.9" y="434.6" font-size="38" text-anchor="middle" stroke="#000" stroke-width="0.3">-</text>
<text x="2001.8" y="434.6" font-size="38" text-anchor="middle" stroke="#000" stroke-width="0.3">-</text>
<text x="2034.7" y="436.8" font-size="33" text-anchor="middle">+</text>
<text x="1935.9" y="476" font-size="38" text-anchor="middle" stroke="#000" stroke-width="0.3">-</text>
<text x="1968.9" y="476" font-size="38" text-anchor="middle" stroke="#000" stroke-width="0.3">-</text>
<text x="2001.8" y="478.2" font-size="33" text-anchor="middle">+</text>
<text x="2034.7" y="476" font-size="38" text-anchor="middle" stroke="#000" stroke-width="0.3">-</text>
<text x="1935.9" y="517.6" font-size="38" text-anchor="middle" stroke="#000" stroke-width="0.3">-</text>
<text x="1968.9" y="519.8" font-size="33" text-anchor="middle">+</text>
<text x="2001.8" y="519.8" font-size="33" text-anchor="middle">+</text>
<text x="2034.7" y="519.8" font-size="33" text-anchor="middle">+</text>
<line x1="1923.3" y1="489.3" x2="2045.3" y2="489.3" stroke="#000" stroke-width="2.2" stroke-dasharray="2.2 2.6"/>
<line x1="1927.3" y1="490.8" x2="1887.3" y2="534.3" stroke="#000" stroke-width="2.2" stroke-dasharray="2.2 2.6"/>
<text x="1659.5" y="525.5" font-size="32" stroke="#000" stroke-width="0.35" text-anchor="end" transform="rotate(-45 1659.5 525.5)">Ant A</text>
<text x="1800" y="530.5" font-size="32" stroke="#000" stroke-width="0.35" text-anchor="end" transform="rotate(-45 1800 530.5)">Metf</text>
<text x="1944" y="527.5" font-size="32" stroke="#000" stroke-width="0.35" text-anchor="end" transform="rotate(-45 1944 527.5)">Hypo</text>
<text x="946" y="799" font-size="57" font-weight="bold" textLength="24.5" lengthAdjust="spacingAndGlyphs">e</text>
<line x1="1058.1" y1="1078.4" x2="1490.4" y2="1078.4" stroke="#000" stroke-width="2"/>
<line x1="1063.6" y1="870.9" x2="1063.6" y2="1078.4" stroke="#000" stroke-width="1.8"/>
<line x1="1058.1" y1="1009.53" x2="1063.6" y2="1009.53" stroke="#000" stroke-width="1.8"/>
<line x1="1058.1" y1="940.67" x2="1063.6" y2="940.67" stroke="#000" stroke-width="1.8"/>
<line x1="1058.1" y1="871.8" x2="1063.6" y2="871.8" stroke="#000" stroke-width="1.8"/>
<line x1="1135.6" y1="1078.4" x2="1135.6" y2="1083.9" stroke="#000" stroke-width="1.8"/>
<rect x="1075.15" y="941.31" width="20.5" height="137.09" fill="#fff" stroke="#000" stroke-width="1.9"/>
<line x1="1085.4" y1="940.31" x2="1085.4" y2="942.31" stroke="#000" stroke-width="1.9"/>
<line x1="1080.9" y1="940.31" x2="1089.9" y2="940.31" stroke="#000" stroke-width="1.9"/>
<line x1="1080.9" y1="942.31" x2="1089.9" y2="942.31" stroke="#000" stroke-width="1.9"/>
<circle cx="1080.9" cy="941.86" r="2.5" fill="#000"/>
<circle cx="1085.9" cy="940.36" r="2.5" fill="#000"/>
<circle cx="1089.9" cy="941.91" r="2.5" fill="#000"/>
<rect x="1108.15" y="1014.83" width="20.5" height="63.57" fill="#fff" stroke="#000" stroke-width="1.9"/>
<line x1="1118.4" y1="1011.83" x2="1118.4" y2="1017.83" stroke="#000" stroke-width="1.9"/>
<line x1="1113.9" y1="1011.83" x2="1122.9" y2="1011.83" stroke="#000" stroke-width="1.9"/>
<line x1="1113.9" y1="1017.83" x2="1122.9" y2="1017.83" stroke="#000" stroke-width="1.9"/>
<circle cx="1113.9" cy="1016.48" r="2.5" fill="#000"/>
<circle cx="1118.9" cy="1011.98" r="2.5" fill="#000"/>
<circle cx="1122.9" cy="1016.63" r="2.5" fill="#000"/>
<rect x="1141.05" y="960.27" width="20.5" height="118.13" fill="#fff" stroke="#000" stroke-width="1.9"/>
<line x1="1151.3" y1="959.27" x2="1151.3" y2="961.27" stroke="#000" stroke-width="1.9"/>
<line x1="1146.8" y1="959.27" x2="1155.8" y2="959.27" stroke="#000" stroke-width="1.9"/>
<line x1="1146.8" y1="961.27" x2="1155.8" y2="961.27" stroke="#000" stroke-width="1.9"/>
<circle cx="1146.8" cy="960.82" r="2.5" fill="#000"/>
<circle cx="1151.8" cy="959.32" r="2.5" fill="#000"/>
<circle cx="1155.8" cy="960.87" r="2.5" fill="#000"/>
<rect x="1173.95" y="952.39" width="20.5" height="126.01" fill="#fff" stroke="#000" stroke-width="1.9"/>
<line x1="1184.2" y1="944.39" x2="1184.2" y2="960.39" stroke="#000" stroke-width="1.9"/>
<line x1="1179.7" y1="944.39" x2="1188.7" y2="944.39" stroke="#000" stroke-width="1.9"/>
<line x1="1179.7" y1="960.39" x2="1188.7" y2="960.39" stroke="#000" stroke-width="1.9"/>
<circle cx="1179.7" cy="956.79" r="2.5" fill="#000"/>
<circle cx="1184.7" cy="944.79" r="2.5" fill="#000"/>
<circle cx="1188.7" cy="957.19" r="2.5" fill="#000"/>
<line x1="1205.7" y1="870.9" x2="1205.7" y2="1078.4" stroke="#000" stroke-width="1.8"/>
<line x1="1200.2" y1="1009.53" x2="1205.7" y2="1009.53" stroke="#000" stroke-width="1.8"/>
<line x1="1200.2" y1="940.67" x2="1205.7" y2="940.67" stroke="#000" stroke-width="1.8"/>
<line x1="1200.2" y1="871.8" x2="1205.7" y2="871.8" stroke="#000" stroke-width="1.8"/>
<line x1="1277.7" y1="1078.4" x2="1277.7" y2="1083.9" stroke="#000" stroke-width="1.8"/>
<rect x="1216.95" y="941.31" width="20.5" height="137.09" fill="#fff" stroke="#000" stroke-width="1.9"/>
<line x1="1227.2" y1="933.31" x2="1227.2" y2="949.31" stroke="#000" stroke-width="1.9"/>
<line x1="1222.7" y1="933.31" x2="1231.7" y2="933.31" stroke="#000" stroke-width="1.9"/>
<line x1="1222.7" y1="949.31" x2="1231.7" y2="949.31" stroke="#000" stroke-width="1.9"/>
<circle cx="1222.7" cy="945.71" r="2.5" fill="#000"/>
<circle cx="1227.7" cy="933.71" r="2.5" fill="#000"/>
<circle cx="1231.7" cy="946.11" r="2.5" fill="#000"/>
<rect x="1249.95" y="1019.2" width="20.5" height="59.2" fill="#fff" stroke="#000" stroke-width="1.9"/>
<line x1="1260.2" y1="1018.2" x2="1260.2" y2="1020.2" stroke="#000" stroke-width="1.9"/>
<line x1="1255.7" y1="1018.2" x2="1264.7" y2="1018.2" stroke="#000" stroke-width="1.9"/>
<line x1="1255.7" y1="1020.2" x2="1264.7" y2="1020.2" stroke="#000" stroke-width="1.9"/>
<circle cx="1255.7" cy="1019.75" r="2.5" fill="#000"/>
<circle cx="1260.7" cy="1018.25" r="2.5" fill="#000"/>
<circle cx="1264.7" cy="1019.8" r="2.5" fill="#000"/>
<rect x="1282.85" y="987.4" width="20.5" height="91" fill="#fff" stroke="#000" stroke-width="1.9"/>
<line x1="1293.1" y1="986.4" x2="1293.1" y2="988.4" stroke="#000" stroke-width="1.9"/>
<line x1="1288.6" y1="986.4" x2="1297.6" y2="986.4" stroke="#000" stroke-width="1.9"/>
<line x1="1288.6" y1="988.4" x2="1297.6" y2="988.4" stroke="#000" stroke-width="1.9"/>
<circle cx="1288.6" cy="987.95" r="2.5" fill="#000"/>
<circle cx="1293.6" cy="986.45" r="2.5" fill="#000"/>
<circle cx="1297.6" cy="988" r="2.5" fill="#000"/>
<rect x="1315.75" y="973.98" width="20.5" height="104.42" fill="#fff" stroke="#000" stroke-width="1.9"/>
<line x1="1326" y1="970.48" x2="1326" y2="977.48" stroke="#000" stroke-width="1.9"/>
<line x1="1321.5" y1="970.48" x2="1330.5" y2="970.48" stroke="#000" stroke-width="1.9"/>
<line x1="1321.5" y1="977.48" x2="1330.5" y2="977.48" stroke="#000" stroke-width="1.9"/>
<circle cx="1321.5" cy="975.91" r="2.5" fill="#000"/>
<circle cx="1326.5" cy="970.66" r="2.5" fill="#000"/>
<circle cx="1330.5" cy="976.08" r="2.5" fill="#000"/>
<line x1="1348.2" y1="870.9" x2="1348.2" y2="1078.4" stroke="#000" stroke-width="1.8"/>
<line x1="1342.7" y1="1009.53" x2="1348.2" y2="1009.53" stroke="#000" stroke-width="1.8"/>
<line x1="1342.7" y1="940.67" x2="1348.2" y2="940.67" stroke="#000" stroke-width="1.8"/>
<line x1="1342.7" y1="871.8" x2="1348.2" y2="871.8" stroke="#000" stroke-width="1.8"/>
<line x1="1420.2" y1="1078.4" x2="1420.2" y2="1083.9" stroke="#000" stroke-width="1.8"/>
<rect x="1359.35" y="941.31" width="20.5" height="137.09" fill="#fff" stroke="#000" stroke-width="1.9"/>
<line x1="1369.6" y1="927.31" x2="1369.6" y2="955.31" stroke="#000" stroke-width="1.9"/>
<line x1="1365.1" y1="927.31" x2="1374.1" y2="927.31" stroke="#000" stroke-width="1.9"/>
<line x1="1365.1" y1="955.31" x2="1374.1" y2="955.31" stroke="#000" stroke-width="1.9"/>
<circle cx="1365.1" cy="949.01" r="2.5" fill="#000"/>
<circle cx="1370.1" cy="928.01" r="2.5" fill="#000"/>
<circle cx="1374.1" cy="949.71" r="2.5" fill="#000"/>
<rect x="1392.35" y="1041.96" width="20.5" height="36.44" fill="#fff" stroke="#000" stroke-width="1.9"/>
<line x1="1402.6" y1="1037.96" x2="1402.6" y2="1045.96" stroke="#000" stroke-width="1.9"/>
<line x1="1398.1" y1="1037.96" x2="1407.1" y2="1037.96" stroke="#000" stroke-width="1.9"/>
<line x1="1398.1" y1="1045.96" x2="1407.1" y2="1045.96" stroke="#000" stroke-width="1.9"/>
<circle cx="1398.1" cy="1044.16" r="2.5" fill="#000"/>
<circle cx="1403.1" cy="1038.16" r="2.5" fill="#000"/>
<circle cx="1407.1" cy="1044.36" r="2.5" fill="#000"/>
<rect x="1425.25" y="985.65" width="20.5" height="92.75" fill="#fff" stroke="#000" stroke-width="1.9"/>
<line x1="1435.5" y1="978.65" x2="1435.5" y2="992.65" stroke="#000" stroke-width="1.9"/>
<line x1="1431" y1="978.65" x2="1440" y2="978.65" stroke="#000" stroke-width="1.9"/>
<line x1="1431" y1="992.65" x2="1440" y2="992.65" stroke="#000" stroke-width="1.9"/>
<circle cx="1431" cy="989.5" r="2.5" fill="#000"/>
<circle cx="1436" cy="979" r="2.5" fill="#000"/>
<circle cx="1440" cy="989.85" r="2.5" fill="#000"/>
<rect x="1458.15" y="948.6" width="20.5" height="129.8" fill="#fff" stroke="#000" stroke-width="1.9"/>
<line x1="1468.4" y1="929.6" x2="1468.4" y2="967.6" stroke="#000" stroke-width="1.9"/>
<line x1="1463.9" y1="929.6" x2="1472.9" y2="929.6" stroke="#000" stroke-width="1.9"/>
<line x1="1463.9" y1="967.6" x2="1472.9" y2="967.6" stroke="#000" stroke-width="1.9"/>
<circle cx="1463.9" cy="959.05" r="2.5" fill="#000"/>
<circle cx="1468.9" cy="930.55" r="2.5" fill="#000"/>
<circle cx="1472.9" cy="960" r="2.5" fill="#000"/>
<text x="1047" y="1084.7" font-size="32.6" stroke="#000" stroke-width="0.35" text-anchor="end">0</text>
<text x="1049.4" y="1019.6" font-size="32.6" stroke="#000" stroke-width="0.35" text-anchor="end">0.5</text>
<text x="1049.4" y="955.8" font-size="32.6" stroke="#000" stroke-width="0.35" text-anchor="end">1.0</text>
<text x="1049.4" y="881.5" font-size="32.6" stroke="#000" stroke-width="0.35" text-anchor="end">1.5</text>
<text x="985" y="968" font-size="33" stroke="#000" stroke-width="0.35" text-anchor="middle" transform="rotate(-90 985 968)" textLength="222" lengthAdjust="spacingAndGlyphs">ATP/AMP Ratio</text>
<text x="1083.38" y="852.32" font-size="24.5" stroke="#000" stroke-width="0.12" textLength="108.5" lengthAdjust="spacingAndGlyphs"><tspan font-style="italic">p</tspan> = 0.0002</text>
<line x1="1122.18" y1="859.62" x2="1174.7" y2="859.62" stroke="#000" stroke-width="2.4"/>
<text x="1083.38" y="885.87" font-size="24.5" stroke="#000" stroke-width="0.12" textLength="110.5" lengthAdjust="spacingAndGlyphs"><tspan font-style="italic">p</tspan> &lt; 0.0001</text>
<line x1="1122.77" y1="893.75" x2="1145.52" y2="893.75" stroke="#000" stroke-width="2.4"/>
<text x="1083.38" y="923.22" font-size="24.5" stroke="#000" stroke-width="0.12" textLength="110.5" lengthAdjust="spacingAndGlyphs"><tspan font-style="italic">p</tspan> &lt; 0.0001</text>
<line x1="1093.59" y1="931.1" x2="1116.35" y2="931.1" stroke="#000" stroke-width="2.4"/>
<text x="1224.88" y="848.53" font-size="24.5" stroke="#000" stroke-width="0.12" textLength="110.5" lengthAdjust="spacingAndGlyphs"><tspan font-style="italic">p</tspan> &lt; 0.0001</text>
<line x1="1263.68" y1="856.12" x2="1316.2" y2="856.12" stroke="#000" stroke-width="2.4"/>
<text x="1224.88" y="882.08" font-size="24.5" stroke="#000" stroke-width="0.12" textLength="110.5" lengthAdjust="spacingAndGlyphs"><tspan font-style="italic">p</tspan> &lt; 0.0001</text>
<line x1="1264.26" y1="889.67" x2="1287.02" y2="889.67" stroke="#000" stroke-width="2.4"/>
<text x="1224.88" y="918.55" font-size="24.5" stroke="#000" stroke-width="0.12" textLength="110.5" lengthAdjust="spacingAndGlyphs"><tspan font-style="italic">p</tspan> &lt; 0.0001</text>
<line x1="1234.51" y1="926.14" x2="1257.55" y2="926.14" stroke="#000" stroke-width="2.4"/>
<text x="1364.33" y="842.11" font-size="24.5" stroke="#000" stroke-width="0.12" textLength="108.5" lengthAdjust="spacingAndGlyphs"><tspan font-style="italic">p</tspan> = 0.0010</text>
<line x1="1403.43" y1="849.99" x2="1456.24" y2="849.99" stroke="#000" stroke-width="2.4"/>
<text x="1364.33" y="876.25" font-size="24.5" stroke="#000" stroke-width="0.12" textLength="108.5" lengthAdjust="spacingAndGlyphs"><tspan font-style="italic">p</tspan> = 0.0003</text>
<line x1="1404.3" y1="883.83" x2="1427.06" y2="883.83" stroke="#000" stroke-width="2.4"/>
<text x="1364.33" y="913.59" font-size="24.5" stroke="#000" stroke-width="0.12" textLength="108.5" lengthAdjust="spacingAndGlyphs"><tspan font-style="italic">p</tspan> = 0.0003</text>
<line x1="1375.13" y1="920.88" x2="1397.89" y2="920.88" stroke="#000" stroke-width="2.4"/>
<text x="1061.5" y="1121.3" font-size="33" stroke="#000" stroke-width="0.35" text-anchor="end" textLength="68.5" lengthAdjust="spacingAndGlyphs">Rapa</text>
<text x="1063" y="1160.7" font-size="33" stroke="#000" stroke-width="0.35" text-anchor="end">Torin-1</text>
<text x="1085.4" y="1119.2" font-size="38" text-anchor="middle" stroke="#000" stroke-width="0.3">-</text>
<text x="1118.4" y="1119.2" font-size="38" text-anchor="middle" stroke="#000" stroke-width="0.3">-</text>
<text x="1151.3" y="1119.2" font-size="38" text-anchor="middle" stroke="#000" stroke-width="0.3">-</text>
<text x="1184.2" y="1121.4" font-size="33" text-anchor="middle">+</text>
<text x="1085.4" y="1161.5" font-size="38" text-anchor="middle" stroke="#000" stroke-width="0.3">-</text>
<text x="1118.4" y="1161.5" font-size="38" text-anchor="middle" stroke="#000" stroke-width="0.3">-</text>
<text x="1151.3" y="1163.7" font-size="33" text-anchor="middle">+</text>
<text x="1184.2" y="1161.5" font-size="38" text-anchor="middle" stroke="#000" stroke-width="0.3">-</text>
<text x="1085.4" y="1203.8" font-size="38" text-anchor="middle" stroke="#000" stroke-width="0.3">-</text>
<text x="1118.4" y="1206" font-size="33" text-anchor="middle">+</text>
<text x="1151.3" y="1206" font-size="33" text-anchor="middle">+</text>
<text x="1184.2" y="1206" font-size="33" text-anchor="middle">+</text>
<line x1="1073.1" y1="1174.4" x2="1195.1" y2="1174.4" stroke="#000" stroke-width="2.2" stroke-dasharray="2.2 2.6"/>
<line x1="1077.1" y1="1175.9" x2="1037.1" y2="1219.4" stroke="#000" stroke-width="2.2" stroke-dasharray="2.2 2.6"/>
<text x="1227.2" y="1119.2" font-size="38" text-anchor="middle" stroke="#000" stroke-width="0.3">-</text>
<text x="1260.2" y="1119.2" font-size="38" text-anchor="middle" stroke="#000" stroke-width="0.3">-</text>
<text x="1293.1" y="1119.2" font-size="38" text-anchor="middle" stroke="#000" stroke-width="0.3">-</text>
<text x="1326" y="1121.4" font-size="33" text-anchor="middle">+</text>
<text x="1227.2" y="1161.5" font-size="38" text-anchor="middle" stroke="#000" stroke-width="0.3">-</text>
<text x="1260.2" y="1161.5" font-size="38" text-anchor="middle" stroke="#000" stroke-width="0.3">-</text>
<text x="1293.1" y="1163.7" font-size="33" text-anchor="middle">+</text>
<text x="1326" y="1161.5" font-size="38" text-anchor="middle" stroke="#000" stroke-width="0.3">-</text>
<text x="1227.2" y="1203.8" font-size="38" text-anchor="middle" stroke="#000" stroke-width="0.3">-</text>
<text x="1260.2" y="1206" font-size="33" text-anchor="middle">+</text>
<text x="1293.1" y="1206" font-size="33" text-anchor="middle">+</text>
<text x="1326" y="1206" font-size="33" text-anchor="middle">+</text>
<line x1="1215.2" y1="1174.4" x2="1337.2" y2="1174.4" stroke="#000" stroke-width="2.2" stroke-dasharray="2.2 2.6"/>
<line x1="1219.2" y1="1175.9" x2="1179.2" y2="1219.4" stroke="#000" stroke-width="2.2" stroke-dasharray="2.2 2.6"/>
<text x="1369.6" y="1119.2" font-size="38" text-anchor="middle" stroke="#000" stroke-width="0.3">-</text>
<text x="1402.6" y="1119.2" font-size="38" text-anchor="middle" stroke="#000" stroke-width="0.3">-</text>
<text x="1435.5" y="1119.2" font-size="38" text-anchor="middle" stroke="#000" stroke-width="0.3">-</text>
<text x="1468.4" y="1121.4" font-size="33" text-anchor="middle">+</text>
<text x="1369.6" y="1161.5" font-size="38" text-anchor="middle" stroke="#000" stroke-width="0.3">-</text>
<text x="1402.6" y="1161.5" font-size="38" text-anchor="middle" stroke="#000" stroke-width="0.3">-</text>
<text x="1435.5" y="1163.7" font-size="33" text-anchor="middle">+</text>
<text x="1468.4" y="1161.5" font-size="38" text-anchor="middle" stroke="#000" stroke-width="0.3">-</text>
<text x="1369.6" y="1203.8" font-size="38" text-anchor="middle" stroke="#000" stroke-width="0.3">-</text>
<text x="1402.6" y="1206" font-size="33" text-anchor="middle">+</text>
<text x="1435.5" y="1206" font-size="33" text-anchor="middle">+</text>
<text x="1468.4" y="1206" font-size="33" text-anchor="middle">+</text>
<line x1="1357.7" y1="1174.4" x2="1479.7" y2="1174.4" stroke="#000" stroke-width="2.2" stroke-dasharray="2.2 2.6"/>
<line x1="1361.7" y1="1175.9" x2="1321.7" y2="1219.4" stroke="#000" stroke-width="2.2" stroke-dasharray="2.2 2.6"/>
<text x="1092" y="1211" font-size="32" stroke="#000" stroke-width="0.35" text-anchor="end" transform="rotate(-45 1092 1211)">Ant A</text>
<text x="1233.6" y="1216.8" font-size="32" stroke="#000" stroke-width="0.35" text-anchor="end" transform="rotate(-45 1233.6 1216.8)">Metf</text>
<text x="1377" y="1212.5" font-size="32" stroke="#000" stroke-width="0.35" text-anchor="end" transform="rotate(-45 1377 1212.5)">Hypo</text>
<text x="1502" y="799" font-size="57" font-weight="bold" textLength="21" lengthAdjust="spacingAndGlyphs">f</text>
<line x1="1625.3" y1="1075.2" x2="2058" y2="1075.2" stroke="#000" stroke-width="2"/>
<line x1="1630.8" y1="867.6" x2="1630.8" y2="1075.2" stroke="#000" stroke-width="1.8"/>
<line x1="1625.3" y1="1006.3" x2="1630.8" y2="1006.3" stroke="#000" stroke-width="1.8"/>
<line x1="1625.3" y1="937.4" x2="1630.8" y2="937.4" stroke="#000" stroke-width="1.8"/>
<line x1="1625.3" y1="868.5" x2="1630.8" y2="868.5" stroke="#000" stroke-width="1.8"/>
<line x1="1702.8" y1="1075.2" x2="1702.8" y2="1080.7" stroke="#000" stroke-width="1.8"/>
<rect x="1641.95" y="998.77" width="20.5" height="76.43" fill="#fff" stroke="#000" stroke-width="1.9"/>
<line x1="1652.2" y1="994.77" x2="1652.2" y2="1002.77" stroke="#000" stroke-width="1.9"/>
<line x1="1647.7" y1="994.77" x2="1656.7" y2="994.77" stroke="#000" stroke-width="1.9"/>
<line x1="1647.7" y1="1002.77" x2="1656.7" y2="1002.77" stroke="#000" stroke-width="1.9"/>
<circle cx="1647.7" cy="1000.97" r="2.5" fill="#000"/>
<circle cx="1652.7" cy="994.97" r="2.5" fill="#000"/>
<circle cx="1656.7" cy="1001.17" r="2.5" fill="#000"/>
<rect x="1674.95" y="936.84" width="20.5" height="138.36" fill="#fff" stroke="#000" stroke-width="1.9"/>
<line x1="1685.2" y1="925.34" x2="1685.2" y2="948.34" stroke="#000" stroke-width="1.9"/>
<line x1="1680.7" y1="925.34" x2="1689.7" y2="925.34" stroke="#000" stroke-width="1.9"/>
<line x1="1680.7" y1="948.34" x2="1689.7" y2="948.34" stroke="#000" stroke-width="1.9"/>
<circle cx="1680.7" cy="943.16" r="2.5" fill="#000"/>
<circle cx="1685.7" cy="925.91" r="2.5" fill="#000"/>
<circle cx="1689.7" cy="943.74" r="2.5" fill="#000"/>
<rect x="1707.85" y="937.71" width="20.5" height="137.49" fill="#fff" stroke="#000" stroke-width="1.9"/>
<line x1="1718.1" y1="936.71" x2="1718.1" y2="938.71" stroke="#000" stroke-width="1.9"/>
<line x1="1713.6" y1="936.71" x2="1722.6" y2="936.71" stroke="#000" stroke-width="1.9"/>
<line x1="1713.6" y1="938.71" x2="1722.6" y2="938.71" stroke="#000" stroke-width="1.9"/>
<circle cx="1713.6" cy="938.26" r="2.5" fill="#000"/>
<circle cx="1718.6" cy="936.76" r="2.5" fill="#000"/>
<circle cx="1722.6" cy="938.31" r="2.5" fill="#000"/>
<rect x="1740.75" y="939.74" width="20.5" height="135.46" fill="#fff" stroke="#000" stroke-width="1.9"/>
<line x1="1751" y1="932.74" x2="1751" y2="946.74" stroke="#000" stroke-width="1.9"/>
<line x1="1746.5" y1="932.74" x2="1755.5" y2="932.74" stroke="#000" stroke-width="1.9"/>
<line x1="1746.5" y1="946.74" x2="1755.5" y2="946.74" stroke="#000" stroke-width="1.9"/>
<circle cx="1746.5" cy="943.59" r="2.5" fill="#000"/>
<circle cx="1751.5" cy="933.09" r="2.5" fill="#000"/>
<circle cx="1755.5" cy="943.94" r="2.5" fill="#000"/>
<line x1="1771.8" y1="867.6" x2="1771.8" y2="1075.2" stroke="#000" stroke-width="1.8"/>
<line x1="1766.3" y1="1006.3" x2="1771.8" y2="1006.3" stroke="#000" stroke-width="1.8"/>
<line x1="1766.3" y1="937.4" x2="1771.8" y2="937.4" stroke="#000" stroke-width="1.8"/>
<line x1="1766.3" y1="868.5" x2="1771.8" y2="868.5" stroke="#000" stroke-width="1.8"/>
<line x1="1843.8" y1="1075.2" x2="1843.8" y2="1080.7" stroke="#000" stroke-width="1.8"/>
<rect x="1783.45" y="1004.58" width="20.5" height="70.62" fill="#fff" stroke="#000" stroke-width="1.9"/>
<line x1="1793.7" y1="1003.08" x2="1793.7" y2="1006.08" stroke="#000" stroke-width="1.9"/>
<line x1="1789.2" y1="1003.08" x2="1798.2" y2="1003.08" stroke="#000" stroke-width="1.9"/>
<line x1="1789.2" y1="1006.08" x2="1798.2" y2="1006.08" stroke="#000" stroke-width="1.9"/>
<circle cx="1789.2" cy="1005.41" r="2.5" fill="#000"/>
<circle cx="1794.2" cy="1003.16" r="2.5" fill="#000"/>
<circle cx="1798.2" cy="1005.48" r="2.5" fill="#000"/>
<rect x="1816.45" y="930.44" width="20.5" height="144.76" fill="#fff" stroke="#000" stroke-width="1.9"/>
<line x1="1826.7" y1="921.44" x2="1826.7" y2="939.44" stroke="#000" stroke-width="1.9"/>
<line x1="1822.2" y1="921.44" x2="1831.2" y2="921.44" stroke="#000" stroke-width="1.9"/>
<line x1="1822.2" y1="939.44" x2="1831.2" y2="939.44" stroke="#000" stroke-width="1.9"/>
<circle cx="1822.2" cy="935.39" r="2.5" fill="#000"/>
<circle cx="1827.2" cy="921.89" r="2.5" fill="#000"/>
<circle cx="1831.2" cy="935.84" r="2.5" fill="#000"/>
<rect x="1849.35" y="920.85" width="20.5" height="154.35" fill="#fff" stroke="#000" stroke-width="1.9"/>
<line x1="1859.6" y1="901.85" x2="1859.6" y2="939.85" stroke="#000" stroke-width="1.9"/>
<line x1="1855.1" y1="901.85" x2="1864.1" y2="901.85" stroke="#000" stroke-width="1.9"/>
<line x1="1855.1" y1="939.85" x2="1864.1" y2="939.85" stroke="#000" stroke-width="1.9"/>
<circle cx="1855.1" cy="931.3" r="2.5" fill="#000"/>
<circle cx="1860.1" cy="902.8" r="2.5" fill="#000"/>
<circle cx="1864.1" cy="932.25" r="2.5" fill="#000"/>
<rect x="1882.25" y="933.35" width="20.5" height="141.85" fill="#fff" stroke="#000" stroke-width="1.9"/>
<line x1="1892.5" y1="904.35" x2="1892.5" y2="962.35" stroke="#000" stroke-width="1.9"/>
<line x1="1888" y1="904.35" x2="1897" y2="904.35" stroke="#000" stroke-width="1.9"/>
<line x1="1888" y1="962.35" x2="1897" y2="962.35" stroke="#000" stroke-width="1.9"/>
<circle cx="1888" cy="949.3" r="2.5" fill="#000"/>
<circle cx="1893" cy="905.8" r="2.5" fill="#000"/>
<circle cx="1897" cy="950.75" r="2.5" fill="#000"/>
<line x1="1913.8" y1="867.6" x2="1913.8" y2="1075.2" stroke="#000" stroke-width="1.8"/>
<line x1="1908.3" y1="1006.3" x2="1913.8" y2="1006.3" stroke="#000" stroke-width="1.8"/>
<line x1="1908.3" y1="937.4" x2="1913.8" y2="937.4" stroke="#000" stroke-width="1.8"/>
<line x1="1908.3" y1="868.5" x2="1913.8" y2="868.5" stroke="#000" stroke-width="1.8"/>
<line x1="1985.8" y1="1075.2" x2="1985.8" y2="1080.7" stroke="#000" stroke-width="1.8"/>
<rect x="1925.65" y="1000.22" width="20.5" height="74.98" fill="#fff" stroke="#000" stroke-width="1.9"/>
<line x1="1935.9" y1="992.22" x2="1935.9" y2="1008.22" stroke="#000" stroke-width="1.9"/>
<line x1="1931.4" y1="992.22" x2="1940.4" y2="992.22" stroke="#000" stroke-width="1.9"/>
<line x1="1931.4" y1="1008.22" x2="1940.4" y2="1008.22" stroke="#000" stroke-width="1.9"/>
<circle cx="1931.4" cy="1004.62" r="2.5" fill="#000"/>
<circle cx="1936.4" cy="992.62" r="2.5" fill="#000"/>
<circle cx="1940.4" cy="1005.02" r="2.5" fill="#000"/>
<rect x="1958.65" y="933.35" width="20.5" height="141.85" fill="#fff" stroke="#000" stroke-width="1.9"/>
<line x1="1968.9" y1="926.35" x2="1968.9" y2="940.35" stroke="#000" stroke-width="1.9"/>
<line x1="1964.4" y1="926.35" x2="1973.4" y2="926.35" stroke="#000" stroke-width="1.9"/>
<line x1="1964.4" y1="940.35" x2="1973.4" y2="940.35" stroke="#000" stroke-width="1.9"/>
<circle cx="1964.4" cy="937.2" r="2.5" fill="#000"/>
<circle cx="1969.4" cy="926.7" r="2.5" fill="#000"/>
<circle cx="1973.4" cy="937.55" r="2.5" fill="#000"/>
<rect x="1991.55" y="915.03" width="20.5" height="160.17" fill="#fff" stroke="#000" stroke-width="1.9"/>
<line x1="2001.8" y1="893.03" x2="2001.8" y2="937.03" stroke="#000" stroke-width="1.9"/>
<line x1="1997.3" y1="893.03" x2="2006.3" y2="893.03" stroke="#000" stroke-width="1.9"/>
<line x1="1997.3" y1="937.03" x2="2006.3" y2="937.03" stroke="#000" stroke-width="1.9"/>
<circle cx="1997.3" cy="927.13" r="2.5" fill="#000"/>
<circle cx="2002.3" cy="894.13" r="2.5" fill="#000"/>
<circle cx="2006.3" cy="928.23" r="2.5" fill="#000"/>
<rect x="2024.45" y="917.94" width="20.5" height="157.26" fill="#fff" stroke="#000" stroke-width="1.9"/>
<line x1="2034.7" y1="908.94" x2="2034.7" y2="926.94" stroke="#000" stroke-width="1.9"/>
<line x1="2030.2" y1="908.94" x2="2039.2" y2="908.94" stroke="#000" stroke-width="1.9"/>
<line x1="2030.2" y1="926.94" x2="2039.2" y2="926.94" stroke="#000" stroke-width="1.9"/>
<circle cx="2030.2" cy="922.89" r="2.5" fill="#000"/>
<circle cx="2035.2" cy="909.39" r="2.5" fill="#000"/>
<circle cx="2039.2" cy="923.34" r="2.5" fill="#000"/>
<text x="1614" y="1080.7" font-size="32.6" stroke="#000" stroke-width="0.35" text-anchor="end">0</text>
<text x="1616.4" y="1015.5" font-size="32.6" stroke="#000" stroke-width="0.35" text-anchor="end">0.5</text>
<text x="1616.4" y="952.1" font-size="32.6" stroke="#000" stroke-width="0.35" text-anchor="end">1.0</text>
<text x="1616.4" y="877.5" font-size="32.6" stroke="#000" stroke-width="0.35" text-anchor="end">1.5</text>
<text x="1552" y="962" font-size="33" stroke="#000" stroke-width="0.35" text-anchor="middle" transform="rotate(-90 1552 962)" textLength="268" lengthAdjust="spacingAndGlyphs">NADH/NAD<tspan font-size="22" dy="-11">+</tspan><tspan dy="11"> Ratio</tspan></text>
<text x="1650.09" y="833.04" font-size="24.5" stroke="#000" stroke-width="0.12" textLength="108.5" lengthAdjust="spacingAndGlyphs"><tspan font-style="italic">p</tspan> = 0.7302</text>
<line x1="1688.76" y1="841.18" x2="1741.09" y2="841.18" stroke="#000" stroke-width="2.4"/>
<text x="1650.09" y="867.06" font-size="24.5" stroke="#000" stroke-width="0.12" textLength="108.5" lengthAdjust="spacingAndGlyphs"><tspan font-style="italic">p</tspan> = 0.8537</text>
<line x1="1689.34" y1="875.2" x2="1712.6" y2="875.2" stroke="#000" stroke-width="2.4"/>
<text x="1650.09" y="903.69" font-size="24.5" stroke="#000" stroke-width="0.12" textLength="108.5" lengthAdjust="spacingAndGlyphs"><tspan font-style="italic">p</tspan> = 0.0010</text>
<line x1="1660.26" y1="912.12" x2="1682.94" y2="912.12" stroke="#000" stroke-width="2.4"/>
<text x="1792.55" y="815.01" font-size="24.5" stroke="#000" stroke-width="0.12" textLength="108.5" lengthAdjust="spacingAndGlyphs"><tspan font-style="italic">p</tspan> = 0.8684</text>
<line x1="1830.93" y1="822.86" x2="1883.27" y2="822.86" stroke="#000" stroke-width="2.4"/>
<text x="1792.55" y="848.16" font-size="24.5" stroke="#000" stroke-width="0.12" textLength="108.5" lengthAdjust="spacingAndGlyphs"><tspan font-style="italic">p</tspan> = 0.5010</text>
<line x1="1831.22" y1="856.88" x2="1854.19" y2="856.88" stroke="#000" stroke-width="2.4"/>
<text x="1792.55" y="884.79" font-size="24.5" stroke="#000" stroke-width="0.12" textLength="108.5" lengthAdjust="spacingAndGlyphs"><tspan font-style="italic">p</tspan> = 0.0002</text>
<line x1="1801.86" y1="893.22" x2="1824.54" y2="893.22" stroke="#000" stroke-width="2.4"/>
<text x="1931.53" y="808.91" font-size="24.5" stroke="#000" stroke-width="0.12" textLength="108.5" lengthAdjust="spacingAndGlyphs"><tspan font-style="italic">p</tspan> = 0.0641</text>
<line x1="1970.78" y1="817.05" x2="2023.12" y2="817.05" stroke="#000" stroke-width="2.4"/>
<text x="1931.53" y="842.34" font-size="24.5" stroke="#000" stroke-width="0.12" textLength="108.5" lengthAdjust="spacingAndGlyphs"><tspan font-style="italic">p</tspan> = 0.2296</text>
<line x1="1971.36" y1="850.48" x2="1994.04" y2="850.48" stroke="#000" stroke-width="2.4"/>
<text x="1931.53" y="879.56" font-size="24.5" stroke="#000" stroke-width="0.12" textLength="108.5" lengthAdjust="spacingAndGlyphs"><tspan font-style="italic">p</tspan> = 0.0003</text>
<line x1="1941.42" y1="887.41" x2="1964.68" y2="887.41" stroke="#000" stroke-width="2.4"/>
<text x="1628.3" y="1121" font-size="33" stroke="#000" stroke-width="0.35" text-anchor="end" textLength="68.5" lengthAdjust="spacingAndGlyphs">Rapa</text>
<text x="1629.7" y="1160.3" font-size="33" stroke="#000" stroke-width="0.35" text-anchor="end">Torin-1</text>
<text x="1652.2" y="1119.6" font-size="38" text-anchor="middle" stroke="#000" stroke-width="0.3">-</text>
<text x="1685.2" y="1119.6" font-size="38" text-anchor="middle" stroke="#000" stroke-width="0.3">-</text>
<text x="1718.1" y="1119.6" font-size="38" text-anchor="middle" stroke="#000" stroke-width="0.3">-</text>
<text x="1751" y="1121.8" font-size="33" text-anchor="middle">+</text>
<text x="1652.2" y="1161.2" font-size="38" text-anchor="middle" stroke="#000" stroke-width="0.3">-</text>
<text x="1685.2" y="1161.2" font-size="38" text-anchor="middle" stroke="#000" stroke-width="0.3">-</text>
<text x="1718.1" y="1163.4" font-size="33" text-anchor="middle">+</text>
<text x="1751" y="1161.2" font-size="38" text-anchor="middle" stroke="#000" stroke-width="0.3">-</text>
<text x="1652.2" y="1203.3" font-size="38" text-anchor="middle" stroke="#000" stroke-width="0.3">-</text>
<text x="1685.2" y="1205.5" font-size="33" text-anchor="middle">+</text>
<text x="1718.1" y="1205.5" font-size="33" text-anchor="middle">+</text>
<text x="1751" y="1205.5" font-size="33" text-anchor="middle">+</text>
<line x1="1640.3" y1="1174" x2="1762.3" y2="1174" stroke="#000" stroke-width="2.2" stroke-dasharray="2.2 2.6"/>
<line x1="1644.3" y1="1175.5" x2="1604.3" y2="1219" stroke="#000" stroke-width="2.2" stroke-dasharray="2.2 2.6"/>
<text x="1793.7" y="1119.6" font-size="38" text-anchor="middle" stroke="#000" stroke-width="0.3">-</text>
<text x="1826.7" y="1119.6" font-size="38" text-anchor="middle" stroke="#000" stroke-width="0.3">-</text>
<text x="1859.6" y="1119.6" font-size="38" text-anchor="middle" stroke="#000" stroke-width="0.3">-</text>
<text x="1892.5" y="1121.8" font-size="33" text-anchor="middle">+</text>
<text x="1793.7" y="1161.2" font-size="38" text-anchor="middle" stroke="#000" stroke-width="0.3">-</text>
<text x="1826.7" y="1161.2" font-size="38" text-anchor="middle" stroke="#000" stroke-width="0.3">-</text>
<text x="1859.6" y="1163.4" font-size="33" text-anchor="middle">+</text>
<text x="1892.5" y="1161.2" font-size="38" text-anchor="middle" stroke="#000" stroke-width="0.3">-</text>
<text x="1793.7" y="1203.3" font-size="38" text-anchor="middle" stroke="#000" stroke-width="0.3">-</text>
<text x="1826.7" y="1205.5" font-size="33" text-anchor="middle">+</text>
<text x="1859.6" y="1205.5" font-size="33" text-anchor="middle">+</text>
<text x="1892.5" y="1205.5" font-size="33" text-anchor="middle">+</text>
<line x1="1781.3" y1="1174" x2="1903.3" y2="1174" stroke="#000" stroke-width="2.2" stroke-dasharray="2.2 2.6"/>
<line x1="1785.3" y1="1175.5" x2="1745.3" y2="1219" stroke="#000" stroke-width="2.2" stroke-dasharray="2.2 2.6"/>
<text x="1935.9" y="1119.6" font-size="38" text-anchor="middle" stroke="#000" stroke-width="0.3">-</text>
<text x="1968.9" y="1119.6" font-size="38" text-anchor="middle" stroke="#000" stroke-width="0.3">-</text>
<text x="2001.8" y="1119.6" font-size="38" text-anchor="middle" stroke="#000" stroke-width="0.3">-</text>
<text x="2034.7" y="1121.8" font-size="33" text-anchor="middle">+</text>
<text x="1935.9" y="1161.2" font-size="38" text-anchor="middle" stroke="#000" stroke-width="0.3">-</text>
<text x="1968.9" y="1161.2" font-size="38" text-anchor="middle" stroke="#000" stroke-width="0.3">-</text>
<text x="2001.8" y="1163.4" font-size="33" text-anchor="middle">+</text>
<text x="2034.7" y="1161.2" font-size="38" text-anchor="middle" stroke="#000" stroke-width="0.3">-</text>
<text x="1935.9" y="1203.3" font-size="38" text-anchor="middle" stroke="#000" stroke-width="0.3">-</text>
<text x="1968.9" y="1205.5" font-size="33" text-anchor="middle">+</text>
<text x="2001.8" y="1205.5" font-size="33" text-anchor="middle">+</text>
<text x="2034.7" y="1205.5" font-size="33" text-anchor="middle">+</text>
<line x1="1923.3" y1="1174" x2="2045.3" y2="1174" stroke="#000" stroke-width="2.2" stroke-dasharray="2.2 2.6"/>
<line x1="1927.3" y1="1175.5" x2="1887.3" y2="1219" stroke="#000" stroke-width="2.2" stroke-dasharray="2.2 2.6"/>
<text x="1659.5" y="1210.5" font-size="32" stroke="#000" stroke-width="0.35" text-anchor="end" transform="rotate(-45 1659.5 1210.5)">Ant A</text>
<text x="1800" y="1215.5" font-size="32" stroke="#000" stroke-width="0.35" text-anchor="end" transform="rotate(-45 1800 1215.5)">Metf</text>
<text x="1944" y="1212.5" font-size="32" stroke="#000" stroke-width="0.35" text-anchor="end" transform="rotate(-45 1944 1212.5)">Hypo</text>
<text x="72" y="1534" font-size="57" font-weight="bold" textLength="27.5" lengthAdjust="spacingAndGlyphs">g</text>
<rect x="207.44" y="1488.76" width="22.31" height="21.34" fill="none" stroke="#000" stroke-width="2.8"/>
<text x="238.23" y="1509.9" font-size="32.5" stroke="#000" stroke-width="0.35" textLength="100" lengthAdjust="spacingAndGlyphs">Control</text>
<rect x="207.44" y="1535.44" width="22.31" height="21.34" fill="none" stroke="#e8211d" stroke-width="2.8"/>
<text x="238.23" y="1556.58" font-size="32.5" stroke="#000" stroke-width="0.35" textLength="111" lengthAdjust="spacingAndGlyphs">Comp C</text>
<rect x="204.93" y="1780.97" width="13.3" height="29.33" fill="#fff" stroke="#000" stroke-width="2.5"/>
<line x1="211.58" y1="1779.17" x2="211.58" y2="1782.77" stroke="#000" stroke-width="1.9"/>
<line x1="207.58" y1="1779.17" x2="215.58" y2="1779.17" stroke="#000" stroke-width="1.9"/>
<line x1="207.58" y1="1782.77" x2="215.58" y2="1782.77" stroke="#000" stroke-width="1.9"/>
<circle cx="207.38" cy="1781.87" r="2.6" fill="#000"/>
<circle cx="211.88" cy="1779.26" r="2.6" fill="#000"/>
<circle cx="216.18" cy="1782.05" r="2.6" fill="#000"/>
<rect x="230.37" y="1765.84" width="13.3" height="44.46" fill="#fff" stroke="#e8211d" stroke-width="2.5"/>
<line x1="237.02" y1="1764.84" x2="237.02" y2="1766.84" stroke="#e8211d" stroke-width="1.9"/>
<line x1="233.02" y1="1764.84" x2="241.02" y2="1764.84" stroke="#e8211d" stroke-width="1.9"/>
<line x1="233.02" y1="1766.84" x2="241.02" y2="1766.84" stroke="#e8211d" stroke-width="1.9"/>
<circle cx="232.82" cy="1766.34" r="2.6" fill="#e8211d"/>
<circle cx="237.32" cy="1764.89" r="2.6" fill="#e8211d"/>
<circle cx="241.62" cy="1766.44" r="2.6" fill="#e8211d"/>
<rect x="272.54" y="1761.01" width="13.3" height="49.29" fill="#fff" stroke="#000" stroke-width="2.5"/>
<line x1="279.19" y1="1758.61" x2="279.19" y2="1763.41" stroke="#000" stroke-width="1.9"/>
<line x1="275.19" y1="1758.61" x2="283.19" y2="1758.61" stroke="#000" stroke-width="1.9"/>
<line x1="275.19" y1="1763.41" x2="283.19" y2="1763.41" stroke="#000" stroke-width="1.9"/>
<circle cx="274.99" cy="1762.21" r="2.6" fill="#000"/>
<circle cx="279.49" cy="1758.73" r="2.6" fill="#000"/>
<circle cx="283.79" cy="1762.45" r="2.6" fill="#000"/>
<rect x="297.97" y="1649.94" width="13.3" height="160.36" fill="#fff" stroke="#e8211d" stroke-width="2.5"/>
<line x1="304.62" y1="1645.34" x2="304.62" y2="1654.54" stroke="#e8211d" stroke-width="1.9"/>
<line x1="300.62" y1="1645.34" x2="308.62" y2="1645.34" stroke="#e8211d" stroke-width="1.9"/>
<line x1="300.62" y1="1654.54" x2="308.62" y2="1654.54" stroke="#e8211d" stroke-width="1.9"/>
<circle cx="300.42" cy="1652.24" r="2.6" fill="#e8211d"/>
<circle cx="304.92" cy="1645.57" r="2.6" fill="#e8211d"/>
<circle cx="309.22" cy="1652.7" r="2.6" fill="#e8211d"/>
<line x1="188.33" y1="1810.3" x2="321.93" y2="1810.3" stroke="#000" stroke-width="2.8"/>
<line x1="194.12" y1="1602.76" x2="194.12" y2="1810.3" stroke="#000" stroke-width="2.2"/>
<line x1="188.62" y1="1741.45" x2="194.12" y2="1741.45" stroke="#000" stroke-width="2"/>
<line x1="188.62" y1="1672.6" x2="194.12" y2="1672.6" stroke="#000" stroke-width="2"/>
<line x1="188.62" y1="1603.76" x2="194.12" y2="1603.76" stroke="#000" stroke-width="2"/>
<line x1="224.39" y1="1810.3" x2="224.39" y2="1816.8" stroke="#000" stroke-width="2.2"/>
<line x1="291.35" y1="1810.3" x2="291.35" y2="1816.8" stroke="#000" stroke-width="2.2"/>
<rect x="340.79" y="1773.88" width="13.3" height="36.41" fill="#fff" stroke="#000" stroke-width="2.5"/>
<line x1="347.44" y1="1771.48" x2="347.44" y2="1776.28" stroke="#000" stroke-width="1.9"/>
<line x1="343.44" y1="1771.48" x2="351.44" y2="1771.48" stroke="#000" stroke-width="1.9"/>
<line x1="343.44" y1="1776.28" x2="351.44" y2="1776.28" stroke="#000" stroke-width="1.9"/>
<circle cx="343.24" cy="1775.08" r="2.6" fill="#000"/>
<circle cx="347.74" cy="1771.6" r="2.6" fill="#000"/>
<circle cx="352.04" cy="1775.32" r="2.6" fill="#000"/>
<rect x="366.54" y="1765.19" width="13.3" height="45.1" fill="#fff" stroke="#e8211d" stroke-width="2.5"/>
<line x1="373.19" y1="1762.39" x2="373.19" y2="1767.99" stroke="#e8211d" stroke-width="1.9"/>
<line x1="369.19" y1="1762.39" x2="377.19" y2="1762.39" stroke="#e8211d" stroke-width="1.9"/>
<line x1="369.19" y1="1767.99" x2="377.19" y2="1767.99" stroke="#e8211d" stroke-width="1.9"/>
<circle cx="368.99" cy="1766.59" r="2.6" fill="#e8211d"/>
<circle cx="373.49" cy="1762.53" r="2.6" fill="#e8211d"/>
<circle cx="377.79" cy="1766.87" r="2.6" fill="#e8211d"/>
<rect x="408.39" y="1771.63" width="13.3" height="38.67" fill="#fff" stroke="#000" stroke-width="2.5"/>
<line x1="415.04" y1="1765.23" x2="415.04" y2="1778.03" stroke="#000" stroke-width="1.9"/>
<line x1="411.04" y1="1765.23" x2="419.04" y2="1765.23" stroke="#000" stroke-width="1.9"/>
<line x1="411.04" y1="1778.03" x2="419.04" y2="1778.03" stroke="#000" stroke-width="1.9"/>
<circle cx="410.84" cy="1774.63" r="2.6" fill="#000"/>
<circle cx="415.34" cy="1765.55" r="2.6" fill="#000"/>
<circle cx="419.64" cy="1775.13" r="2.6" fill="#000"/>
<rect x="434.15" y="1691.79" width="13.3" height="118.51" fill="#fff" stroke="#e8211d" stroke-width="2.5"/>
<line x1="440.8" y1="1690.79" x2="440.8" y2="1692.79" stroke="#e8211d" stroke-width="1.9"/>
<line x1="436.8" y1="1690.79" x2="444.8" y2="1690.79" stroke="#e8211d" stroke-width="1.9"/>
<line x1="436.8" y1="1692.79" x2="444.8" y2="1692.79" stroke="#e8211d" stroke-width="1.9"/>
<circle cx="436.6" cy="1692.29" r="2.6" fill="#e8211d"/>
<circle cx="441.1" cy="1690.84" r="2.6" fill="#e8211d"/>
<circle cx="445.4" cy="1692.39" r="2.6" fill="#e8211d"/>
<line x1="324.51" y1="1810.3" x2="457.79" y2="1810.3" stroke="#000" stroke-width="2.8"/>
<line x1="329.98" y1="1602.76" x2="329.98" y2="1810.3" stroke="#000" stroke-width="2.2"/>
<line x1="324.48" y1="1741.45" x2="329.98" y2="1741.45" stroke="#000" stroke-width="2"/>
<line x1="324.48" y1="1672.6" x2="329.98" y2="1672.6" stroke="#000" stroke-width="2"/>
<line x1="324.48" y1="1603.76" x2="329.98" y2="1603.76" stroke="#000" stroke-width="2"/>
<line x1="359.92" y1="1810.3" x2="359.92" y2="1816.8" stroke="#000" stroke-width="2.2"/>
<line x1="427.2" y1="1810.3" x2="427.2" y2="1816.8" stroke="#000" stroke-width="2.2"/>
<rect x="476.96" y="1774.53" width="13.3" height="35.77" fill="#fff" stroke="#000" stroke-width="2.5"/>
<line x1="483.61" y1="1772.73" x2="483.61" y2="1776.33" stroke="#000" stroke-width="1.9"/>
<line x1="479.61" y1="1772.73" x2="487.61" y2="1772.73" stroke="#000" stroke-width="1.9"/>
<line x1="479.61" y1="1776.33" x2="487.61" y2="1776.33" stroke="#000" stroke-width="1.9"/>
<circle cx="479.41" cy="1775.43" r="2.6" fill="#000"/>
<circle cx="483.91" cy="1772.82" r="2.6" fill="#000"/>
<circle cx="488.21" cy="1775.61" r="2.6" fill="#000"/>
<rect x="502.4" y="1764.23" width="13.3" height="46.07" fill="#fff" stroke="#e8211d" stroke-width="2.5"/>
<line x1="509.05" y1="1763.03" x2="509.05" y2="1765.43" stroke="#e8211d" stroke-width="1.9"/>
<line x1="505.05" y1="1763.03" x2="513.05" y2="1763.03" stroke="#e8211d" stroke-width="1.9"/>
<line x1="505.05" y1="1765.43" x2="513.05" y2="1765.43" stroke="#e8211d" stroke-width="1.9"/>
<circle cx="504.85" cy="1764.83" r="2.6" fill="#e8211d"/>
<circle cx="509.35" cy="1763.09" r="2.6" fill="#e8211d"/>
<circle cx="513.65" cy="1764.95" r="2.6" fill="#e8211d"/>
<rect x="544.57" y="1755.53" width="13.3" height="54.76" fill="#fff" stroke="#000" stroke-width="2.5"/>
<line x1="551.22" y1="1743.03" x2="551.22" y2="1768.03" stroke="#000" stroke-width="1.9"/>
<line x1="547.22" y1="1743.03" x2="555.22" y2="1743.03" stroke="#000" stroke-width="1.9"/>
<line x1="547.22" y1="1768.03" x2="555.22" y2="1768.03" stroke="#000" stroke-width="1.9"/>
<circle cx="547.02" cy="1758.53" r="2.6" fill="#000"/>
<circle cx="551.52" cy="1743.66" r="2.6" fill="#000"/>
<circle cx="555.82" cy="1759.03" r="2.6" fill="#000"/>
<rect x="570" y="1684.39" width="13.3" height="125.91" fill="#fff" stroke="#e8211d" stroke-width="2.5"/>
<line x1="576.65" y1="1681.79" x2="576.65" y2="1686.99" stroke="#e8211d" stroke-width="1.9"/>
<line x1="572.65" y1="1681.79" x2="580.65" y2="1681.79" stroke="#e8211d" stroke-width="1.9"/>
<line x1="572.65" y1="1686.99" x2="580.65" y2="1686.99" stroke="#e8211d" stroke-width="1.9"/>
<circle cx="572.45" cy="1685.69" r="2.6" fill="#e8211d"/>
<circle cx="576.95" cy="1681.92" r="2.6" fill="#e8211d"/>
<circle cx="581.25" cy="1685.95" r="2.6" fill="#e8211d"/>
<line x1="461.01" y1="1810.3" x2="593.96" y2="1810.3" stroke="#000" stroke-width="2.8"/>
<line x1="466.16" y1="1602.76" x2="466.16" y2="1810.3" stroke="#000" stroke-width="2.2"/>
<line x1="460.66" y1="1741.45" x2="466.16" y2="1741.45" stroke="#000" stroke-width="2"/>
<line x1="460.66" y1="1672.6" x2="466.16" y2="1672.6" stroke="#000" stroke-width="2"/>
<line x1="460.66" y1="1603.76" x2="466.16" y2="1603.76" stroke="#000" stroke-width="2"/>
<line x1="495.77" y1="1810.3" x2="495.77" y2="1816.8" stroke="#000" stroke-width="2.2"/>
<line x1="563.38" y1="1810.3" x2="563.38" y2="1816.8" stroke="#000" stroke-width="2.2"/>
<text x="186.9" y="1817" font-size="33" stroke="#000" stroke-width="0.35" text-anchor="end">0</text>
<text x="186.9" y="1751.45" font-size="33" stroke="#000" stroke-width="0.35" text-anchor="end">20</text>
<text x="186.9" y="1682.6" font-size="33" stroke="#000" stroke-width="0.35" text-anchor="end">40</text>
<text x="186.9" y="1613.76" font-size="33" stroke="#000" stroke-width="0.35" text-anchor="end">60</text>
<text x="122.5" y="1698.87" font-size="32" stroke="#000" stroke-width="0.35" text-anchor="middle" transform="rotate(-90 122.5 1698.87)" textLength="195" lengthAdjust="spacingAndGlyphs">Cell death (%)</text>
<text x="210.87" y="1627.4" font-size="24.5" stroke="#000" stroke-width="0.12" textLength="107.85" lengthAdjust="spacingAndGlyphs"><tspan font-style="italic">p</tspan> &lt; 0.0001</text>
<line x1="282.33" y1="1635.45" x2="305.19" y2="1635.45" stroke="#000" stroke-width="2.4"/>
<text x="346.08" y="1670.87" font-size="24.5" stroke="#000" stroke-width="0.12" textLength="107.85" lengthAdjust="spacingAndGlyphs"><tspan font-style="italic">p</tspan> &lt; 0.0001</text>
<line x1="417.55" y1="1679.56" x2="440.4" y2="1679.56" stroke="#000" stroke-width="2.4"/>
<text x="482.9" y="1661.21" font-size="24.5" stroke="#000" stroke-width="0.12" textLength="111.07" lengthAdjust="spacingAndGlyphs"><tspan font-style="italic">p</tspan> = 0.0005</text>
<line x1="553.72" y1="1668.61" x2="576.26" y2="1668.61" stroke="#000" stroke-width="2.4"/>
<text x="223.74" y="1853.85" font-size="36" text-anchor="middle" stroke="#000" stroke-width="1.3">−</text>
<text x="290.7" y="1853.85" font-size="36" text-anchor="middle">+</text>
<text x="359.6" y="1853.85" font-size="36" text-anchor="middle" stroke="#000" stroke-width="1.3">−</text>
<text x="426.56" y="1853.85" font-size="36" text-anchor="middle">+</text>
<text x="501.25" y="1853.85" font-size="36" text-anchor="middle" stroke="#000" stroke-width="1.3">−</text>
<text x="567.57" y="1853.85" font-size="36" text-anchor="middle">+</text>
<line x1="203.78" y1="1864.02" x2="309.7" y2="1864.02" stroke="#000" stroke-width="2.8"/>
<line x1="338.99" y1="1864.02" x2="444.91" y2="1864.02" stroke="#000" stroke-width="2.8"/>
<line x1="480.64" y1="1864.02" x2="586.56" y2="1864.02" stroke="#000" stroke-width="2.8"/>
<text x="256.9" y="1909.09" font-size="32.5" stroke="#000" stroke-width="0.35" text-anchor="middle" textLength="82" lengthAdjust="spacingAndGlyphs">Ant A</text>
<text x="390.18" y="1909.09" font-size="32.5" stroke="#000" stroke-width="0.35" text-anchor="middle" textLength="65.4" lengthAdjust="spacingAndGlyphs">Metf</text>
<text x="536.34" y="1909.09" font-size="32.5" stroke="#000" stroke-width="0.35" text-anchor="middle" textLength="74.7" lengthAdjust="spacingAndGlyphs">Hypo</text>
<text x="722.3" y="1533.34" font-size="57" font-weight="bold" textLength="29.5" lengthAdjust="spacingAndGlyphs">h</text>
<g clip-path="url(#c42)">
<rect x="824.16" y="1684.91" width="182.26" height="52.7" fill="#f0f0f0"/>
<rect x="824.16" y="1684.91" width="182.26" height="52.7" filter="url(#nz)"/>
<g filter="url(#c42b5)">
<rect x="833.7" y="1674.91" width="39" height="72.7" rx="4" fill="#000" fill-opacity="0.04"/>
<rect x="953.1" y="1674.91" width="41" height="72.7" rx="4" fill="#000" fill-opacity="0.04"/>
</g>
<g filter="url(#c42b4)">
<rect x="833.2" y="1702.95" width="40" height="14.3" rx="7.15" fill="#000" fill-opacity="0.6"/>
<rect x="952.6" y="1703.4" width="42" height="14.6" rx="7.3" fill="#000" fill-opacity="0.6"/>
</g>
<g filter="url(#c42b1_7)">
<rect x="833.7" y="1706.45" width="39" height="6.3" rx="2.33" fill="#000" fill-opacity="1"/>
<rect x="953.1" y="1706.9" width="41" height="6.6" rx="2.44" fill="#000" fill-opacity="1"/>
</g>
</g>
<rect x="825.41" y="1686.16" width="179.76" height="50.2" fill="none" stroke="#000" stroke-width="2.5"/>
<g clip-path="url(#c43)">
<rect x="824.16" y="1746.03" width="182.26" height="52.15" fill="#eeeeee"/>
<rect x="824.16" y="1746.03" width="182.26" height="52.15" filter="url(#nz)"/>
<g filter="url(#c43b5)">
<rect x="833.3" y="1736.03" width="48" height="72.15" rx="4" fill="#000" fill-opacity="0.04"/>
<rect x="886.3" y="1736.03" width="56" height="72.15" rx="4" fill="#000" fill-opacity="0.05"/>
<rect x="939.3" y="1736.03" width="56" height="72.15" rx="4" fill="#000" fill-opacity="0.05"/>
</g>
<g filter="url(#c43b4)">
<rect x="832.8" y="1763.8" width="49" height="15" rx="7.5" fill="#000" fill-opacity="0.45"/>
<rect x="835" y="1762.5" width="17" height="16" rx="8" fill="#000" fill-opacity="0.54"/>
<rect x="885.8" y="1762.05" width="57" height="18.5" rx="9.25" fill="#000" fill-opacity="0.6"/>
<rect x="938.8" y="1762.55" width="57" height="18.5" rx="9.25" fill="#000" fill-opacity="0.6"/>
</g>
<g filter="url(#c43b1_7)">
<rect x="833.3" y="1767.3" width="48" height="7" rx="2.59" fill="#000" fill-opacity="0.75"/>
<rect x="835.5" y="1766" width="16" height="8" rx="2.96" fill="#000" fill-opacity="0.9"/>
<rect x="886.3" y="1765.55" width="56" height="10.5" rx="3.89" fill="#000" fill-opacity="1"/>
<rect x="939.3" y="1766.05" width="56" height="10.5" rx="3.89" fill="#000" fill-opacity="1"/>
</g>
</g>
<rect x="825.41" y="1747.28" width="179.76" height="49.65" fill="none" stroke="#000" stroke-width="2.5"/>
<text x="812.48" y="1716.69" font-size="32" stroke="#000" stroke-width="0.35" text-anchor="end" textLength="115" lengthAdjust="spacingAndGlyphs">AMPKα</text>
<text x="812.48" y="1787.31" font-size="32" stroke="#000" stroke-width="0.35" text-anchor="end" textLength="115" lengthAdjust="spacingAndGlyphs">GAPDH</text>
<text x="1014.85" y="1681.38" font-size="33" stroke="#000" stroke-width="0.35" textLength="55.7" lengthAdjust="spacingAndGlyphs">kDa</text>
<line x1="1005.89" y1="1722.12" x2="1016.21" y2="1722.12" stroke="#000" stroke-width="2.6"/>
<text x="1021.64" y="1732.42" font-size="32" stroke="#000" stroke-width="0.35">55</text>
<line x1="1005.89" y1="1774.28" x2="1016.21" y2="1774.28" stroke="#000" stroke-width="2.6"/>
<text x="1021.64" y="1784.58" font-size="32" stroke="#000" stroke-width="0.35">35</text>
<text x="848.07" y="1681.11" font-size="31" stroke="#000" stroke-width="0.35" transform="rotate(-45 848.07 1681.11)" textLength="51" lengthAdjust="spacingAndGlyphs">WT</text>
<text x="904.84" y="1673.23" font-size="30.5" stroke="#000" stroke-width="0.35" transform="rotate(-45 904.84 1673.23)" textLength="169" lengthAdjust="spacingAndGlyphs">AMPKα-KO</text>
<text x="971.39" y="1678.66" font-size="30.5" stroke="#000" stroke-width="0.35" transform="rotate(-45 971.39 1678.66)" textLength="174.5" lengthAdjust="spacingAndGlyphs">Re-AMPKα1</text>
<text x="1158.5" y="1533.3" font-size="57" font-weight="bold">i</text>
<line x1="1338.1" y1="1512.64" x2="1338.1" y2="1825.72" stroke="#000" stroke-width="2"/>
<line x1="1332.1" y1="1513.1" x2="1337.64" y2="1513.1" stroke="#000" stroke-width="2"/>
<line x1="1332.1" y1="1617" x2="1337.64" y2="1617" stroke="#000" stroke-width="2"/>
<line x1="1332.1" y1="1719.98" x2="1337.64" y2="1719.98" stroke="#000" stroke-width="2"/>
<line x1="1332.1" y1="1823.41" x2="1337.64" y2="1823.41" stroke="#000" stroke-width="2"/>
<line x1="1337.64" y1="1823.41" x2="1375.5" y2="1823.41" stroke="#000" stroke-width="2"/>
<line x1="1375.5" y1="1813.25" x2="1375.5" y2="1834.03" stroke="#000" stroke-width="2"/>
<line x1="1410.14" y1="1823.41" x2="1698.74" y2="1823.41" stroke="#000" stroke-width="2"/>
<line x1="1410.14" y1="1813.25" x2="1410.14" y2="1834.03" stroke="#000" stroke-width="2"/>
<line x1="1466.93" y1="1823.41" x2="1466.93" y2="1829.42" stroke="#000" stroke-width="2"/>
<line x1="1524.65" y1="1823.41" x2="1524.65" y2="1829.42" stroke="#000" stroke-width="2"/>
<line x1="1582.38" y1="1823.41" x2="1582.38" y2="1829.42" stroke="#000" stroke-width="2"/>
<line x1="1640.1" y1="1823.41" x2="1640.1" y2="1829.42" stroke="#000" stroke-width="2"/>
<line x1="1698.74" y1="1823.41" x2="1698.74" y2="1829.42" stroke="#000" stroke-width="2"/>
<text x="1317.78" y="1526.03" font-size="32" stroke="#000" stroke-width="0.35" text-anchor="end">1500</text>
<text x="1317.78" y="1628.55" font-size="32" stroke="#000" stroke-width="0.35" text-anchor="end">1000</text>
<text x="1317.78" y="1732.44" font-size="32" stroke="#000" stroke-width="0.35" text-anchor="end">500</text>
<text x="1317.78" y="1833.11" font-size="32" stroke="#000" stroke-width="0.35" text-anchor="end">0</text>
<text x="1339.48" y="1866.36" font-size="32" stroke="#000" stroke-width="0.35" text-anchor="middle">0</text>
<text x="1412.44" y="1866.36" font-size="32" stroke="#000" stroke-width="0.35" text-anchor="middle">10</text>
<text x="1469.24" y="1866.36" font-size="32" stroke="#000" stroke-width="0.35" text-anchor="middle">12</text>
<text x="1525.58" y="1866.36" font-size="32" stroke="#000" stroke-width="0.35" text-anchor="middle">14</text>
<text x="1582.38" y="1866.36" font-size="32" stroke="#000" stroke-width="0.35" text-anchor="middle">16</text>
<text x="1640.1" y="1866.36" font-size="32" stroke="#000" stroke-width="0.35" text-anchor="middle">18</text>
<text x="1694.12" y="1866.36" font-size="32" stroke="#000" stroke-width="0.35" text-anchor="middle">20</text>
<text x="1523.27" y="1910.23" font-size="32.5" stroke="#000" stroke-width="0.35" text-anchor="middle" textLength="69.3" lengthAdjust="spacingAndGlyphs">Days</text>
<text x="1234.66" y="1674.72" font-size="32" stroke="#000" stroke-width="0.35" text-anchor="middle" transform="rotate(-90 1234.66 1674.72)" textLength="291" lengthAdjust="spacingAndGlyphs">Tumor volume (mm³)</text>
<line x1="1337.64" y1="1823.41" x2="1377.81" y2="1805.87" stroke="#1414f5" stroke-width="2.3"/>
<line x1="1337.64" y1="1823.41" x2="1377.81" y2="1806.33" stroke="#000" stroke-width="2.3"/>
<line x1="1467.86" y1="1792.47" x2="1467.86" y2="1785.55" stroke="#bd231c" stroke-width="2.2"/>
<line x1="1461.16" y1="1785.55" x2="1474.56" y2="1785.55" stroke="#bd231c" stroke-width="2.3"/>
<line x1="1524.65" y1="1780.01" x2="1524.65" y2="1772.62" stroke="#bd231c" stroke-width="2.2"/>
<line x1="1517.95" y1="1772.62" x2="1531.35" y2="1772.62" stroke="#bd231c" stroke-width="2.3"/>
<line x1="1582.38" y1="1772.62" x2="1582.38" y2="1763.38" stroke="#bd231c" stroke-width="2.2"/>
<line x1="1575.68" y1="1763.38" x2="1589.08" y2="1763.38" stroke="#bd231c" stroke-width="2.3"/>
<line x1="1641.02" y1="1759.23" x2="1641.02" y2="1750.92" stroke="#bd231c" stroke-width="2.2"/>
<line x1="1634.32" y1="1750.92" x2="1647.72" y2="1750.92" stroke="#bd231c" stroke-width="2.3"/>
<line x1="1698.74" y1="1748.61" x2="1698.74" y2="1737.06" stroke="#bd231c" stroke-width="2.2"/>
<line x1="1692.04" y1="1737.06" x2="1705.44" y2="1737.06" stroke="#bd231c" stroke-width="2.3"/>
<polyline points="1410.14,1794.78 1467.86,1792.47 1524.65,1780.01 1582.38,1772.62 1641.02,1759.23 1698.74,1748.61" fill="none" stroke="#bd231c" stroke-width="2.3"/>
<circle cx="1410.14" cy="1794.78" r="6.9" fill="#bd231c"/>
<circle cx="1467.86" cy="1792.47" r="6.9" fill="#bd231c"/>
<circle cx="1524.65" cy="1780.01" r="6.9" fill="#bd231c"/>
<circle cx="1582.38" cy="1772.62" r="6.9" fill="#bd231c"/>
<circle cx="1641.02" cy="1759.23" r="6.9" fill="#bd231c"/>
<circle cx="1698.74" cy="1748.61" r="6.9" fill="#bd231c"/>
<line x1="1467.86" y1="1780.93" x2="1467.86" y2="1774" stroke="#8f8c3c" stroke-width="2.2"/>
<line x1="1461.16" y1="1774" x2="1474.56" y2="1774" stroke="#8f8c3c" stroke-width="2.3"/>
<line x1="1524.65" y1="1751.84" x2="1524.65" y2="1737.06" stroke="#8f8c3c" stroke-width="2.2"/>
<line x1="1517.95" y1="1737.06" x2="1531.35" y2="1737.06" stroke="#8f8c3c" stroke-width="2.3"/>
<line x1="1582.38" y1="1683.96" x2="1582.38" y2="1647.94" stroke="#8f8c3c" stroke-width="2.2"/>
<line x1="1575.68" y1="1647.94" x2="1589.08" y2="1647.94" stroke="#8f8c3c" stroke-width="2.3"/>
<line x1="1641.02" y1="1644.71" x2="1641.02" y2="1594.84" stroke="#8f8c3c" stroke-width="2.2"/>
<line x1="1634.32" y1="1594.84" x2="1647.72" y2="1594.84" stroke="#8f8c3c" stroke-width="2.3"/>
<line x1="1698.74" y1="1620.23" x2="1698.74" y2="1567.13" stroke="#8f8c3c" stroke-width="2.2"/>
<line x1="1692.04" y1="1567.13" x2="1705.44" y2="1567.13" stroke="#8f8c3c" stroke-width="2.3"/>
<polyline points="1410.14,1794.78 1467.86,1780.93 1524.65,1751.84 1582.38,1683.96 1641.02,1644.71 1698.74,1620.23" fill="none" stroke="#8f8c3c" stroke-width="2.3"/>
<circle cx="1410.14" cy="1794.78" r="6.9" fill="#8f8c3c"/>
<circle cx="1467.86" cy="1780.93" r="6.9" fill="#8f8c3c"/>
<circle cx="1524.65" cy="1751.84" r="6.9" fill="#8f8c3c"/>
<circle cx="1582.38" cy="1683.96" r="6.9" fill="#8f8c3c"/>
<circle cx="1641.02" cy="1644.71" r="6.9" fill="#8f8c3c"/>
<circle cx="1698.74" cy="1620.23" r="6.9" fill="#8f8c3c"/>
<line x1="1410.14" y1="1794.78" x2="1410.14" y2="1784.62" stroke="#1414f5" stroke-width="2.2"/>
<line x1="1403.44" y1="1784.62" x2="1416.84" y2="1784.62" stroke="#1414f5" stroke-width="2.3"/>
<line x1="1524.65" y1="1758.77" x2="1524.65" y2="1745.37" stroke="#1414f5" stroke-width="2.2"/>
<line x1="1517.95" y1="1745.37" x2="1531.35" y2="1745.37" stroke="#1414f5" stroke-width="2.3"/>
<line x1="1582.38" y1="1715.36" x2="1582.38" y2="1688.58" stroke="#1414f5" stroke-width="2.2"/>
<line x1="1575.68" y1="1688.58" x2="1589.08" y2="1688.58" stroke="#1414f5" stroke-width="2.3"/>
<line x1="1641.02" y1="1685.34" x2="1641.02" y2="1663.18" stroke="#1414f5" stroke-width="2.2"/>
<line x1="1634.32" y1="1663.18" x2="1647.72" y2="1663.18" stroke="#1414f5" stroke-width="2.3"/>
<line x1="1698.74" y1="1657.18" x2="1698.74" y2="1640.09" stroke="#1414f5" stroke-width="2.2"/>
<line x1="1692.04" y1="1640.09" x2="1705.44" y2="1640.09" stroke="#1414f5" stroke-width="2.3"/>
<polyline points="1410.14,1794.78 1467.86,1780.01 1524.65,1758.77 1582.38,1715.36 1641.02,1685.34 1698.74,1657.18" fill="none" stroke="#1414f5" stroke-width="2.3"/>
<circle cx="1410.14" cy="1794.78" r="6.9" fill="#1414f5"/>
<circle cx="1467.86" cy="1780.01" r="6.9" fill="#1414f5"/>
<circle cx="1524.65" cy="1758.77" r="6.9" fill="#1414f5"/>
<circle cx="1582.38" cy="1715.36" r="6.9" fill="#1414f5"/>
<circle cx="1641.02" cy="1685.34" r="6.9" fill="#1414f5"/>
<circle cx="1698.74" cy="1657.18" r="6.9" fill="#1414f5"/>
<line x1="1467.86" y1="1777.24" x2="1467.86" y2="1768.46" stroke="#000" stroke-width="2.2"/>
<line x1="1461.16" y1="1768.46" x2="1474.56" y2="1768.46" stroke="#000" stroke-width="2.3"/>
<line x1="1524.65" y1="1750.92" x2="1524.65" y2="1730.14" stroke="#000" stroke-width="2.2"/>
<line x1="1517.95" y1="1730.14" x2="1531.35" y2="1730.14" stroke="#000" stroke-width="2.3"/>
<line x1="1582.38" y1="1704.74" x2="1582.38" y2="1659.48" stroke="#000" stroke-width="2.2"/>
<line x1="1575.68" y1="1659.48" x2="1589.08" y2="1659.48" stroke="#000" stroke-width="2.3"/>
<line x1="1641.02" y1="1658.56" x2="1641.02" y2="1597.61" stroke="#000" stroke-width="2.2"/>
<line x1="1634.32" y1="1597.61" x2="1647.72" y2="1597.61" stroke="#000" stroke-width="2.3"/>
<line x1="1698.74" y1="1634.09" x2="1698.74" y2="1572.21" stroke="#000" stroke-width="2.2"/>
<line x1="1692.04" y1="1572.21" x2="1705.44" y2="1572.21" stroke="#000" stroke-width="2.3"/>
<polyline points="1410.14,1794.78 1467.86,1777.24 1524.65,1750.92 1582.38,1704.74 1641.02,1658.56 1698.74,1634.09" fill="none" stroke="#000" stroke-width="2.3"/>
<circle cx="1410.14" cy="1794.78" r="6.9" fill="#000"/>
<circle cx="1467.86" cy="1777.24" r="6.9" fill="#000"/>
<circle cx="1524.65" cy="1750.92" r="6.9" fill="#000"/>
<circle cx="1582.38" cy="1704.74" r="6.9" fill="#000"/>
<circle cx="1641.02" cy="1658.56" r="6.9" fill="#000"/>
<circle cx="1698.74" cy="1634.09" r="6.9" fill="#000"/>
<circle cx="1337.64" cy="1823.41" r="6.9" fill="#000"/>
<circle cx="1410.14" cy="1794.78" r="6.9" fill="#000"/>
<polygon points="1407.17,1738.39 1412.72,1738.39 1412.72,1757.71 1422.62,1748.65 1409.94,1773.16 1397.87,1748.65 1407.17,1757.71" fill="#000"/>
<line x1="1789.71" y1="1604.53" x2="1835.89" y2="1604.53" stroke="#000" stroke-width="3.8"/>
<text x="1854.82" y="1614.69" font-size="32.5" stroke="#000" stroke-width="0.35" textLength="103.9" lengthAdjust="spacingAndGlyphs">Vehicle</text>
<line x1="1789.71" y1="1651.63" x2="1835.89" y2="1651.63" stroke="#8f8c3c" stroke-width="3.8"/>
<text x="1854.82" y="1661.79" font-size="32.5" stroke="#4d4d4d" stroke-width="0.35" fill="#4d4d4d" textLength="65.6" lengthAdjust="spacingAndGlyphs">Metf</text>
<line x1="1789.71" y1="1698.74" x2="1835.89" y2="1698.74" stroke="#1414f5" stroke-width="3.8"/>
<text x="1854.82" y="1709.36" font-size="32.5" stroke="#1414f5" stroke-width="0.35" fill="#1414f5" textLength="113" lengthAdjust="spacingAndGlyphs">Comp C</text>
<line x1="1789.71" y1="1746.3" x2="1835.89" y2="1746.3" stroke="#bd231c" stroke-width="3.8"/>
<text x="1854.82" y="1756.46" font-size="32.5" stroke="#bd231c" stroke-width="0.35" fill="#bd231c" textLength="92.4" lengthAdjust="spacingAndGlyphs">Metf +</text>
<text x="1854.82" y="1797.09" font-size="32.5" stroke="#bd231c" stroke-width="0.35" fill="#bd231c" textLength="113" lengthAdjust="spacingAndGlyphs">Comp C</text>
<path d="M1713.98 1658.56 H1725.53 V1752.3 H1713.98" fill="none" stroke="#000" stroke-width="2.2"/>
<text x="1756.46" y="1705.66" font-size="24.5" stroke="#000" stroke-width="0.12" text-anchor="middle" transform="rotate(-90 1756.46 1705.66)" textLength="109" lengthAdjust="spacingAndGlyphs"><tspan font-style="italic">p</tspan> &lt; 0.0001</text>
</svg>
</body></html>
